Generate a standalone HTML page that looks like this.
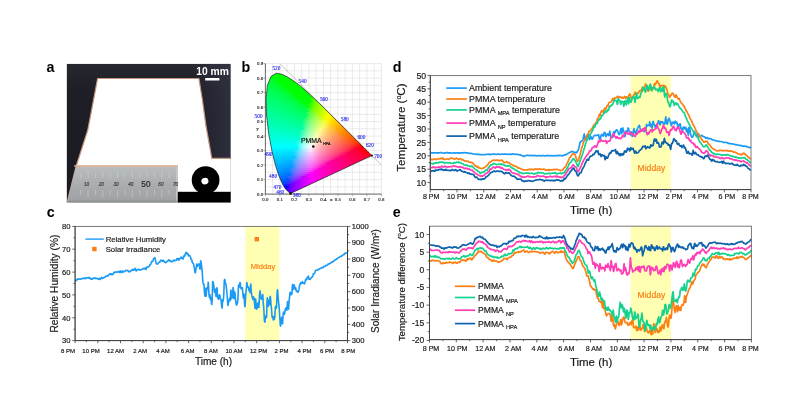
<!DOCTYPE html>
<html lang="en"><head><meta charset="utf-8"><title>Figure</title>
<style>html,body{margin:0;padding:0;background:#fff}svg{display:block}text{white-space:pre}</style>
</head><body>
<svg width="799" height="414" viewBox="0 0 799 414">
<rect width="799" height="414" fill="#fff"/>
<defs>
<linearGradient id="gDark" x1="0" y1="0" x2="0" y2="1"><stop offset="0" stop-color="#27272f"/><stop offset="0.2" stop-color="#1e1e26"/><stop offset="1" stop-color="#1a1a22"/></linearGradient>
<linearGradient id="gRuler" x1="0" y1="0" x2="0" y2="1"><stop offset="0" stop-color="#c9b8aa"/><stop offset="0.06" stop-color="#b9bcbe"/><stop offset="0.3" stop-color="#b0b4b6"/><stop offset="0.62" stop-color="#a6aaac"/><stop offset="0.9" stop-color="#a0a4a6"/><stop offset="1" stop-color="#8f9395"/></linearGradient>
<linearGradient id="gDarkR" x1="0" y1="0" x2="1" y2="0"><stop offset="0" stop-color="#3a3e52" stop-opacity="0"/><stop offset="1" stop-color="#3a3e52" stop-opacity="0.55"/></linearGradient>
<clipPath id="clipA"><rect x="66.6" y="63.7" width="164.1" height="138.8"/></clipPath>
<filter id="blurA" x="-5%" y="-5%" width="110%" height="110%"><feGaussianBlur stdDeviation="0.45"/></filter>
<filter id="blurT" x="-5%" y="-20%" width="110%" height="140%"><feGaussianBlur stdDeviation="0.3"/></filter>
</defs>
<text x="46.4" y="71.7" font-size="14.3" font-weight="bold" fill="#000" font-family="'Liberation Sans', Arial, sans-serif">a</text>
<g clip-path="url(#clipA)">
<rect x="66.6" y="63.7" width="164.1" height="138.8" fill="url(#gDark)"/>
<rect x="190" y="63.7" width="41" height="96" fill="url(#gDarkR)"/>
<g filter="url(#blurA)">
<path d="M97.6,78.5 L198.9,78.5 L202.4,100 L205.9,125.4 L211.8,158.3 L232,158.3 L232,204 L66,204 L67.2,202.5 L76.2,166 L87.8,130 Z" fill="#ffffff" stroke="#c4957c" stroke-width="1.2"/>
<path d="M76.4,165.6 L178,165.6 L178,203 L66.9,203 Z" fill="url(#gRuler)"/>
<rect x="74" y="165.2" width="104" height="1.5" fill="#e6b08e" opacity="0.85"/>
<rect x="176.2" y="167" width="1.8" height="36" fill="#c6cacc" opacity="0.8"/>
<rect x="66" y="200.8" width="112" height="1.2" fill="#8b8f92" opacity="0.7"/>
<line x1="80.7" y1="173.5" x2="80.7" y2="178" stroke="#cfd2d4" stroke-width="0.7" opacity="0.75"/>
<line x1="80.7" y1="190" x2="80.7" y2="195" stroke="#cfd2d4" stroke-width="0.7" opacity="0.75"/>
<line x1="88.1" y1="171" x2="88.1" y2="178" stroke="#cfd2d4" stroke-width="0.7" opacity="0.75"/>
<line x1="88.1" y1="190" x2="88.1" y2="197.5" stroke="#cfd2d4" stroke-width="0.7" opacity="0.75"/>
<line x1="95.4" y1="173.5" x2="95.4" y2="178" stroke="#cfd2d4" stroke-width="0.7" opacity="0.75"/>
<line x1="95.4" y1="190" x2="95.4" y2="195" stroke="#cfd2d4" stroke-width="0.7" opacity="0.75"/>
<line x1="102.8" y1="171" x2="102.8" y2="178" stroke="#cfd2d4" stroke-width="0.7" opacity="0.75"/>
<line x1="102.8" y1="190" x2="102.8" y2="197.5" stroke="#cfd2d4" stroke-width="0.7" opacity="0.75"/>
<line x1="110.2" y1="173.5" x2="110.2" y2="178" stroke="#cfd2d4" stroke-width="0.7" opacity="0.75"/>
<line x1="110.2" y1="190" x2="110.2" y2="195" stroke="#cfd2d4" stroke-width="0.7" opacity="0.75"/>
<line x1="117.6" y1="171" x2="117.6" y2="178" stroke="#cfd2d4" stroke-width="0.7" opacity="0.75"/>
<line x1="117.6" y1="190" x2="117.6" y2="197.5" stroke="#cfd2d4" stroke-width="0.7" opacity="0.75"/>
<line x1="124.9" y1="173.5" x2="124.9" y2="178" stroke="#cfd2d4" stroke-width="0.7" opacity="0.75"/>
<line x1="124.9" y1="190" x2="124.9" y2="195" stroke="#cfd2d4" stroke-width="0.7" opacity="0.75"/>
<line x1="132.3" y1="171" x2="132.3" y2="178" stroke="#cfd2d4" stroke-width="0.7" opacity="0.75"/>
<line x1="132.3" y1="190" x2="132.3" y2="197.5" stroke="#cfd2d4" stroke-width="0.7" opacity="0.75"/>
<line x1="139.7" y1="173.5" x2="139.7" y2="178" stroke="#cfd2d4" stroke-width="0.7" opacity="0.75"/>
<line x1="139.7" y1="190" x2="139.7" y2="195" stroke="#cfd2d4" stroke-width="0.7" opacity="0.75"/>
<line x1="147" y1="171" x2="147" y2="178" stroke="#cfd2d4" stroke-width="0.7" opacity="0.75"/>
<line x1="147" y1="190" x2="147" y2="197.5" stroke="#cfd2d4" stroke-width="0.7" opacity="0.75"/>
<line x1="154.4" y1="173.5" x2="154.4" y2="178" stroke="#cfd2d4" stroke-width="0.7" opacity="0.75"/>
<line x1="154.4" y1="190" x2="154.4" y2="195" stroke="#cfd2d4" stroke-width="0.7" opacity="0.75"/>
<line x1="161.8" y1="171" x2="161.8" y2="178" stroke="#cfd2d4" stroke-width="0.7" opacity="0.75"/>
<line x1="161.8" y1="190" x2="161.8" y2="197.5" stroke="#cfd2d4" stroke-width="0.7" opacity="0.75"/>
<line x1="169.1" y1="173.5" x2="169.1" y2="178" stroke="#cfd2d4" stroke-width="0.7" opacity="0.75"/>
<line x1="169.1" y1="190" x2="169.1" y2="195" stroke="#cfd2d4" stroke-width="0.7" opacity="0.75"/>
<line x1="176.5" y1="171" x2="176.5" y2="178" stroke="#cfd2d4" stroke-width="0.7" opacity="0.75"/>
<line x1="176.5" y1="190" x2="176.5" y2="197.5" stroke="#cfd2d4" stroke-width="0.7" opacity="0.75"/>
</g>
<g filter="url(#blurT)">
<text x="86.5" y="185.8" font-size="4.6" text-anchor="middle" fill="#3d3f42" font-family="'Liberation Sans', Arial, sans-serif" font-style="italic" stroke="#3d3f42" stroke-width="0.18">10</text>
<text x="101.2" y="185.8" font-size="4.6" text-anchor="middle" fill="#3d3f42" font-family="'Liberation Sans', Arial, sans-serif" font-style="italic" stroke="#3d3f42" stroke-width="0.18">20</text>
<text x="116.1" y="185.8" font-size="4.6" text-anchor="middle" fill="#3d3f42" font-family="'Liberation Sans', Arial, sans-serif" font-style="italic" stroke="#3d3f42" stroke-width="0.18">30</text>
<text x="130.8" y="185.8" font-size="4.6" text-anchor="middle" fill="#3d3f42" font-family="'Liberation Sans', Arial, sans-serif" font-style="italic" stroke="#3d3f42" stroke-width="0.18">40</text>
<text x="160.9" y="185.8" font-size="4.6" text-anchor="middle" fill="#3d3f42" font-family="'Liberation Sans', Arial, sans-serif" font-style="italic" stroke="#3d3f42" stroke-width="0.18">60</text>
<text x="175.6" y="185.8" font-size="4.6" text-anchor="middle" fill="#3d3f42" font-family="'Liberation Sans', Arial, sans-serif" font-style="italic" stroke="#3d3f42" stroke-width="0.18">70</text>
<text x="145.9" y="186.9" font-size="8.2" text-anchor="middle" fill="#26282b" font-family="'Liberation Sans', Arial, sans-serif"  stroke="#26282b" stroke-width="0.18">50</text>
</g>
<g filter="url(#blurT)">
<rect x="177.8" y="191.8" width="54" height="12" fill="#000"/>
<circle cx="205.6" cy="180.1" r="13.9" fill="#000"/>
<ellipse cx="204.9" cy="181.1" rx="3.6" ry="3.2" fill="#fff" transform="rotate(-15 204.9 181.1)"/>
</g>
<rect x="205.2" y="78" width="14.2" height="2.5" fill="#fff"/>
<text x="212.6" y="74.7" font-size="10.3" text-anchor="middle" fill="#fff" font-weight="bold" font-family="'Liberation Sans', Arial, sans-serif" >10 mm</text>
</g>
<text x="241.4" y="71.7" font-size="14.3" font-weight="bold" fill="#000" font-family="'Liberation Sans', Arial, sans-serif">b</text>
<path d="M265.4,194.1 V63.6 M272.6,194.1 V63.6 M279.9,194.1 V63.6 M287.1,194.1 V63.6 M294.4,194.1 V63.6 M301.6,194.1 V63.6 M308.9,194.1 V63.6 M316.1,194.1 V63.6 M323.4,194.1 V63.6 M330.6,194.1 V63.6 M337.9,194.1 V63.6 M345.1,194.1 V63.6 M352.4,194.1 V63.6 M359.6,194.1 V63.6 M366.9,194.1 V63.6 M374.1,194.1 V63.6 M381.4,194.1 V63.6 M265.4,194.1 H381.4 M265.4,186.8 H381.4 M265.4,179.6 H381.4 M265.4,172.3 H381.4 M265.4,165.1 H381.4 M265.4,157.8 H381.4 M265.4,150.6 H381.4 M265.4,143.3 H381.4 M265.4,136.1 H381.4 M265.4,128.8 H381.4 M265.4,121.6 H381.4 M265.4,114.3 H381.4 M265.4,107.1 H381.4 M265.4,99.8 H381.4 M265.4,92.6 H381.4 M265.4,85.3 H381.4 M265.4,78.1 H381.4 M265.4,70.8 H381.4 M265.4,63.6 H381.4" stroke="#dcdcdc" stroke-width="0.6" fill="none"/>
<path d="M265.4,63.6 V194.1 H381.4" stroke="#5a5a5a" stroke-width="0.9" fill="none"/>
<path d="M265.4,194.1 h-2 M265.4,179.6 h-2 M265.4,165.1 h-2 M265.4,150.6 h-2 M265.4,136.1 h-2 M265.4,121.6 h-2 M265.4,107.1 h-2 M265.4,92.6 h-2 M265.4,78.1 h-2 M265.4,63.6 h-2 M265.4,194.1 v2 M279.9,194.1 v2 M294.4,194.1 v2 M308.9,194.1 v2 M323.4,194.1 v2 M337.9,194.1 v2 M352.4,194.1 v2 M366.9,194.1 v2 M381.4,194.1 v2" stroke="#777" stroke-width="0.6" fill="none"/>
<line x1="279.9" y1="63.6" x2="381.4" y2="165.1" stroke="#9a9a9a" stroke-width="0.6"/>
<defs><clipPath id="clipB"><path d="M290.6,193.4 L290.6,193.4 L290.5,193.4 L290.4,193.4 L290.3,193.4 L289.9,193.1 L289.2,192.5 L288.1,191.5 L287.3,190.8 L286.3,189.8 L285,188.3 L283.4,185.7 L281.3,181.5 L278.6,174.9 L275.4,165 L272,151.3 L268.8,134.3 L266.6,116 L266,99.2 L267.4,85.3 L271,76.4 L276.2,73.2 L282,74.3 L287.8,77.2 L293.4,80.8 L298.7,84.7 L303.9,89.1 L309.1,93.7 L314.3,98.6 L319.5,103.5 L324.7,108.6 L329.8,113.7 L334.8,118.7 L339.7,123.5 L344.4,128.2 L348.8,132.6 L352.8,136.6 L356.3,140.1 L359.4,143.1 L361.9,145.7 L364,147.7 L365.7,149.4 L367,150.7 L368,151.8 L368.9,152.6 L369.7,153.4 L370.2,153.9 L370.7,154.4 L371.2,154.9 L371.9,155.6 Z"/></clipPath>
<linearGradient id="r0" gradientUnits="userSpaceOnUse" x1="273.3" x2="282" y1="0" y2="0"><stop offset="0.000" stop-color="#00ff00"/><stop offset="0.500" stop-color="#00ff00"/><stop offset="1.000" stop-color="#00ff00"/></linearGradient>
<linearGradient id="r1" gradientUnits="userSpaceOnUse" x1="270.1" x2="286.9" y1="0" y2="0"><stop offset="0.000" stop-color="#00ff00"/><stop offset="0.250" stop-color="#00ff00"/><stop offset="0.500" stop-color="#00ff00"/><stop offset="0.750" stop-color="#00ff00"/><stop offset="1.000" stop-color="#00ff00"/></linearGradient>
<linearGradient id="r2" gradientUnits="userSpaceOnUse" x1="268.9" x2="290.6" y1="0" y2="0"><stop offset="0.000" stop-color="#00ff1f"/><stop offset="0.200" stop-color="#00ff00"/><stop offset="0.400" stop-color="#00ff00"/><stop offset="0.600" stop-color="#00ff00"/><stop offset="0.800" stop-color="#00ff00"/><stop offset="1.000" stop-color="#00ff00"/></linearGradient>
<linearGradient id="r3" gradientUnits="userSpaceOnUse" x1="268.1" x2="293.7" y1="0" y2="0"><stop offset="0.000" stop-color="#00ff30"/><stop offset="0.167" stop-color="#00ff19"/><stop offset="0.333" stop-color="#00ff00"/><stop offset="0.500" stop-color="#00ff00"/><stop offset="0.667" stop-color="#00ff00"/><stop offset="0.833" stop-color="#00ff00"/><stop offset="1.000" stop-color="#00ff00"/></linearGradient>
<linearGradient id="r4" gradientUnits="userSpaceOnUse" x1="267.2" x2="296.6" y1="0" y2="0"><stop offset="0.000" stop-color="#00ff3c"/><stop offset="0.143" stop-color="#00ff2d"/><stop offset="0.286" stop-color="#00ff10"/><stop offset="0.429" stop-color="#00ff00"/><stop offset="0.571" stop-color="#00ff00"/><stop offset="0.714" stop-color="#00ff00"/><stop offset="0.857" stop-color="#00ff00"/><stop offset="1.000" stop-color="#00ff00"/></linearGradient>
<linearGradient id="r5" gradientUnits="userSpaceOnUse" x1="266.4" x2="299.2" y1="0" y2="0"><stop offset="0.000" stop-color="#00ff46"/><stop offset="0.143" stop-color="#00ff39"/><stop offset="0.286" stop-color="#00ff25"/><stop offset="0.429" stop-color="#00ff00"/><stop offset="0.571" stop-color="#00ff00"/><stop offset="0.714" stop-color="#00ff00"/><stop offset="0.857" stop-color="#00ff00"/><stop offset="1.000" stop-color="#00ff00"/></linearGradient>
<linearGradient id="r6" gradientUnits="userSpaceOnUse" x1="265.8" x2="301.8" y1="0" y2="0"><stop offset="0.000" stop-color="#00ff4e"/><stop offset="0.125" stop-color="#00ff43"/><stop offset="0.250" stop-color="#00ff35"/><stop offset="0.375" stop-color="#00ff1e"/><stop offset="0.500" stop-color="#00ff00"/><stop offset="0.625" stop-color="#00ff00"/><stop offset="0.750" stop-color="#00ff00"/><stop offset="0.875" stop-color="#00ff00"/><stop offset="1.000" stop-color="#00ff00"/></linearGradient>
<linearGradient id="r7" gradientUnits="userSpaceOnUse" x1="265.6" x2="304.2" y1="0" y2="0"><stop offset="0.000" stop-color="#00ff55"/><stop offset="0.111" stop-color="#00ff4c"/><stop offset="0.222" stop-color="#00ff41"/><stop offset="0.333" stop-color="#00ff32"/><stop offset="0.444" stop-color="#00ff16"/><stop offset="0.556" stop-color="#00ff00"/><stop offset="0.667" stop-color="#00ff00"/><stop offset="0.778" stop-color="#00ff00"/><stop offset="0.889" stop-color="#00ff00"/><stop offset="1.000" stop-color="#00ff00"/></linearGradient>
<linearGradient id="r8" gradientUnits="userSpaceOnUse" x1="265.4" x2="306.5" y1="0" y2="0"><stop offset="0.000" stop-color="#00ff5b"/><stop offset="0.111" stop-color="#00ff52"/><stop offset="0.222" stop-color="#00ff48"/><stop offset="0.333" stop-color="#00ff3a"/><stop offset="0.444" stop-color="#00ff24"/><stop offset="0.556" stop-color="#00ff00"/><stop offset="0.667" stop-color="#00ff00"/><stop offset="0.778" stop-color="#00ff00"/><stop offset="0.889" stop-color="#00ff00"/><stop offset="1.000" stop-color="#00ff00"/></linearGradient>
<linearGradient id="r9" gradientUnits="userSpaceOnUse" x1="265.2" x2="308.7" y1="0" y2="0"><stop offset="0.000" stop-color="#00ff61"/><stop offset="0.100" stop-color="#00ff5a"/><stop offset="0.200" stop-color="#00ff51"/><stop offset="0.300" stop-color="#00ff45"/><stop offset="0.400" stop-color="#00ff37"/><stop offset="0.500" stop-color="#00ff1f"/><stop offset="0.600" stop-color="#00ff00"/><stop offset="0.700" stop-color="#00ff00"/><stop offset="0.800" stop-color="#00ff00"/><stop offset="0.900" stop-color="#00ff00"/><stop offset="1.000" stop-color="#00ff00"/></linearGradient>
<linearGradient id="r10" gradientUnits="userSpaceOnUse" x1="265" x2="311" y1="0" y2="0"><stop offset="0.000" stop-color="#00ff67"/><stop offset="0.100" stop-color="#00ff60"/><stop offset="0.200" stop-color="#00ff57"/><stop offset="0.300" stop-color="#00ff4c"/><stop offset="0.400" stop-color="#00ff3e"/><stop offset="0.500" stop-color="#00ff2a"/><stop offset="0.600" stop-color="#00ff00"/><stop offset="0.700" stop-color="#00ff00"/><stop offset="0.800" stop-color="#00ff00"/><stop offset="0.900" stop-color="#00ff00"/><stop offset="1.000" stop-color="#00ff00"/></linearGradient>
<linearGradient id="r11" gradientUnits="userSpaceOnUse" x1="264.8" x2="313.1" y1="0" y2="0"><stop offset="0.000" stop-color="#00ff6d"/><stop offset="0.091" stop-color="#00ff66"/><stop offset="0.182" stop-color="#00ff5e"/><stop offset="0.273" stop-color="#00ff55"/><stop offset="0.364" stop-color="#00ff4a"/><stop offset="0.455" stop-color="#00ff3c"/><stop offset="0.545" stop-color="#00ff27"/><stop offset="0.636" stop-color="#00ff00"/><stop offset="0.727" stop-color="#00ff00"/><stop offset="0.818" stop-color="#00ff00"/><stop offset="0.909" stop-color="#00ff00"/><stop offset="1.000" stop-color="#2eff00"/></linearGradient>
<linearGradient id="r12" gradientUnits="userSpaceOnUse" x1="264.6" x2="315.2" y1="0" y2="0"><stop offset="0.000" stop-color="#00ff72"/><stop offset="0.091" stop-color="#00ff6c"/><stop offset="0.182" stop-color="#00ff64"/><stop offset="0.273" stop-color="#00ff5b"/><stop offset="0.364" stop-color="#00ff51"/><stop offset="0.455" stop-color="#00ff43"/><stop offset="0.545" stop-color="#00ff30"/><stop offset="0.636" stop-color="#00ff00"/><stop offset="0.727" stop-color="#00ff00"/><stop offset="0.818" stop-color="#00ff00"/><stop offset="0.909" stop-color="#00ff00"/><stop offset="1.000" stop-color="#59ff00"/></linearGradient>
<linearGradient id="r13" gradientUnits="userSpaceOnUse" x1="264.5" x2="317.3" y1="0" y2="0"><stop offset="0.000" stop-color="#00ff78"/><stop offset="0.083" stop-color="#00ff72"/><stop offset="0.167" stop-color="#00ff6b"/><stop offset="0.250" stop-color="#00ff63"/><stop offset="0.333" stop-color="#00ff5a"/><stop offset="0.417" stop-color="#00ff4f"/><stop offset="0.500" stop-color="#00ff42"/><stop offset="0.583" stop-color="#00ff2e"/><stop offset="0.667" stop-color="#00ff00"/><stop offset="0.750" stop-color="#00ff00"/><stop offset="0.833" stop-color="#00ff00"/><stop offset="0.917" stop-color="#42ff00"/><stop offset="1.000" stop-color="#75ff00"/></linearGradient>
<linearGradient id="r14" gradientUnits="userSpaceOnUse" x1="264.5" x2="319.4" y1="0" y2="0"><stop offset="0.000" stop-color="#00ff7d"/><stop offset="0.083" stop-color="#00ff77"/><stop offset="0.167" stop-color="#00ff70"/><stop offset="0.250" stop-color="#00ff69"/><stop offset="0.333" stop-color="#00ff60"/><stop offset="0.417" stop-color="#00ff55"/><stop offset="0.500" stop-color="#00ff48"/><stop offset="0.583" stop-color="#00ff36"/><stop offset="0.667" stop-color="#00ff0b"/><stop offset="0.750" stop-color="#00ff00"/><stop offset="0.833" stop-color="#00ff00"/><stop offset="0.917" stop-color="#63ff00"/><stop offset="1.000" stop-color="#8dff00"/></linearGradient>
<linearGradient id="r15" gradientUnits="userSpaceOnUse" x1="264.6" x2="321.5" y1="0" y2="0"><stop offset="0.000" stop-color="#00ff82"/><stop offset="0.077" stop-color="#00ff7c"/><stop offset="0.154" stop-color="#00ff76"/><stop offset="0.231" stop-color="#00ff70"/><stop offset="0.308" stop-color="#00ff68"/><stop offset="0.385" stop-color="#00ff5f"/><stop offset="0.462" stop-color="#00ff54"/><stop offset="0.538" stop-color="#00ff47"/><stop offset="0.615" stop-color="#00ff34"/><stop offset="0.692" stop-color="#00ff00"/><stop offset="0.769" stop-color="#00ff00"/><stop offset="0.846" stop-color="#51ff00"/><stop offset="0.923" stop-color="#80ff00"/><stop offset="1.000" stop-color="#a2ff00"/></linearGradient>
<linearGradient id="r16" gradientUnits="userSpaceOnUse" x1="264.6" x2="323.5" y1="0" y2="0"><stop offset="0.000" stop-color="#00ff87"/><stop offset="0.077" stop-color="#00ff81"/><stop offset="0.154" stop-color="#00ff7b"/><stop offset="0.231" stop-color="#00ff75"/><stop offset="0.308" stop-color="#00ff6d"/><stop offset="0.385" stop-color="#00ff65"/><stop offset="0.462" stop-color="#00ff5a"/><stop offset="0.538" stop-color="#00ff4d"/><stop offset="0.615" stop-color="#00ff3b"/><stop offset="0.692" stop-color="#00ff1a"/><stop offset="0.769" stop-color="#25ff00"/><stop offset="0.846" stop-color="#6eff00"/><stop offset="0.923" stop-color="#95ff00"/><stop offset="1.000" stop-color="#b6ff00"/></linearGradient>
<linearGradient id="r17" gradientUnits="userSpaceOnUse" x1="264.7" x2="325.6" y1="0" y2="0"><stop offset="0.000" stop-color="#00ff8b"/><stop offset="0.071" stop-color="#00ff87"/><stop offset="0.143" stop-color="#00ff81"/><stop offset="0.214" stop-color="#00ff7b"/><stop offset="0.286" stop-color="#00ff75"/><stop offset="0.357" stop-color="#00ff6d"/><stop offset="0.429" stop-color="#00ff64"/><stop offset="0.500" stop-color="#00ff5a"/><stop offset="0.571" stop-color="#00ff4d"/><stop offset="0.643" stop-color="#00ff3b"/><stop offset="0.714" stop-color="#00ff17"/><stop offset="0.786" stop-color="#5fff00"/><stop offset="0.857" stop-color="#8bff00"/><stop offset="0.929" stop-color="#acff00"/><stop offset="1.000" stop-color="#c9ff00"/></linearGradient>
<linearGradient id="r18" gradientUnits="userSpaceOnUse" x1="264.8" x2="327.6" y1="0" y2="0"><stop offset="0.000" stop-color="#00ff90"/><stop offset="0.071" stop-color="#00ff8c"/><stop offset="0.143" stop-color="#00ff87"/><stop offset="0.214" stop-color="#00ff81"/><stop offset="0.286" stop-color="#00ff7a"/><stop offset="0.357" stop-color="#00ff73"/><stop offset="0.429" stop-color="#00ff6a"/><stop offset="0.500" stop-color="#00ff60"/><stop offset="0.571" stop-color="#00ff53"/><stop offset="0.643" stop-color="#00ff42"/><stop offset="0.714" stop-color="#3cff25"/><stop offset="0.786" stop-color="#78ff00"/><stop offset="0.857" stop-color="#9fff00"/><stop offset="0.929" stop-color="#bfff00"/><stop offset="1.000" stop-color="#dcff00"/></linearGradient>
<linearGradient id="r19" gradientUnits="userSpaceOnUse" x1="264.9" x2="329.6" y1="0" y2="0"><stop offset="0.000" stop-color="#00ff95"/><stop offset="0.071" stop-color="#00ff91"/><stop offset="0.143" stop-color="#00ff8c"/><stop offset="0.214" stop-color="#00ff86"/><stop offset="0.286" stop-color="#00ff7f"/><stop offset="0.357" stop-color="#00ff78"/><stop offset="0.429" stop-color="#00ff70"/><stop offset="0.500" stop-color="#00ff65"/><stop offset="0.571" stop-color="#00ff59"/><stop offset="0.643" stop-color="#00ff49"/><stop offset="0.714" stop-color="#5eff2f"/><stop offset="0.786" stop-color="#8eff00"/><stop offset="0.857" stop-color="#b3ff00"/><stop offset="0.929" stop-color="#d2ff00"/><stop offset="1.000" stop-color="#f0ff00"/></linearGradient>
<linearGradient id="r20" gradientUnits="userSpaceOnUse" x1="264.9" x2="331.7" y1="0" y2="0"><stop offset="0.000" stop-color="#00ff9a"/><stop offset="0.067" stop-color="#00ff96"/><stop offset="0.133" stop-color="#00ff92"/><stop offset="0.200" stop-color="#00ff8c"/><stop offset="0.267" stop-color="#00ff87"/><stop offset="0.333" stop-color="#00ff80"/><stop offset="0.400" stop-color="#00ff79"/><stop offset="0.467" stop-color="#00ff70"/><stop offset="0.533" stop-color="#00ff66"/><stop offset="0.600" stop-color="#00ff59"/><stop offset="0.667" stop-color="#4eff49"/><stop offset="0.733" stop-color="#84ff2f"/><stop offset="0.800" stop-color="#aaff00"/><stop offset="0.867" stop-color="#caff00"/><stop offset="0.933" stop-color="#e7ff00"/><stop offset="1.000" stop-color="#fffb00"/></linearGradient>
<linearGradient id="r21" gradientUnits="userSpaceOnUse" x1="265" x2="333.7" y1="0" y2="0"><stop offset="0.000" stop-color="#00ff9f"/><stop offset="0.067" stop-color="#00ff9b"/><stop offset="0.133" stop-color="#00ff97"/><stop offset="0.200" stop-color="#00ff92"/><stop offset="0.267" stop-color="#00ff8c"/><stop offset="0.333" stop-color="#00ff86"/><stop offset="0.400" stop-color="#00ff7e"/><stop offset="0.467" stop-color="#00ff76"/><stop offset="0.533" stop-color="#00ff6c"/><stop offset="0.600" stop-color="#00ff60"/><stop offset="0.667" stop-color="#6aff50"/><stop offset="0.733" stop-color="#98ff38"/><stop offset="0.800" stop-color="#bdff00"/><stop offset="0.867" stop-color="#ddff00"/><stop offset="0.933" stop-color="#fbff00"/><stop offset="1.000" stop-color="#ffe800"/></linearGradient>
<linearGradient id="r22" gradientUnits="userSpaceOnUse" x1="265.1" x2="335.7" y1="0" y2="0"><stop offset="0.000" stop-color="#00ffa5"/><stop offset="0.062" stop-color="#00ffa1"/><stop offset="0.125" stop-color="#00ff9d"/><stop offset="0.188" stop-color="#00ff98"/><stop offset="0.250" stop-color="#00ff93"/><stop offset="0.312" stop-color="#00ff8d"/><stop offset="0.375" stop-color="#00ff87"/><stop offset="0.438" stop-color="#00ff80"/><stop offset="0.500" stop-color="#00ff77"/><stop offset="0.562" stop-color="#00ff6d"/><stop offset="0.625" stop-color="#5eff61"/><stop offset="0.688" stop-color="#90ff50"/><stop offset="0.750" stop-color="#b5ff38"/><stop offset="0.812" stop-color="#d6ff00"/><stop offset="0.875" stop-color="#f4ff00"/><stop offset="0.938" stop-color="#ffee00"/><stop offset="1.000" stop-color="#ffd800"/></linearGradient>
<linearGradient id="r23" gradientUnits="userSpaceOnUse" x1="265.3" x2="337.7" y1="0" y2="0"><stop offset="0.000" stop-color="#00ffaa"/><stop offset="0.062" stop-color="#00ffa6"/><stop offset="0.125" stop-color="#00ffa2"/><stop offset="0.188" stop-color="#00ff9e"/><stop offset="0.250" stop-color="#00ff99"/><stop offset="0.312" stop-color="#00ff93"/><stop offset="0.375" stop-color="#00ff8d"/><stop offset="0.438" stop-color="#00ff86"/><stop offset="0.500" stop-color="#00ff7d"/><stop offset="0.562" stop-color="#27ff73"/><stop offset="0.625" stop-color="#78ff67"/><stop offset="0.688" stop-color="#a4ff57"/><stop offset="0.750" stop-color="#c8ff41"/><stop offset="0.812" stop-color="#e9ff00"/><stop offset="0.875" stop-color="#fff600"/><stop offset="0.938" stop-color="#ffdd00"/><stop offset="1.000" stop-color="#ffc800"/></linearGradient>
<linearGradient id="r24" gradientUnits="userSpaceOnUse" x1="265.6" x2="339.7" y1="0" y2="0"><stop offset="0.000" stop-color="#00ffaf"/><stop offset="0.062" stop-color="#00ffab"/><stop offset="0.125" stop-color="#00ffa7"/><stop offset="0.188" stop-color="#00ffa3"/><stop offset="0.250" stop-color="#00ff9e"/><stop offset="0.312" stop-color="#00ff99"/><stop offset="0.375" stop-color="#00ff93"/><stop offset="0.438" stop-color="#00ff8c"/><stop offset="0.500" stop-color="#00ff83"/><stop offset="0.562" stop-color="#53ff7a"/><stop offset="0.625" stop-color="#8eff6e"/><stop offset="0.688" stop-color="#b8ff5e"/><stop offset="0.750" stop-color="#dcff49"/><stop offset="0.812" stop-color="#fdff1d"/><stop offset="0.875" stop-color="#ffe400"/><stop offset="0.938" stop-color="#ffcd00"/><stop offset="1.000" stop-color="#ffba00"/></linearGradient>
<linearGradient id="r25" gradientUnits="userSpaceOnUse" x1="265.8" x2="341.7" y1="0" y2="0"><stop offset="0.000" stop-color="#00ffb4"/><stop offset="0.059" stop-color="#00ffb1"/><stop offset="0.118" stop-color="#00ffad"/><stop offset="0.176" stop-color="#00ffa9"/><stop offset="0.235" stop-color="#00ffa5"/><stop offset="0.294" stop-color="#00ffa0"/><stop offset="0.353" stop-color="#00ff9b"/><stop offset="0.412" stop-color="#00ff95"/><stop offset="0.471" stop-color="#00ff8e"/><stop offset="0.529" stop-color="#47ff86"/><stop offset="0.588" stop-color="#87ff7c"/><stop offset="0.647" stop-color="#b2ff70"/><stop offset="0.706" stop-color="#d6ff60"/><stop offset="0.765" stop-color="#f7ff4a"/><stop offset="0.824" stop-color="#ffe91b"/><stop offset="0.882" stop-color="#ffd100"/><stop offset="0.941" stop-color="#ffbe00"/><stop offset="1.000" stop-color="#ffad00"/></linearGradient>
<linearGradient id="r26" gradientUnits="userSpaceOnUse" x1="266.1" x2="343.7" y1="0" y2="0"><stop offset="0.000" stop-color="#00ffb9"/><stop offset="0.059" stop-color="#00ffb6"/><stop offset="0.118" stop-color="#00ffb3"/><stop offset="0.176" stop-color="#00ffaf"/><stop offset="0.235" stop-color="#00ffab"/><stop offset="0.294" stop-color="#00ffa6"/><stop offset="0.353" stop-color="#00ffa1"/><stop offset="0.412" stop-color="#00ff9b"/><stop offset="0.471" stop-color="#00ff94"/><stop offset="0.529" stop-color="#66ff8c"/><stop offset="0.588" stop-color="#9cff83"/><stop offset="0.647" stop-color="#c5ff77"/><stop offset="0.706" stop-color="#eaff68"/><stop offset="0.765" stop-color="#fff34f"/><stop offset="0.824" stop-color="#ffd826"/><stop offset="0.882" stop-color="#ffc200"/><stop offset="0.941" stop-color="#ffb000"/><stop offset="1.000" stop-color="#ffa000"/></linearGradient>
<linearGradient id="r27" gradientUnits="userSpaceOnUse" x1="266.3" x2="345.7" y1="0" y2="0"><stop offset="0.000" stop-color="#00ffbf"/><stop offset="0.056" stop-color="#00ffbc"/><stop offset="0.111" stop-color="#00ffb9"/><stop offset="0.167" stop-color="#00ffb6"/><stop offset="0.222" stop-color="#00ffb2"/><stop offset="0.278" stop-color="#00ffae"/><stop offset="0.333" stop-color="#00ffa9"/><stop offset="0.389" stop-color="#00ffa4"/><stop offset="0.444" stop-color="#00ff9e"/><stop offset="0.500" stop-color="#5eff98"/><stop offset="0.556" stop-color="#97ff90"/><stop offset="0.611" stop-color="#c1ff86"/><stop offset="0.667" stop-color="#e6ff7a"/><stop offset="0.722" stop-color="#fff667"/><stop offset="0.778" stop-color="#ffda49"/><stop offset="0.833" stop-color="#ffc425"/><stop offset="0.889" stop-color="#ffb200"/><stop offset="0.944" stop-color="#ffa200"/><stop offset="1.000" stop-color="#ff9400"/></linearGradient>
<linearGradient id="r28" gradientUnits="userSpaceOnUse" x1="266.5" x2="347.7" y1="0" y2="0"><stop offset="0.000" stop-color="#00ffc5"/><stop offset="0.056" stop-color="#00ffc2"/><stop offset="0.111" stop-color="#00ffbf"/><stop offset="0.167" stop-color="#00ffbc"/><stop offset="0.222" stop-color="#00ffb8"/><stop offset="0.278" stop-color="#00ffb5"/><stop offset="0.333" stop-color="#00ffb0"/><stop offset="0.389" stop-color="#00ffab"/><stop offset="0.444" stop-color="#00ffa6"/><stop offset="0.500" stop-color="#79ff9f"/><stop offset="0.556" stop-color="#acff97"/><stop offset="0.611" stop-color="#d5ff8e"/><stop offset="0.667" stop-color="#faff82"/><stop offset="0.722" stop-color="#ffe367"/><stop offset="0.778" stop-color="#ffca4b"/><stop offset="0.833" stop-color="#ffb62b"/><stop offset="0.889" stop-color="#ffa500"/><stop offset="0.944" stop-color="#ff9600"/><stop offset="1.000" stop-color="#ff8800"/></linearGradient>
<linearGradient id="r29" gradientUnits="userSpaceOnUse" x1="266.8" x2="349.7" y1="0" y2="0"><stop offset="0.000" stop-color="#00ffca"/><stop offset="0.056" stop-color="#00ffc8"/><stop offset="0.111" stop-color="#00ffc5"/><stop offset="0.167" stop-color="#00ffc2"/><stop offset="0.222" stop-color="#00ffbf"/><stop offset="0.278" stop-color="#00ffbb"/><stop offset="0.333" stop-color="#00ffb7"/><stop offset="0.389" stop-color="#00ffb3"/><stop offset="0.444" stop-color="#49ffad"/><stop offset="0.500" stop-color="#90ffa7"/><stop offset="0.556" stop-color="#c0ff9f"/><stop offset="0.611" stop-color="#eaff96"/><stop offset="0.667" stop-color="#ffef82"/><stop offset="0.722" stop-color="#ffd267"/><stop offset="0.778" stop-color="#ffbb4d"/><stop offset="0.833" stop-color="#ffa830"/><stop offset="0.889" stop-color="#ff9800"/><stop offset="0.944" stop-color="#ff8900"/><stop offset="1.000" stop-color="#ff7c00"/></linearGradient>
<linearGradient id="r30" gradientUnits="userSpaceOnUse" x1="267" x2="351.7" y1="0" y2="0"><stop offset="0.000" stop-color="#00ffd0"/><stop offset="0.053" stop-color="#00ffce"/><stop offset="0.105" stop-color="#00ffcc"/><stop offset="0.158" stop-color="#00ffc9"/><stop offset="0.211" stop-color="#00ffc7"/><stop offset="0.263" stop-color="#00ffc3"/><stop offset="0.316" stop-color="#00ffc0"/><stop offset="0.368" stop-color="#00ffbc"/><stop offset="0.421" stop-color="#3fffb7"/><stop offset="0.474" stop-color="#8cffb2"/><stop offset="0.526" stop-color="#bdffac"/><stop offset="0.579" stop-color="#e7ffa5"/><stop offset="0.632" stop-color="#fff193"/><stop offset="0.684" stop-color="#ffd478"/><stop offset="0.737" stop-color="#ffbc60"/><stop offset="0.789" stop-color="#ffa949"/><stop offset="0.842" stop-color="#ff992e"/><stop offset="0.895" stop-color="#ff8a00"/><stop offset="0.947" stop-color="#ff7d00"/><stop offset="1.000" stop-color="#ff7000"/></linearGradient>
<linearGradient id="r31" gradientUnits="userSpaceOnUse" x1="267.3" x2="353.7" y1="0" y2="0"><stop offset="0.000" stop-color="#00ffd7"/><stop offset="0.053" stop-color="#00ffd5"/><stop offset="0.105" stop-color="#00ffd3"/><stop offset="0.158" stop-color="#00ffd0"/><stop offset="0.211" stop-color="#00ffce"/><stop offset="0.263" stop-color="#00ffcb"/><stop offset="0.316" stop-color="#00ffc8"/><stop offset="0.368" stop-color="#00ffc4"/><stop offset="0.421" stop-color="#63ffc0"/><stop offset="0.474" stop-color="#a3ffbb"/><stop offset="0.526" stop-color="#d2ffb5"/><stop offset="0.579" stop-color="#fcffae"/><stop offset="0.632" stop-color="#ffde90"/><stop offset="0.684" stop-color="#ffc377"/><stop offset="0.737" stop-color="#ffae60"/><stop offset="0.789" stop-color="#ff9c4a"/><stop offset="0.842" stop-color="#ff8c32"/><stop offset="0.895" stop-color="#ff7e00"/><stop offset="0.947" stop-color="#ff7100"/><stop offset="1.000" stop-color="#ff6400"/></linearGradient>
<linearGradient id="r32" gradientUnits="userSpaceOnUse" x1="267.6" x2="355.7" y1="0" y2="0"><stop offset="0.000" stop-color="#00ffdd"/><stop offset="0.050" stop-color="#00ffdb"/><stop offset="0.100" stop-color="#00ffda"/><stop offset="0.150" stop-color="#00ffd8"/><stop offset="0.200" stop-color="#00ffd6"/><stop offset="0.250" stop-color="#00ffd3"/><stop offset="0.300" stop-color="#00ffd1"/><stop offset="0.350" stop-color="#00ffce"/><stop offset="0.400" stop-color="#60ffca"/><stop offset="0.450" stop-color="#a2ffc6"/><stop offset="0.500" stop-color="#d2ffc2"/><stop offset="0.550" stop-color="#fcffbc"/><stop offset="0.600" stop-color="#ffde9e"/><stop offset="0.650" stop-color="#ffc385"/><stop offset="0.700" stop-color="#ffae6f"/><stop offset="0.750" stop-color="#ff9b5b"/><stop offset="0.800" stop-color="#ff8c47"/><stop offset="0.850" stop-color="#ff7d30"/><stop offset="0.900" stop-color="#ff7000"/><stop offset="0.950" stop-color="#ff6300"/><stop offset="1.000" stop-color="#ff5700"/></linearGradient>
<linearGradient id="r33" gradientUnits="userSpaceOnUse" x1="268" x2="357.8" y1="0" y2="0"><stop offset="0.000" stop-color="#00ffe3"/><stop offset="0.050" stop-color="#00ffe2"/><stop offset="0.100" stop-color="#00ffe1"/><stop offset="0.150" stop-color="#00ffdf"/><stop offset="0.200" stop-color="#00ffdd"/><stop offset="0.250" stop-color="#00ffdb"/><stop offset="0.300" stop-color="#00ffd9"/><stop offset="0.350" stop-color="#00ffd7"/><stop offset="0.400" stop-color="#7effd4"/><stop offset="0.450" stop-color="#b9ffd0"/><stop offset="0.500" stop-color="#e8ffcc"/><stop offset="0.550" stop-color="#ffecb8"/><stop offset="0.600" stop-color="#ffcc9b"/><stop offset="0.650" stop-color="#ffb483"/><stop offset="0.700" stop-color="#ff9f6f"/><stop offset="0.750" stop-color="#ff8e5b"/><stop offset="0.800" stop-color="#ff7f48"/><stop offset="0.850" stop-color="#ff7033"/><stop offset="0.900" stop-color="#ff630e"/><stop offset="0.950" stop-color="#ff5600"/><stop offset="1.000" stop-color="#ff4900"/></linearGradient>
<linearGradient id="r34" gradientUnits="userSpaceOnUse" x1="268.4" x2="359.8" y1="0" y2="0"><stop offset="0.000" stop-color="#00ffea"/><stop offset="0.050" stop-color="#00ffe9"/><stop offset="0.100" stop-color="#00ffe8"/><stop offset="0.150" stop-color="#00ffe7"/><stop offset="0.200" stop-color="#00ffe6"/><stop offset="0.250" stop-color="#00ffe4"/><stop offset="0.300" stop-color="#00ffe2"/><stop offset="0.350" stop-color="#41ffe0"/><stop offset="0.400" stop-color="#98ffde"/><stop offset="0.450" stop-color="#d0ffdb"/><stop offset="0.500" stop-color="#fffed7"/><stop offset="0.550" stop-color="#ffd8b3"/><stop offset="0.600" stop-color="#ffbb98"/><stop offset="0.650" stop-color="#ffa582"/><stop offset="0.700" stop-color="#ff916e"/><stop offset="0.750" stop-color="#ff815c"/><stop offset="0.800" stop-color="#ff7249"/><stop offset="0.850" stop-color="#ff6335"/><stop offset="0.900" stop-color="#ff5517"/><stop offset="0.950" stop-color="#ff4700"/><stop offset="1.000" stop-color="#ff3800"/></linearGradient>
<linearGradient id="r35" gradientUnits="userSpaceOnUse" x1="268.8" x2="361.8" y1="0" y2="0"><stop offset="0.000" stop-color="#00fff2"/><stop offset="0.048" stop-color="#00fff1"/><stop offset="0.095" stop-color="#00fff0"/><stop offset="0.143" stop-color="#00ffef"/><stop offset="0.190" stop-color="#00ffef"/><stop offset="0.238" stop-color="#00ffee"/><stop offset="0.286" stop-color="#00ffed"/><stop offset="0.333" stop-color="#40ffeb"/><stop offset="0.381" stop-color="#99ffea"/><stop offset="0.429" stop-color="#d1ffe8"/><stop offset="0.476" stop-color="#fffce4"/><stop offset="0.524" stop-color="#ffd6bf"/><stop offset="0.571" stop-color="#ffb9a3"/><stop offset="0.619" stop-color="#ffa38d"/><stop offset="0.667" stop-color="#ff907a"/><stop offset="0.714" stop-color="#ff7f68"/><stop offset="0.762" stop-color="#ff7058"/><stop offset="0.810" stop-color="#ff6147"/><stop offset="0.857" stop-color="#ff5334"/><stop offset="0.905" stop-color="#ff4519"/><stop offset="0.952" stop-color="#ff3500"/><stop offset="1.000" stop-color="#ff1f00"/></linearGradient>
<linearGradient id="r36" gradientUnits="userSpaceOnUse" x1="269.1" x2="363.8" y1="0" y2="0"><stop offset="0.000" stop-color="#00fff9"/><stop offset="0.048" stop-color="#00fff9"/><stop offset="0.095" stop-color="#00fff9"/><stop offset="0.143" stop-color="#00fff8"/><stop offset="0.190" stop-color="#00fff8"/><stop offset="0.238" stop-color="#00fff8"/><stop offset="0.286" stop-color="#00fff7"/><stop offset="0.333" stop-color="#69fff7"/><stop offset="0.381" stop-color="#b3fff6"/><stop offset="0.429" stop-color="#eafff5"/><stop offset="0.476" stop-color="#ffe5db"/><stop offset="0.524" stop-color="#ffc3ba"/><stop offset="0.571" stop-color="#ffa9a0"/><stop offset="0.619" stop-color="#ff948b"/><stop offset="0.667" stop-color="#ff8179"/><stop offset="0.714" stop-color="#ff7168"/><stop offset="0.762" stop-color="#ff6258"/><stop offset="0.810" stop-color="#ff5348"/><stop offset="0.857" stop-color="#ff4336"/><stop offset="0.905" stop-color="#ff311e"/><stop offset="0.952" stop-color="#ff1700"/><stop offset="1.000" stop-color="#ff0000"/></linearGradient>
<linearGradient id="r37" gradientUnits="userSpaceOnUse" x1="269.5" x2="365.8" y1="0" y2="0"><stop offset="0.000" stop-color="#00fdff"/><stop offset="0.048" stop-color="#00fdff"/><stop offset="0.095" stop-color="#00fdff"/><stop offset="0.143" stop-color="#00fcff"/><stop offset="0.190" stop-color="#00fcff"/><stop offset="0.238" stop-color="#00fcff"/><stop offset="0.286" stop-color="#00fcff"/><stop offset="0.333" stop-color="#87fbff"/><stop offset="0.381" stop-color="#c9fbff"/><stop offset="0.429" stop-color="#fffaff"/><stop offset="0.476" stop-color="#ffd0d4"/><stop offset="0.524" stop-color="#ffb1b6"/><stop offset="0.571" stop-color="#ff999e"/><stop offset="0.619" stop-color="#ff858a"/><stop offset="0.667" stop-color="#ff7378"/><stop offset="0.714" stop-color="#ff6368"/><stop offset="0.762" stop-color="#ff5358"/><stop offset="0.810" stop-color="#ff4249"/><stop offset="0.857" stop-color="#ff2f38"/><stop offset="0.905" stop-color="#ff0a22"/><stop offset="0.952" stop-color="#ff0000"/><stop offset="1.000" stop-color="#ff0000"/></linearGradient>
<linearGradient id="r38" gradientUnits="userSpaceOnUse" x1="269.9" x2="367.8" y1="0" y2="0"><stop offset="0.000" stop-color="#00f5ff"/><stop offset="0.045" stop-color="#00f4ff"/><stop offset="0.091" stop-color="#00f4ff"/><stop offset="0.136" stop-color="#00f3ff"/><stop offset="0.182" stop-color="#00f2ff"/><stop offset="0.227" stop-color="#00f1ff"/><stop offset="0.273" stop-color="#00f0ff"/><stop offset="0.318" stop-color="#83efff"/><stop offset="0.364" stop-color="#c2eeff"/><stop offset="0.409" stop-color="#f5ecff"/><stop offset="0.455" stop-color="#ffccde"/><stop offset="0.500" stop-color="#ffaebf"/><stop offset="0.545" stop-color="#ff96a7"/><stop offset="0.591" stop-color="#ff8293"/><stop offset="0.636" stop-color="#ff7082"/><stop offset="0.682" stop-color="#ff5f72"/><stop offset="0.727" stop-color="#ff4e63"/><stop offset="0.773" stop-color="#ff3d55"/><stop offset="0.818" stop-color="#ff2747"/><stop offset="0.864" stop-color="#ff0037"/><stop offset="0.909" stop-color="#ff0022"/><stop offset="0.955" stop-color="#ff0000"/><stop offset="1.000" stop-color="#ff0000"/></linearGradient>
<linearGradient id="r39" gradientUnits="userSpaceOnUse" x1="270.2" x2="369.8" y1="0" y2="0"><stop offset="0.000" stop-color="#00edff"/><stop offset="0.045" stop-color="#00ecff"/><stop offset="0.091" stop-color="#00ebff"/><stop offset="0.136" stop-color="#00eaff"/><stop offset="0.182" stop-color="#00e8ff"/><stop offset="0.227" stop-color="#00e7ff"/><stop offset="0.273" stop-color="#3ae5ff"/><stop offset="0.318" stop-color="#96e3ff"/><stop offset="0.364" stop-color="#cfe0ff"/><stop offset="0.409" stop-color="#ffddff"/><stop offset="0.455" stop-color="#ffb8d8"/><stop offset="0.500" stop-color="#ff9dbb"/><stop offset="0.545" stop-color="#ff86a5"/><stop offset="0.591" stop-color="#ff7291"/><stop offset="0.636" stop-color="#ff6081"/><stop offset="0.682" stop-color="#ff4e72"/><stop offset="0.727" stop-color="#ff3b63"/><stop offset="0.773" stop-color="#ff2356"/><stop offset="0.818" stop-color="#ff0047"/><stop offset="0.864" stop-color="#ff0038"/><stop offset="0.909" stop-color="#ff0025"/><stop offset="0.955" stop-color="#ff0000"/><stop offset="1.000" stop-color="#ff0000"/></linearGradient>
<linearGradient id="r40" gradientUnits="userSpaceOnUse" x1="270.7" x2="371.8" y1="0" y2="0"><stop offset="0.000" stop-color="#00e5ff"/><stop offset="0.045" stop-color="#00e4ff"/><stop offset="0.091" stop-color="#00e2ff"/><stop offset="0.136" stop-color="#00e0ff"/><stop offset="0.182" stop-color="#00deff"/><stop offset="0.227" stop-color="#00dcff"/><stop offset="0.273" stop-color="#5fd9ff"/><stop offset="0.318" stop-color="#a7d6ff"/><stop offset="0.364" stop-color="#dad2ff"/><stop offset="0.409" stop-color="#ffc6f6"/><stop offset="0.455" stop-color="#ffa5d2"/><stop offset="0.500" stop-color="#ff8cb8"/><stop offset="0.545" stop-color="#ff76a2"/><stop offset="0.591" stop-color="#ff6290"/><stop offset="0.636" stop-color="#ff4f80"/><stop offset="0.682" stop-color="#ff3a71"/><stop offset="0.727" stop-color="#ff1f63"/><stop offset="0.773" stop-color="#ff0056"/><stop offset="0.818" stop-color="#ff0048"/><stop offset="0.864" stop-color="#ff0039"/><stop offset="0.909" stop-color="#ff0028"/><stop offset="0.955" stop-color="#ff0000"/><stop offset="1.000" stop-color="#ff0000"/></linearGradient>
<linearGradient id="r41" gradientUnits="userSpaceOnUse" x1="271.2" x2="372.8" y1="0" y2="0"><stop offset="0.000" stop-color="#00ddff"/><stop offset="0.043" stop-color="#00dbff"/><stop offset="0.087" stop-color="#00d9ff"/><stop offset="0.130" stop-color="#00d7ff"/><stop offset="0.174" stop-color="#00d5ff"/><stop offset="0.217" stop-color="#00d2ff"/><stop offset="0.261" stop-color="#5dcfff"/><stop offset="0.304" stop-color="#a1cbff"/><stop offset="0.348" stop-color="#d2c6ff"/><stop offset="0.391" stop-color="#fdc1ff"/><stop offset="0.435" stop-color="#ffa2dd"/><stop offset="0.478" stop-color="#ff88c2"/><stop offset="0.522" stop-color="#ff72ac"/><stop offset="0.565" stop-color="#ff5e9a"/><stop offset="0.609" stop-color="#ff4b8a"/><stop offset="0.652" stop-color="#ff357c"/><stop offset="0.696" stop-color="#ff106e"/><stop offset="0.739" stop-color="#ff0062"/><stop offset="0.783" stop-color="#ff0055"/><stop offset="0.826" stop-color="#ff0049"/><stop offset="0.870" stop-color="#ff003b"/><stop offset="0.913" stop-color="#ff002c"/><stop offset="0.957" stop-color="#ff0013"/><stop offset="1.000" stop-color="#ff0000"/></linearGradient>
<linearGradient id="r42" gradientUnits="userSpaceOnUse" x1="271.6" x2="372.6" y1="0" y2="0"><stop offset="0.000" stop-color="#00d5ff"/><stop offset="0.045" stop-color="#00d3ff"/><stop offset="0.091" stop-color="#00d0ff"/><stop offset="0.136" stop-color="#00ceff"/><stop offset="0.182" stop-color="#00caff"/><stop offset="0.227" stop-color="#00c6ff"/><stop offset="0.273" stop-color="#7ec2ff"/><stop offset="0.318" stop-color="#b7bdff"/><stop offset="0.364" stop-color="#e4b7ff"/><stop offset="0.409" stop-color="#ffa6f1"/><stop offset="0.455" stop-color="#ff89d1"/><stop offset="0.500" stop-color="#ff70b9"/><stop offset="0.545" stop-color="#ff5aa4"/><stop offset="0.591" stop-color="#ff4493"/><stop offset="0.636" stop-color="#ff2984"/><stop offset="0.682" stop-color="#ff0076"/><stop offset="0.727" stop-color="#ff0069"/><stop offset="0.773" stop-color="#ff005d"/><stop offset="0.818" stop-color="#ff0051"/><stop offset="0.864" stop-color="#ff0044"/><stop offset="0.909" stop-color="#ff0036"/><stop offset="0.955" stop-color="#ff0024"/><stop offset="1.000" stop-color="#ff0000"/></linearGradient>
<linearGradient id="r43" gradientUnits="userSpaceOnUse" x1="272.1" x2="368.3" y1="0" y2="0"><stop offset="0.000" stop-color="#00cdff"/><stop offset="0.048" stop-color="#00cbff"/><stop offset="0.095" stop-color="#00c8ff"/><stop offset="0.143" stop-color="#00c4ff"/><stop offset="0.190" stop-color="#00c0ff"/><stop offset="0.238" stop-color="#31bcff"/><stop offset="0.286" stop-color="#89b6ff"/><stop offset="0.333" stop-color="#bdb0ff"/><stop offset="0.381" stop-color="#e8a9ff"/><stop offset="0.429" stop-color="#ff96ef"/><stop offset="0.476" stop-color="#ff7ad1"/><stop offset="0.524" stop-color="#ff62b9"/><stop offset="0.571" stop-color="#ff4aa6"/><stop offset="0.619" stop-color="#ff2f95"/><stop offset="0.667" stop-color="#ff0086"/><stop offset="0.714" stop-color="#ff0079"/><stop offset="0.762" stop-color="#ff006c"/><stop offset="0.810" stop-color="#ff0060"/><stop offset="0.857" stop-color="#ff0055"/><stop offset="0.905" stop-color="#ff0048"/><stop offset="0.952" stop-color="#ff003c"/><stop offset="1.000" stop-color="#ff002d"/></linearGradient>
<linearGradient id="r44" gradientUnits="userSpaceOnUse" x1="272.6" x2="364" y1="0" y2="0"><stop offset="0.000" stop-color="#00c5ff"/><stop offset="0.050" stop-color="#00c2ff"/><stop offset="0.100" stop-color="#00bfff"/><stop offset="0.150" stop-color="#00bbff"/><stop offset="0.200" stop-color="#00b6ff"/><stop offset="0.250" stop-color="#4db1ff"/><stop offset="0.300" stop-color="#93aaff"/><stop offset="0.350" stop-color="#c3a3ff"/><stop offset="0.400" stop-color="#ec9aff"/><stop offset="0.450" stop-color="#ff86ed"/><stop offset="0.500" stop-color="#ff6ad1"/><stop offset="0.550" stop-color="#ff51ba"/><stop offset="0.600" stop-color="#ff35a7"/><stop offset="0.650" stop-color="#ff0097"/><stop offset="0.700" stop-color="#ff0088"/><stop offset="0.750" stop-color="#ff007b"/><stop offset="0.800" stop-color="#ff006f"/><stop offset="0.850" stop-color="#ff0064"/><stop offset="0.900" stop-color="#ff0058"/><stop offset="0.950" stop-color="#ff004d"/><stop offset="1.000" stop-color="#ff0041"/></linearGradient>
<linearGradient id="r45" gradientUnits="userSpaceOnUse" x1="273.1" x2="359.7" y1="0" y2="0"><stop offset="0.000" stop-color="#00bdff"/><stop offset="0.053" stop-color="#00baff"/><stop offset="0.105" stop-color="#00b5ff"/><stop offset="0.158" stop-color="#00b1ff"/><stop offset="0.211" stop-color="#00abff"/><stop offset="0.263" stop-color="#5fa5ff"/><stop offset="0.316" stop-color="#9b9eff"/><stop offset="0.368" stop-color="#c896ff"/><stop offset="0.421" stop-color="#ef8bff"/><stop offset="0.474" stop-color="#ff74ec"/><stop offset="0.526" stop-color="#ff58d0"/><stop offset="0.579" stop-color="#ff3cbb"/><stop offset="0.632" stop-color="#ff00a8"/><stop offset="0.684" stop-color="#ff0099"/><stop offset="0.737" stop-color="#ff008b"/><stop offset="0.789" stop-color="#ff007e"/><stop offset="0.842" stop-color="#ff0072"/><stop offset="0.895" stop-color="#ff0067"/><stop offset="0.947" stop-color="#ff005c"/><stop offset="1.000" stop-color="#ff0051"/></linearGradient>
<linearGradient id="r46" gradientUnits="userSpaceOnUse" x1="273.6" x2="355.4" y1="0" y2="0"><stop offset="0.000" stop-color="#00b5ff"/><stop offset="0.056" stop-color="#00b1ff"/><stop offset="0.111" stop-color="#00acff"/><stop offset="0.167" stop-color="#00a7ff"/><stop offset="0.222" stop-color="#00a1ff"/><stop offset="0.278" stop-color="#6d9aff"/><stop offset="0.333" stop-color="#a391ff"/><stop offset="0.389" stop-color="#cc87ff"/><stop offset="0.444" stop-color="#f27aff"/><stop offset="0.500" stop-color="#ff61eb"/><stop offset="0.556" stop-color="#ff43d0"/><stop offset="0.611" stop-color="#ff17bb"/><stop offset="0.667" stop-color="#ff00aa"/><stop offset="0.722" stop-color="#ff009a"/><stop offset="0.778" stop-color="#ff008c"/><stop offset="0.833" stop-color="#ff0080"/><stop offset="0.889" stop-color="#ff0074"/><stop offset="0.944" stop-color="#ff0069"/><stop offset="1.000" stop-color="#ff005f"/></linearGradient>
<linearGradient id="r47" gradientUnits="userSpaceOnUse" x1="274.2" x2="351" y1="0" y2="0"><stop offset="0.000" stop-color="#00adff"/><stop offset="0.059" stop-color="#00a8ff"/><stop offset="0.118" stop-color="#00a3ff"/><stop offset="0.176" stop-color="#009dff"/><stop offset="0.235" stop-color="#0c96ff"/><stop offset="0.294" stop-color="#798dff"/><stop offset="0.353" stop-color="#aa84ff"/><stop offset="0.412" stop-color="#d177ff"/><stop offset="0.471" stop-color="#f568ff"/><stop offset="0.529" stop-color="#ff4be9"/><stop offset="0.588" stop-color="#ff21d0"/><stop offset="0.647" stop-color="#ff00bc"/><stop offset="0.706" stop-color="#ff00ab"/><stop offset="0.765" stop-color="#ff009c"/><stop offset="0.824" stop-color="#ff008e"/><stop offset="0.882" stop-color="#ff0082"/><stop offset="0.941" stop-color="#ff0077"/><stop offset="1.000" stop-color="#ff006c"/></linearGradient>
<linearGradient id="r48" gradientUnits="userSpaceOnUse" x1="274.9" x2="346.7" y1="0" y2="0"><stop offset="0.000" stop-color="#00a4ff"/><stop offset="0.062" stop-color="#009fff"/><stop offset="0.125" stop-color="#0099ff"/><stop offset="0.188" stop-color="#0092ff"/><stop offset="0.250" stop-color="#3e8aff"/><stop offset="0.312" stop-color="#8480ff"/><stop offset="0.375" stop-color="#b075ff"/><stop offset="0.438" stop-color="#d666ff"/><stop offset="0.500" stop-color="#f851ff"/><stop offset="0.562" stop-color="#ff29e8"/><stop offset="0.625" stop-color="#ff00d0"/><stop offset="0.688" stop-color="#ff00bd"/><stop offset="0.750" stop-color="#ff00ac"/><stop offset="0.812" stop-color="#ff009d"/><stop offset="0.875" stop-color="#ff0090"/><stop offset="0.938" stop-color="#ff0084"/><stop offset="1.000" stop-color="#ff0079"/></linearGradient>
<linearGradient id="r49" gradientUnits="userSpaceOnUse" x1="275.5" x2="342.4" y1="0" y2="0"><stop offset="0.000" stop-color="#009bff"/><stop offset="0.067" stop-color="#0095ff"/><stop offset="0.133" stop-color="#008eff"/><stop offset="0.200" stop-color="#0086ff"/><stop offset="0.267" stop-color="#547dff"/><stop offset="0.333" stop-color="#8d72ff"/><stop offset="0.400" stop-color="#b664ff"/><stop offset="0.467" stop-color="#da51ff"/><stop offset="0.533" stop-color="#fa31ff"/><stop offset="0.600" stop-color="#ff00e7"/><stop offset="0.667" stop-color="#ff00d0"/><stop offset="0.733" stop-color="#ff00bd"/><stop offset="0.800" stop-color="#ff00ad"/><stop offset="0.867" stop-color="#ff009f"/><stop offset="0.933" stop-color="#ff0092"/><stop offset="1.000" stop-color="#ff0087"/></linearGradient>
<linearGradient id="r50" gradientUnits="userSpaceOnUse" x1="276.2" x2="338.1" y1="0" y2="0"><stop offset="0.000" stop-color="#0092ff"/><stop offset="0.071" stop-color="#008bff"/><stop offset="0.143" stop-color="#0083ff"/><stop offset="0.214" stop-color="#007aff"/><stop offset="0.286" stop-color="#636fff"/><stop offset="0.357" stop-color="#9562ff"/><stop offset="0.429" stop-color="#bc50ff"/><stop offset="0.500" stop-color="#dd33ff"/><stop offset="0.571" stop-color="#fc00ff"/><stop offset="0.643" stop-color="#ff00e6"/><stop offset="0.714" stop-color="#ff00d0"/><stop offset="0.786" stop-color="#ff00be"/><stop offset="0.857" stop-color="#ff00ae"/><stop offset="0.929" stop-color="#ff00a1"/><stop offset="1.000" stop-color="#ff0094"/></linearGradient>
<linearGradient id="r51" gradientUnits="userSpaceOnUse" x1="276.9" x2="333.8" y1="0" y2="0"><stop offset="0.000" stop-color="#0088ff"/><stop offset="0.077" stop-color="#0080ff"/><stop offset="0.154" stop-color="#0078ff"/><stop offset="0.231" stop-color="#006dff"/><stop offset="0.308" stop-color="#7060ff"/><stop offset="0.385" stop-color="#9c4fff"/><stop offset="0.462" stop-color="#c035ff"/><stop offset="0.538" stop-color="#e000ff"/><stop offset="0.615" stop-color="#fe00ff"/><stop offset="0.692" stop-color="#ff00e6"/><stop offset="0.769" stop-color="#ff00d1"/><stop offset="0.846" stop-color="#ff00bf"/><stop offset="0.923" stop-color="#ff00b0"/><stop offset="1.000" stop-color="#ff00a2"/></linearGradient>
<linearGradient id="r52" gradientUnits="userSpaceOnUse" x1="277.6" x2="329.5" y1="0" y2="0"><stop offset="0.000" stop-color="#007dff"/><stop offset="0.083" stop-color="#0075ff"/><stop offset="0.167" stop-color="#006bff"/><stop offset="0.250" stop-color="#3a5eff"/><stop offset="0.333" stop-color="#7a4eff"/><stop offset="0.417" stop-color="#a336ff"/><stop offset="0.500" stop-color="#c400ff"/><stop offset="0.583" stop-color="#e300ff"/><stop offset="0.667" stop-color="#ff00ff"/><stop offset="0.750" stop-color="#ff00e6"/><stop offset="0.833" stop-color="#ff00d2"/><stop offset="0.917" stop-color="#ff00c0"/><stop offset="1.000" stop-color="#ff00b2"/></linearGradient>
<linearGradient id="r53" gradientUnits="userSpaceOnUse" x1="278.4" x2="325.2" y1="0" y2="0"><stop offset="0.000" stop-color="#0072ff"/><stop offset="0.100" stop-color="#0067ff"/><stop offset="0.200" stop-color="#0059ff"/><stop offset="0.300" stop-color="#6247ff"/><stop offset="0.400" stop-color="#9327ff"/><stop offset="0.500" stop-color="#b900ff"/><stop offset="0.600" stop-color="#da00ff"/><stop offset="0.700" stop-color="#f800ff"/><stop offset="0.800" stop-color="#ff00eb"/><stop offset="0.900" stop-color="#ff00d4"/><stop offset="1.000" stop-color="#ff00c2"/></linearGradient>
<linearGradient id="r54" gradientUnits="userSpaceOnUse" x1="279.2" x2="320.9" y1="0" y2="0"><stop offset="0.000" stop-color="#0065ff"/><stop offset="0.111" stop-color="#0058ff"/><stop offset="0.222" stop-color="#1346ff"/><stop offset="0.333" stop-color="#702aff"/><stop offset="0.444" stop-color="#9b00ff"/><stop offset="0.556" stop-color="#be00ff"/><stop offset="0.667" stop-color="#dd00ff"/><stop offset="0.778" stop-color="#fa00ff"/><stop offset="0.889" stop-color="#ff00e9"/><stop offset="1.000" stop-color="#ff00d4"/></linearGradient>
<linearGradient id="r55" gradientUnits="userSpaceOnUse" x1="280" x2="316.6" y1="0" y2="0"><stop offset="0.000" stop-color="#0056ff"/><stop offset="0.125" stop-color="#0046ff"/><stop offset="0.250" stop-color="#3e2bff"/><stop offset="0.375" stop-color="#7b00ff"/><stop offset="0.500" stop-color="#a200ff"/><stop offset="0.625" stop-color="#c300ff"/><stop offset="0.750" stop-color="#e100ff"/><stop offset="0.875" stop-color="#fc00ff"/><stop offset="1.000" stop-color="#ff00e9"/></linearGradient>
<linearGradient id="r56" gradientUnits="userSpaceOnUse" x1="281" x2="312.3" y1="0" y2="0"><stop offset="0.000" stop-color="#0044ff"/><stop offset="0.143" stop-color="#002aff"/><stop offset="0.286" stop-color="#5400ff"/><stop offset="0.429" stop-color="#8500ff"/><stop offset="0.571" stop-color="#a900ff"/><stop offset="0.714" stop-color="#c700ff"/><stop offset="0.857" stop-color="#e300ff"/><stop offset="1.000" stop-color="#fd00ff"/></linearGradient>
<linearGradient id="r57" gradientUnits="userSpaceOnUse" x1="282.1" x2="308" y1="0" y2="0"><stop offset="0.000" stop-color="#0028ff"/><stop offset="0.167" stop-color="#0000ff"/><stop offset="0.333" stop-color="#6400ff"/><stop offset="0.500" stop-color="#8d00ff"/><stop offset="0.667" stop-color="#ad00ff"/><stop offset="0.833" stop-color="#ca00ff"/><stop offset="1.000" stop-color="#e400ff"/></linearGradient>
<linearGradient id="r58" gradientUnits="userSpaceOnUse" x1="283.4" x2="303.7" y1="0" y2="0"><stop offset="0.000" stop-color="#0000ff"/><stop offset="0.200" stop-color="#3a00ff"/><stop offset="0.400" stop-color="#7100ff"/><stop offset="0.600" stop-color="#9400ff"/><stop offset="0.800" stop-color="#b100ff"/><stop offset="1.000" stop-color="#cb00ff"/></linearGradient>
<linearGradient id="r59" gradientUnits="userSpaceOnUse" x1="285" x2="299.4" y1="0" y2="0"><stop offset="0.000" stop-color="#0000ff"/><stop offset="0.333" stop-color="#6300ff"/><stop offset="0.667" stop-color="#8f00ff"/><stop offset="1.000" stop-color="#b100ff"/></linearGradient>
<linearGradient id="r60" gradientUnits="userSpaceOnUse" x1="287.2" x2="295.1" y1="0" y2="0"><stop offset="0.000" stop-color="#4800ff"/><stop offset="0.500" stop-color="#7500ff"/><stop offset="1.000" stop-color="#9500ff"/></linearGradient>
</defs>
<g clip-path="url(#clipB)"><rect x="273.3" y="72" width="8.7" height="2.4" fill="url(#r0)"/><rect x="270.1" y="74" width="16.8" height="2.4" fill="url(#r1)"/><rect x="268.9" y="76" width="21.7" height="2.4" fill="url(#r2)"/><rect x="268.1" y="78" width="25.6" height="2.4" fill="url(#r3)"/><rect x="267.2" y="80" width="29.3" height="2.4" fill="url(#r4)"/><rect x="266.4" y="82" width="32.8" height="2.4" fill="url(#r5)"/><rect x="265.8" y="84" width="35.9" height="2.4" fill="url(#r6)"/><rect x="265.6" y="86" width="38.5" height="2.4" fill="url(#r7)"/><rect x="265.4" y="88" width="41.1" height="2.4" fill="url(#r8)"/><rect x="265.2" y="90" width="43.5" height="2.4" fill="url(#r9)"/><rect x="265" y="92" width="46" height="2.4" fill="url(#r10)"/><rect x="264.8" y="94" width="48.3" height="2.4" fill="url(#r11)"/><rect x="264.6" y="96" width="50.7" height="2.4" fill="url(#r12)"/><rect x="264.5" y="98" width="52.9" height="2.4" fill="url(#r13)"/><rect x="264.5" y="100" width="54.9" height="2.4" fill="url(#r14)"/><rect x="264.6" y="102" width="56.9" height="2.4" fill="url(#r15)"/><rect x="264.6" y="104" width="58.9" height="2.4" fill="url(#r16)"/><rect x="264.7" y="106" width="60.8" height="2.4" fill="url(#r17)"/><rect x="264.8" y="108" width="62.8" height="2.4" fill="url(#r18)"/><rect x="264.9" y="110" width="64.8" height="2.4" fill="url(#r19)"/><rect x="264.9" y="112" width="66.7" height="2.4" fill="url(#r20)"/><rect x="265" y="114" width="68.6" height="2.4" fill="url(#r21)"/><rect x="265.1" y="116" width="70.6" height="2.4" fill="url(#r22)"/><rect x="265.3" y="118" width="72.4" height="2.4" fill="url(#r23)"/><rect x="265.6" y="120" width="74.1" height="2.4" fill="url(#r24)"/><rect x="265.8" y="122" width="75.9" height="2.4" fill="url(#r25)"/><rect x="266.1" y="124" width="77.6" height="2.4" fill="url(#r26)"/><rect x="266.3" y="126" width="79.4" height="2.4" fill="url(#r27)"/><rect x="266.5" y="128" width="81.2" height="2.4" fill="url(#r28)"/><rect x="266.8" y="130" width="82.9" height="2.4" fill="url(#r29)"/><rect x="267" y="132" width="84.7" height="2.4" fill="url(#r30)"/><rect x="267.3" y="134" width="86.5" height="2.4" fill="url(#r31)"/><rect x="267.6" y="136" width="88.1" height="2.4" fill="url(#r32)"/><rect x="268" y="138" width="89.7" height="2.4" fill="url(#r33)"/><rect x="268.4" y="140" width="91.4" height="2.4" fill="url(#r34)"/><rect x="268.8" y="142" width="93" height="2.4" fill="url(#r35)"/><rect x="269.1" y="144" width="94.7" height="2.4" fill="url(#r36)"/><rect x="269.5" y="146" width="96.3" height="2.4" fill="url(#r37)"/><rect x="269.9" y="148" width="97.9" height="2.4" fill="url(#r38)"/><rect x="270.2" y="150" width="99.6" height="2.4" fill="url(#r39)"/><rect x="270.7" y="152" width="101.2" height="2.4" fill="url(#r40)"/><rect x="271.2" y="154" width="101.7" height="2.4" fill="url(#r41)"/><rect x="271.6" y="156" width="100.9" height="2.4" fill="url(#r42)"/><rect x="272.1" y="158" width="96.1" height="2.4" fill="url(#r43)"/><rect x="272.6" y="160" width="91.3" height="2.4" fill="url(#r44)"/><rect x="273.1" y="162" width="86.5" height="2.4" fill="url(#r45)"/><rect x="273.6" y="164" width="81.7" height="2.4" fill="url(#r46)"/><rect x="274.2" y="166" width="76.8" height="2.4" fill="url(#r47)"/><rect x="274.9" y="168" width="71.9" height="2.4" fill="url(#r48)"/><rect x="275.5" y="170" width="66.9" height="2.4" fill="url(#r49)"/><rect x="276.2" y="172" width="61.9" height="2.4" fill="url(#r50)"/><rect x="276.9" y="174" width="57" height="2.4" fill="url(#r51)"/><rect x="277.6" y="176" width="51.9" height="2.4" fill="url(#r52)"/><rect x="278.4" y="178" width="46.8" height="2.4" fill="url(#r53)"/><rect x="279.2" y="180" width="41.7" height="2.4" fill="url(#r54)"/><rect x="280" y="182" width="36.5" height="2.4" fill="url(#r55)"/><rect x="281" y="184" width="31.2" height="2.4" fill="url(#r56)"/><rect x="282.1" y="186" width="25.9" height="2.4" fill="url(#r57)"/><rect x="283.4" y="188" width="20.3" height="2.4" fill="url(#r58)"/><rect x="285" y="190" width="14.3" height="2.4" fill="url(#r59)"/><rect x="287.2" y="192" width="7.9" height="2.4" fill="url(#r60)"/></g>
<path d="M290.6,193.4 L290.6,193.4 L290.5,193.4 L290.4,193.4 L290.3,193.4 L289.9,193.1 L289.2,192.5 L288.1,191.5 L287.3,190.8 L286.3,189.8 L285,188.3 L283.4,185.7 L281.3,181.5 L278.6,174.9 L275.4,165 L272,151.3 L268.8,134.3 L266.6,116 L266,99.2 L267.4,85.3 L271,76.4 L276.2,73.2 L282,74.3 L287.8,77.2 L293.4,80.8 L298.7,84.7 L303.9,89.1 L309.1,93.7 L314.3,98.6 L319.5,103.5 L324.7,108.6 L329.8,113.7 L334.8,118.7 L339.7,123.5 L344.4,128.2 L348.8,132.6 L352.8,136.6 L356.3,140.1 L359.4,143.1 L361.9,145.7 L364,147.7 L365.7,149.4 L367,150.7 L368,151.8 L368.9,152.6 L369.7,153.4 L370.2,153.9 L370.7,154.4 L371.2,154.9 L371.9,155.6 Z" fill="none" stroke="#222" stroke-width="0.7"/>
<circle cx="371.9" cy="155.6" r="1.05" fill="#111"/>
<circle cx="290.6" cy="193.4" r="1.3" fill="#111"/>
<text x="276.4" y="70.2" font-size="5.3" text-anchor="middle" fill="#2222e6" font-family="'Liberation Serif', 'Times New Roman', serif" stroke="#2222e6" stroke-width="0.12">520</text>
<text x="302.6" y="82.6" font-size="5.3" text-anchor="middle" fill="#2222e6" font-family="'Liberation Serif', 'Times New Roman', serif" stroke="#2222e6" stroke-width="0.12">540</text>
<text x="323.9" y="101.2" font-size="5.3" text-anchor="middle" fill="#2222e6" font-family="'Liberation Serif', 'Times New Roman', serif" stroke="#2222e6" stroke-width="0.12">560</text>
<text x="344.8" y="121.2" font-size="5.3" text-anchor="middle" fill="#2222e6" font-family="'Liberation Serif', 'Times New Roman', serif" stroke="#2222e6" stroke-width="0.12">580</text>
<text x="361.4" y="138.6" font-size="5.3" text-anchor="middle" fill="#2222e6" font-family="'Liberation Serif', 'Times New Roman', serif" stroke="#2222e6" stroke-width="0.12">600</text>
<text x="369.9" y="147.1" font-size="5.3" text-anchor="middle" fill="#2222e6" font-family="'Liberation Serif', 'Times New Roman', serif" stroke="#2222e6" stroke-width="0.12">620</text>
<text x="378.2" y="157.7" font-size="5.3" text-anchor="middle" fill="#2222e6" font-family="'Liberation Serif', 'Times New Roman', serif" stroke="#2222e6" stroke-width="0.12">700</text>
<text x="258.6" y="118.2" font-size="5.3" text-anchor="middle" fill="#2222e6" font-family="'Liberation Serif', 'Times New Roman', serif" stroke="#2222e6" stroke-width="0.12">500</text>
<text x="268.5" y="156.2" font-size="5.3" text-anchor="middle" fill="#2222e6" font-family="'Liberation Serif', 'Times New Roman', serif" stroke="#2222e6" stroke-width="0.12">490</text>
<text x="273.1" y="178" font-size="5.3" text-anchor="middle" fill="#2222e6" font-family="'Liberation Serif', 'Times New Roman', serif" stroke="#2222e6" stroke-width="0.12">480</text>
<text x="277.4" y="189" font-size="5.3" text-anchor="middle" fill="#2222e6" font-family="'Liberation Serif', 'Times New Roman', serif" stroke="#2222e6" stroke-width="0.12">470</text>
<text x="280.3" y="194.1" font-size="5.3" text-anchor="middle" fill="#2222e6" font-family="'Liberation Serif', 'Times New Roman', serif" stroke="#2222e6" stroke-width="0.12">460</text>
<text x="297" y="196.5" font-size="5.3" text-anchor="middle" fill="#2222e6" font-family="'Liberation Serif', 'Times New Roman', serif" stroke="#2222e6" stroke-width="0.12">380</text>
<text x="263.2" y="195.7" font-size="4.9" text-anchor="end" fill="#1a1a1a" font-family="'Liberation Serif', 'Times New Roman', serif" stroke="#1a1a1a" stroke-width="0.12">0.0</text>
<text x="263.2" y="181.2" font-size="4.9" text-anchor="end" fill="#1a1a1a" font-family="'Liberation Serif', 'Times New Roman', serif" stroke="#1a1a1a" stroke-width="0.12">0.1</text>
<text x="263.2" y="166.7" font-size="4.9" text-anchor="end" fill="#1a1a1a" font-family="'Liberation Serif', 'Times New Roman', serif" stroke="#1a1a1a" stroke-width="0.12">0.2</text>
<text x="263.2" y="152.2" font-size="4.9" text-anchor="end" fill="#1a1a1a" font-family="'Liberation Serif', 'Times New Roman', serif" stroke="#1a1a1a" stroke-width="0.12">0.3</text>
<text x="263.2" y="137.7" font-size="4.9" text-anchor="end" fill="#1a1a1a" font-family="'Liberation Serif', 'Times New Roman', serif" stroke="#1a1a1a" stroke-width="0.12">0.4</text>
<text x="263.2" y="123.2" font-size="4.9" text-anchor="end" fill="#1a1a1a" font-family="'Liberation Serif', 'Times New Roman', serif" stroke="#1a1a1a" stroke-width="0.12">0.5</text>
<text x="263.2" y="108.7" font-size="4.9" text-anchor="end" fill="#1a1a1a" font-family="'Liberation Serif', 'Times New Roman', serif" stroke="#1a1a1a" stroke-width="0.12">0.6</text>
<text x="263.2" y="94.2" font-size="4.9" text-anchor="end" fill="#1a1a1a" font-family="'Liberation Serif', 'Times New Roman', serif" stroke="#1a1a1a" stroke-width="0.12">0.7</text>
<text x="263.2" y="79.7" font-size="4.9" text-anchor="end" fill="#1a1a1a" font-family="'Liberation Serif', 'Times New Roman', serif" stroke="#1a1a1a" stroke-width="0.12">0.8</text>
<text x="263.2" y="65.2" font-size="4.9" text-anchor="end" fill="#1a1a1a" font-family="'Liberation Serif', 'Times New Roman', serif" stroke="#1a1a1a" stroke-width="0.12">0.9</text>
<text x="265.4" y="201.4" font-size="4.9" text-anchor="middle" fill="#1a1a1a" font-family="'Liberation Serif', 'Times New Roman', serif" stroke="#1a1a1a" stroke-width="0.12">0.0</text>
<text x="279.9" y="201.4" font-size="4.9" text-anchor="middle" fill="#1a1a1a" font-family="'Liberation Serif', 'Times New Roman', serif" stroke="#1a1a1a" stroke-width="0.12">0.1</text>
<text x="294.4" y="201.4" font-size="4.9" text-anchor="middle" fill="#1a1a1a" font-family="'Liberation Serif', 'Times New Roman', serif" stroke="#1a1a1a" stroke-width="0.12">0.2</text>
<text x="308.9" y="201.4" font-size="4.9" text-anchor="middle" fill="#1a1a1a" font-family="'Liberation Serif', 'Times New Roman', serif" stroke="#1a1a1a" stroke-width="0.12">0.3</text>
<text x="323.4" y="201.4" font-size="4.9" text-anchor="middle" fill="#1a1a1a" font-family="'Liberation Serif', 'Times New Roman', serif" stroke="#1a1a1a" stroke-width="0.12">0.4</text>
<text x="337.9" y="201.4" font-size="4.9" text-anchor="middle" fill="#1a1a1a" font-family="'Liberation Serif', 'Times New Roman', serif" stroke="#1a1a1a" stroke-width="0.12">0.5</text>
<text x="352.4" y="201.4" font-size="4.9" text-anchor="middle" fill="#1a1a1a" font-family="'Liberation Serif', 'Times New Roman', serif" stroke="#1a1a1a" stroke-width="0.12">0.6</text>
<text x="366.9" y="201.4" font-size="4.9" text-anchor="middle" fill="#1a1a1a" font-family="'Liberation Serif', 'Times New Roman', serif" stroke="#1a1a1a" stroke-width="0.12">0.7</text>
<text x="381.4" y="201.4" font-size="4.9" text-anchor="middle" fill="#1a1a1a" font-family="'Liberation Serif', 'Times New Roman', serif" stroke="#1a1a1a" stroke-width="0.12">0.8</text>
<text x="257.6" y="130.2" font-size="5" text-anchor="middle" fill="#333" font-family="'Liberation Serif', 'Times New Roman', serif"  stroke="#333" stroke-width="0.18">y</text>
<text x="331.2" y="200.6" font-size="5" text-anchor="middle" fill="#333" font-family="'Liberation Serif', 'Times New Roman', serif"  stroke="#333" stroke-width="0.18">x</text>
<circle cx="313.3" cy="146.6" r="1.25" fill="#000"/>
<text x="301" y="142.8" font-size="6.9" text-anchor="start" fill="#111" font-family="'Liberation Sans', Arial, sans-serif"  stroke="#111" stroke-width="0.18">PMMA</text>
<text x="323.2" y="144.6" font-size="3.6" text-anchor="start" fill="#111" font-family="'Liberation Sans', Arial, sans-serif"  stroke="#111" stroke-width="0.18">HPA</text>
<text x="46.7" y="217.1" font-size="14.3" font-weight="bold" fill="#000" font-family="'Liberation Sans', Arial, sans-serif">c</text>
<rect x="245.3" y="226.4" width="34" height="114.2" fill="#ffffb4"/>
<polyline fill="none" stroke="#1a9af5" stroke-width="1.6" stroke-linejoin="round" stroke-linecap="round"  points="75.3,281.2 75.6,280.8 75.9,280.3 76.2,279.9 76.5,280 76.8,280.2 77.1,279.7 77.4,279.1 77.7,278.9 78,279 78.3,279.1 78.6,279.1 78.9,278.9 79.2,278.9 79.5,279 79.8,279.2 80.1,279.3 80.4,279.2 80.7,279 81,279 81.3,279 81.6,278.8 81.9,278.7 82.2,278.7 82.5,278.6 82.8,278.4 83.1,278.2 83.4,278.1 83.7,278.3 84,278.6 84.3,278.3 84.6,278.1 84.9,278.1 85.2,278.2 85.5,278.6 85.8,278.6 86.1,278 86.4,277.8 86.7,277.8 87,277.8 87.3,277.9 87.6,277.8 87.9,277.7 88.2,277.8 88.5,277.9 88.8,278.1 89.1,277.9 89.4,277.3 89.7,277.4 90,278 90.3,278.5 90.6,278.9 90.9,279.1 91.2,279.2 91.5,279.1 91.8,279.1 92.1,279.3 92.4,279 92.7,278.2 93,278.1 93.3,278.4 93.6,278.5 93.9,278.4 94.2,278.3 94.5,278.2 94.8,277.9 95.1,277.9 95.4,278 95.7,278.3 96,278.6 96.3,278.5 96.6,278.2 96.9,278.3 97.2,278.6 97.5,278.7 97.8,278.7 98.1,279.1 98.4,279.3 98.7,279.1 99,278.8 99.3,278.4 99.6,278.6 99.9,278.9 100.2,279.3 100.5,279.5 100.8,278.6 101.1,277.8 101.4,277.3 101.7,277.5 102,278 102.3,278.3 102.6,278.4 102.9,278.3 103.2,278.1 103.5,277.8 103.8,277.4 104.1,277.4 104.4,277.5 104.7,277.4 105,277.2 105.3,276.6 105.6,276.3 105.9,276.4 106.2,276.3 106.5,276.2 106.8,276 107.1,275.9 107.4,276.1 107.7,276.2 108,275.8 108.3,275.2 108.6,274.9 108.9,274.7 109.2,274.6 109.5,274.4 109.8,273.8 110.1,274.1 110.4,274.5 110.7,274 111,273.6 111.3,273.9 111.6,274.3 111.9,274.7 112.2,274.8 112.5,274.7 112.8,274.5 113.1,274.2 113.4,273.4 113.7,272.4 114,272.4 114.3,272.3 114.6,272.6 114.9,272.5 115.2,272.1 115.5,271.9 115.8,272.1 116.1,272.2 116.4,272.3 116.7,272.2 117,272 117.3,272.1 117.6,272.1 117.9,271.6 118.2,271.4 118.5,271.9 118.8,272 119.1,271.7 119.4,272 119.7,272.5 120,271.8 120.3,270.9 120.6,271.1 120.9,271.5 121.2,272.2 121.5,272.6 121.8,272.3 122.1,271.8 122.4,271 122.7,271.2 123,271.9 123.3,271.9 123.6,271.9 123.9,271.6 124.2,271.4 124.5,271.5 124.8,271.4 125.1,270.8 125.4,270.5 125.7,270.6 126,270.3 126.3,270.3 126.6,270.4 126.9,270.6 127.2,270.6 127.5,270.6 127.8,270.4 128.1,270.5 128.4,271.2 128.7,271.7 129,271.8 129.3,271.8 129.6,271.9 129.9,271.6 130.2,271 130.5,271.2 130.8,271.2 131.1,270.6 131.4,270.2 131.7,270.5 132,270.5 132.3,270.2 132.6,269.8 132.9,269.2 133.2,269.6 133.5,270.2 133.8,270.3 134.1,270.2 134.4,269.7 134.7,269.1 135,268.4 135.3,268.5 135.6,269.4 135.9,270.2 136.2,270.9 136.5,270.6 136.8,270.1 137.1,269.9 137.4,269.8 137.7,269.8 138,269.7 138.3,269.3 138.6,269.3 138.9,269.8 139.2,269.7 139.5,269.5 139.8,269.8 140.1,270.1 140.4,269.9 140.7,269.8 141,269.8 141.3,269.7 141.6,269.4 141.9,269.2 142.2,269.3 142.5,269.2 142.8,268.9 143.1,268.6 143.4,268.5 143.7,268.7 144,268.9 144.3,268.9 144.6,268.6 144.9,268.1 145.2,268 145.5,268.5 145.8,269 146.1,269.5 146.4,268.4 146.7,267 147,267 147.3,267.2 147.6,267.1 147.9,267.1 148.2,266.9 148.5,266.6 148.8,266.6 149.1,266.4 149.4,266 149.7,265.4 150,264.7 150.3,264.6 150.6,264.4 150.9,263.6 151.2,262.6 151.5,261.7 151.8,261.4 152.1,261.8 152.4,261.7 152.7,261.4 153,260.6 153.3,259.7 153.6,258.9 153.9,258.3 154.2,258.5 154.5,258.4 154.8,257.7 155.1,258.2 155.4,259.7 155.7,261.4 156,262.9 156.3,263.5 156.6,263.7 156.9,264.1 157.2,264.2 157.5,264.1 157.8,263.8 158.1,263.5 158.4,263.1 158.7,262.7 159,262.4 159.3,262.3 159.6,262.2 159.9,262 160.2,261.1 160.5,260.4 160.8,260.9 161.1,261 161.4,260.3 161.7,260.2 162,260.4 162.3,260.8 162.6,261.3 162.9,260.9 163.2,260.3 163.5,260.5 163.8,260.8 164.1,261.6 164.4,262 164.7,261.8 165,262 165.3,262.5 165.6,262.7 165.9,262.6 166.2,262.5 166.5,262.2 166.8,261.7 167.1,261.3 167.4,261.3 167.7,261.1 168,260.7 168.3,260.3 168.6,259.9 168.9,259.9 169.2,260.1 169.5,260.5 169.8,261 170.1,260.7 170.4,260.5 170.7,261.3 171,261.7 171.3,261.5 171.6,261.6 171.9,261.6 172.2,261.6 172.5,261.6 172.8,261.2 173.1,260.9 173.4,260.3 173.7,260 174,260.6 174.3,260.9 174.6,260.6 174.9,260.4 175.2,260.3 175.5,260.3 175.8,260.4 176.1,260.3 176.4,260.1 176.7,259.4 177,258.6 177.3,259.2 177.6,259.5 177.9,258.8 178.2,258.5 178.5,258.7 178.8,259.4 179.1,260.2 179.4,259.6 179.7,258.7 180,258.5 180.3,258.2 180.6,257.8 180.9,257.5 181.2,257.1 181.5,257.4 181.8,258.5 182.1,258.6 182.4,258.4 182.7,258.6 183,258.9 183.3,257.9 183.6,256.4 183.9,255.9 184.2,255.7 184.5,256.3 184.8,256 185.1,254.5 185.4,253.6 185.7,253 186,252.6 186.3,252.4 186.6,253.2 186.9,254 187.2,253.5 187.5,253.3 187.8,253.7 188.1,254.6 188.4,255.9 188.7,255.9 189,255.3 189.3,255.3 189.6,255.4 189.9,255.8 190.2,256.5 190.5,257.1 190.8,257.9 191.1,259.2 191.4,259.8 191.7,259.8 192,260.8 192.3,262.4 192.6,262.9 192.9,263.2 193.2,263.3 193.5,263.8 193.8,265.2 194.1,266.9 194.4,268.4 194.7,270.3 195,272.4 195.3,272.9 195.6,271.6 195.9,269.8 196.2,267.3 196.5,265.3 196.8,264 197.1,265.6 197.4,266.5 197.7,265.1 198,264.5 198.3,264.7 198.6,264.4 198.9,263.9 199.2,264.9 199.5,266.1 199.8,268.2 200.1,269.1 200.4,263.8 200.7,260.7 201,262 201.3,263.9 201.6,266.4 201.9,268.7 202.2,271.6 202.5,276.5 202.8,281.3 203.1,282.9 203.4,284 203.7,283.7 204,285 204.3,290 204.6,293.8 204.9,296.2 205.2,294 205.5,288.3 205.8,291.2 206.1,296.3 206.4,293.2 206.7,289.6 207,288 207.3,287.4 207.6,288.7 207.9,286.8 208.2,282.2 208.5,285 208.8,292.1 209.1,295.1 209.4,297.3 209.7,295.4 210,294.7 210.3,298.8 210.6,299.7 210.9,297.5 211.2,298.8 211.5,303.6 211.8,304.4 212.1,300.9 212.4,291.7 212.7,281.5 213,281.7 213.3,283.2 213.6,284.6 213.9,286.7 214.2,289.5 214.5,292 214.8,292.4 215.1,291.2 215.4,289.2 215.7,292.2 216,296.4 216.3,292.3 216.6,288.6 216.9,287.8 217.2,289.5 217.5,296.3 217.8,298.4 218.1,295.8 218.4,296.5 218.7,299.3 219,297.6 219.3,294.9 219.6,295.2 219.9,295.4 220.2,297.2 220.5,298.5 220.8,299.1 221.1,300.8 221.4,303.9 221.7,306.2 222,308.1 222.3,305.3 222.6,299.7 222.9,301.1 223.2,301 223.5,298.3 223.8,294.2 224.1,285 224.4,280 224.7,279.4 225,280.4 225.3,283.8 225.6,283.7 225.9,283.7 226.2,286.7 226.5,289 226.8,291.5 227.1,294.7 227.4,299.3 227.7,302.9 228,305.4 228.3,304 228.6,301.5 228.9,300.5 229.2,300.2 229.5,298.8 229.8,298.1 230.1,300.6 230.4,299.1 230.7,290.3 231,290.1 231.3,298.8 231.6,298.4 231.9,293.5 232.2,295 232.5,297.6 232.8,291.9 233.1,287.5 233.4,289.1 233.7,292.6 234,298.6 234.3,298.4 234.6,292 234.9,292.3 235.2,295.9 235.5,298.9 235.8,302.1 236.1,303.6 236.4,304.4 236.7,305.1 237,304.2 237.3,303.6 237.6,302 237.9,299.2 238.2,292.9 238.5,285.1 238.8,285.4 239.1,287.3 239.4,285.5 239.7,284.1 240,282.5 240.3,282.9 240.6,286.5 240.9,288.4 241.2,287.8 241.5,288.2 241.8,289.1 242.1,288.6 242.4,287.8 242.7,291.8 243,295.7 243.3,298 243.6,298.3 243.9,294.1 244.2,295.3 244.5,302.9 244.8,306.7 245.1,305.5 245.4,301.1 245.7,294 246,291.8 246.3,289.3 246.6,284.8 246.9,282.6 247.2,284.3 247.5,286.1 247.8,287.3 248.1,287.3 248.4,287 248.7,288.7 249,290.7 249.3,289.1 249.6,288.5 249.9,292.3 250.2,292.6 250.5,285.9 250.8,284.1 251.1,288.9 251.4,292.3 251.7,294.8 252,296.3 252.3,297.2 252.6,298.6 252.9,299.6 253.2,298.1 253.5,296.8 253.8,297.9 254.1,299.5 254.4,301.6 254.7,304.9 255,308.4 255.3,304.3 255.6,298.7 255.9,302.3 256.2,305.8 256.5,308.8 256.8,309.1 257.1,304.8 257.4,303.8 257.7,307.2 258,305.9 258.3,302.2 258.6,304.6 258.9,307.4 259.2,301.1 259.5,295.5 259.8,292.1 260.1,290.9 260.4,294.1 260.7,296.4 261,297.9 261.3,299.3 261.6,299.2 261.9,299 262.2,299.2 262.5,295.1 262.8,294.7 263.1,300.6 263.4,305 263.7,306.8 264,311.7 264.3,319.4 264.6,322 264.9,322.2 265.2,319.9 265.5,316.2 265.8,316.1 266.1,316.4 266.4,317.7 266.7,314.5 267,302.1 267.3,297.9 267.6,302 267.9,304.1 268.2,306.5 268.5,303.8 268.8,300.3 269.1,304.3 269.4,304.6 269.7,299.6 270,296.9 270.3,296.4 270.6,299 270.9,303.5 271.2,306.5 271.5,309.1 271.8,313.5 272.1,317.2 272.4,316.6 272.7,316.4 273,318.2 273.3,320 273.6,317 273.9,316.6 274.2,319.4 274.5,318.9 274.8,316.8 275.1,312.3 275.4,307.3 275.7,306.1 276,306.4 276.3,308.3 276.6,306.8 276.9,297.5 277.2,291.4 277.5,289.9 277.8,292.2 278.1,297.3 278.4,300.1 278.7,303.2 279,305.6 279.3,308.8 279.6,314.4 279.9,318.9 280.2,324.2 280.5,326.1 280.8,324.3 281.1,322.5 281.4,318.6 281.7,317.6 282,317.2 282.3,321.6 282.6,323.8 282.9,318.5 283.2,314 283.5,312 283.8,312.3 284.1,314.1 284.4,314.1 284.7,313.5 285,311 285.3,309.2 285.6,308.7 285.9,308.1 286.2,307.7 286.5,308.4 286.8,310.3 287.1,307.8 287.4,302.2 287.7,301.6 288,303.1 288.3,306.1 288.6,309.2 288.9,304.4 289.2,300.3 289.5,297.4 289.8,294.3 290.1,292.3 290.4,292.5 290.7,294.3 291,294.8 291.3,294.4 291.6,294.2 291.9,294.1 292.2,288.4 292.5,284.6 292.8,287.8 293.1,289.6 293.4,288.7 293.7,286.9 294,284.7 294.3,285.2 294.6,287.1 294.9,288.5 295.2,289.3 295.5,288.2 295.8,287.8 296.1,290.2 296.4,291.4 296.7,290.8 297,291.1 297.3,291.4 297.6,291.8 297.9,292.4 298.2,291.8 298.5,291 298.8,290 299.1,288.4 299.4,286.3 299.7,284.9 300,284.9 300.3,283.8 300.6,282.6 300.9,282.6 301.2,283.5 301.5,283.7 301.8,283.6 302.1,282.5 302.4,281.7 302.7,282.5 303,283 303.3,283.1 303.6,283 303.9,282.8 304.2,283.3 304.5,283.8 304.8,282.8 305.1,281.6 305.4,280.4 305.7,279.3 306,279.5 306.3,279.8 306.6,279.9 306.9,279.1 307.2,277.4 307.5,276.8 307.8,276.8 308.1,276.6 308.4,276.2 308.7,277.9 309,279.2 309.3,278.8 309.6,278.9 309.9,279.5 310.2,279.3 310.5,278.3 310.8,278.2 311.1,278.2 311.4,277.7 311.7,277.1 312,277.2 312.3,277.1 312.6,276.6 312.9,275.7 313.2,274.2 313.5,273.5 313.8,273.7 314.1,273.6 314.4,273.6 314.7,273 315,272.3 315.3,271.4 315.6,270.6 315.9,270.3 316.2,270.2 316.5,270.2 316.8,270.2 317.1,270.2 317.4,269.9 317.7,269.5 318,269.6 318.3,269.7 318.6,269.6 318.9,269.4 319.2,268.9 319.5,268.7 319.8,268.8 320.1,268.7 320.4,268.4 320.7,268.2 321,268 321.3,267.9 321.6,267.8 321.9,267.6 322.2,267.4 322.5,267.6 322.8,267.7 323.1,267.6 323.4,267.2 323.7,266.7 324,266.5 324.3,266.5 324.6,266.5 324.9,266.5 325.2,266.1 325.5,265.7 325.8,265.4 326.1,265.3 326.4,265.5 326.7,265.5 327,265.3 327.3,265.1 327.6,264.8 327.9,264.3 328.2,263.9 328.5,264.1 328.8,264.2 329.1,264 329.4,263.8 329.7,263.5 330,263.3 330.3,263.3 330.6,262.9 330.9,262.4 331.2,262.3 331.5,262.3 331.8,262.4 332.1,262.3 332.4,261.8 332.7,261.4 333,261.5 333.3,261.5 333.6,261.3 333.9,261.1 334.2,260.7 334.5,260.3 334.8,259.9 335.1,259.9 335.4,259.8 335.7,259.7 336,259.5 336.3,259.2 336.6,259.1 336.9,259.1 337.2,258.8 337.5,258.4 337.8,258.1 338.1,257.9 338.4,257.7 338.7,257.5 339,257.5 339.3,257.4 339.6,257.1 339.9,256.8 340.2,256.6 340.5,256.5 340.8,256.4 341.1,256.4 341.4,256.5 341.7,256 342,255.6 342.3,255.3 342.6,255.1 342.9,255 343.2,254.8 343.5,254.6 343.8,254.6 344.1,254.6 344.4,254 344.7,253.4 345,253.4 345.3,253.5 345.6,253.2 345.9,253 346.2,252.9 346.5,252.9 346.8,252.9 347.1,252.7"/>
<rect x="254.6" y="237" width="4.4" height="4.4" fill="#fb7f14"/>
<text x="263" y="268.8" font-size="7.6" text-anchor="middle" fill="#fb7f14" font-family="'Liberation Sans', Arial, sans-serif"  stroke="#fb7f14" stroke-width="0.18">Midday</text>
<rect x="75.1" y="226.4" width="272.4" height="114.2" fill="none" stroke="#6a6a6a" stroke-width="0.9"/>
<path d="M75.1,226.4 V340.6 H347.5 V226.4" fill="none" stroke="#3c3c3c" stroke-width="0.9"/>
<path d="M75.1,340.6 v2.6 M86.4,340.6 v1.5 M97.8,340.6 v2.6 M109.1,340.6 v1.5 M120.5,340.6 v2.6 M131.8,340.6 v1.5 M143.2,340.6 v2.6 M154.6,340.6 v1.5 M165.9,340.6 v2.6 M177.2,340.6 v1.5 M188.6,340.6 v2.6 M199.9,340.6 v1.5 M211.3,340.6 v2.6 M222.6,340.6 v1.5 M234,340.6 v2.6 M245.3,340.6 v1.5 M256.7,340.6 v2.6 M268,340.6 v1.5 M279.4,340.6 v2.6 M290.8,340.6 v1.5 M302.1,340.6 v2.6 M313.4,340.6 v1.5 M324.8,340.6 v2.6 M336.1,340.6 v1.5 M347.5,340.6 v2.6 M75.1,340.6 h-2.8 M75.1,329.2 h-1.6 M75.1,317.8 h-2.8 M75.1,306.3 h-1.6 M75.1,294.9 h-2.8 M75.1,283.5 h-1.6 M75.1,272.1 h-2.8 M75.1,260.7 h-1.6 M75.1,249.2 h-2.8 M75.1,237.8 h-1.6 M75.1,226.4 h-2.8 M347.5,340.6 h2.8 M347.5,332.4 h1.6 M347.5,324.3 h2.8 M347.5,316.1 h1.6 M347.5,308 h2.8 M347.5,299.8 h1.6 M347.5,291.7 h2.8 M347.5,283.5 h1.6 M347.5,275.3 h2.8 M347.5,267.2 h1.6 M347.5,259 h2.8 M347.5,250.9 h1.6 M347.5,242.7 h2.8 M347.5,234.6 h1.6 M347.5,226.4 h2.8" stroke="#3c3c3c" stroke-width="0.8" fill="none"/>
<text x="70.4" y="343.3" font-size="7.6" text-anchor="end" fill="#1a1a1a" font-family="'Liberation Sans', Arial, sans-serif"  stroke="#1a1a1a" stroke-width="0.18">30</text>
<text x="70.4" y="320.5" font-size="7.6" text-anchor="end" fill="#1a1a1a" font-family="'Liberation Sans', Arial, sans-serif"  stroke="#1a1a1a" stroke-width="0.18">40</text>
<text x="70.4" y="297.6" font-size="7.6" text-anchor="end" fill="#1a1a1a" font-family="'Liberation Sans', Arial, sans-serif"  stroke="#1a1a1a" stroke-width="0.18">50</text>
<text x="70.4" y="274.8" font-size="7.6" text-anchor="end" fill="#1a1a1a" font-family="'Liberation Sans', Arial, sans-serif"  stroke="#1a1a1a" stroke-width="0.18">60</text>
<text x="70.4" y="251.9" font-size="7.6" text-anchor="end" fill="#1a1a1a" font-family="'Liberation Sans', Arial, sans-serif"  stroke="#1a1a1a" stroke-width="0.18">70</text>
<text x="70.4" y="229.1" font-size="7.6" text-anchor="end" fill="#1a1a1a" font-family="'Liberation Sans', Arial, sans-serif"  stroke="#1a1a1a" stroke-width="0.18">80</text>
<text x="351.8" y="343.3" font-size="7.6" text-anchor="start" fill="#1a1a1a" font-family="'Liberation Sans', Arial, sans-serif"  stroke="#1a1a1a" stroke-width="0.18">300</text>
<text x="351.8" y="327" font-size="7.6" text-anchor="start" fill="#1a1a1a" font-family="'Liberation Sans', Arial, sans-serif"  stroke="#1a1a1a" stroke-width="0.18">400</text>
<text x="351.8" y="310.7" font-size="7.6" text-anchor="start" fill="#1a1a1a" font-family="'Liberation Sans', Arial, sans-serif"  stroke="#1a1a1a" stroke-width="0.18">500</text>
<text x="351.8" y="294.4" font-size="7.6" text-anchor="start" fill="#1a1a1a" font-family="'Liberation Sans', Arial, sans-serif"  stroke="#1a1a1a" stroke-width="0.18">600</text>
<text x="351.8" y="278" font-size="7.6" text-anchor="start" fill="#1a1a1a" font-family="'Liberation Sans', Arial, sans-serif"  stroke="#1a1a1a" stroke-width="0.18">700</text>
<text x="351.8" y="261.7" font-size="7.6" text-anchor="start" fill="#1a1a1a" font-family="'Liberation Sans', Arial, sans-serif"  stroke="#1a1a1a" stroke-width="0.18">800</text>
<text x="351.8" y="245.4" font-size="7.6" text-anchor="start" fill="#1a1a1a" font-family="'Liberation Sans', Arial, sans-serif"  stroke="#1a1a1a" stroke-width="0.18">900</text>
<text x="351.8" y="229.1" font-size="7.6" text-anchor="start" fill="#1a1a1a" font-family="'Liberation Sans', Arial, sans-serif"  stroke="#1a1a1a" stroke-width="0.18">1000</text>
<text x="68" y="353.2" font-size="6.0" text-anchor="middle" fill="#1a1a1a" font-family="'Liberation Sans', Arial, sans-serif"  stroke="#1a1a1a" stroke-width="0.18">8 PM</text>
<text x="91" y="353.2" font-size="6.0" text-anchor="middle" fill="#1a1a1a" font-family="'Liberation Sans', Arial, sans-serif"  stroke="#1a1a1a" stroke-width="0.18">10 PM</text>
<text x="115.6" y="353.2" font-size="6.0" text-anchor="middle" fill="#1a1a1a" font-family="'Liberation Sans', Arial, sans-serif"  stroke="#1a1a1a" stroke-width="0.18">12 AM</text>
<text x="140.2" y="353.2" font-size="6.0" text-anchor="middle" fill="#1a1a1a" font-family="'Liberation Sans', Arial, sans-serif"  stroke="#1a1a1a" stroke-width="0.18">2 AM</text>
<text x="163" y="353.2" font-size="6.0" text-anchor="middle" fill="#1a1a1a" font-family="'Liberation Sans', Arial, sans-serif"  stroke="#1a1a1a" stroke-width="0.18">4 AM</text>
<text x="187.7" y="353.2" font-size="6.0" text-anchor="middle" fill="#1a1a1a" font-family="'Liberation Sans', Arial, sans-serif"  stroke="#1a1a1a" stroke-width="0.18">6 AM</text>
<text x="210.8" y="353.2" font-size="6.0" text-anchor="middle" fill="#1a1a1a" font-family="'Liberation Sans', Arial, sans-serif"  stroke="#1a1a1a" stroke-width="0.18">8 AM</text>
<text x="233.9" y="353.2" font-size="6.0" text-anchor="middle" fill="#1a1a1a" font-family="'Liberation Sans', Arial, sans-serif"  stroke="#1a1a1a" stroke-width="0.18">10 AM</text>
<text x="258.6" y="353.2" font-size="6.0" text-anchor="middle" fill="#1a1a1a" font-family="'Liberation Sans', Arial, sans-serif"  stroke="#1a1a1a" stroke-width="0.18">12 PM</text>
<text x="281.4" y="353.2" font-size="6.0" text-anchor="middle" fill="#1a1a1a" font-family="'Liberation Sans', Arial, sans-serif"  stroke="#1a1a1a" stroke-width="0.18">2 PM</text>
<text x="304.4" y="353.2" font-size="6.0" text-anchor="middle" fill="#1a1a1a" font-family="'Liberation Sans', Arial, sans-serif"  stroke="#1a1a1a" stroke-width="0.18">4 PM</text>
<text x="327" y="353.2" font-size="6.0" text-anchor="middle" fill="#1a1a1a" font-family="'Liberation Sans', Arial, sans-serif"  stroke="#1a1a1a" stroke-width="0.18">6 PM</text>
<text x="348.3" y="353.2" font-size="6.0" text-anchor="middle" fill="#1a1a1a" font-family="'Liberation Sans', Arial, sans-serif"  stroke="#1a1a1a" stroke-width="0.18">8 PM</text>
<text x="213.5" y="364.7" font-size="10.1" text-anchor="middle" fill="#1a1a1a" font-family="'Liberation Sans', Arial, sans-serif"  stroke="#1a1a1a" stroke-width="0.18">Time (h)</text>
<text transform="translate(58.1 283.6) rotate(-90)" font-size="10.2" text-anchor="middle" fill="#1a1a1a" stroke="#1a1a1a" stroke-width="0.18" font-family="'Liberation Sans', Arial, sans-serif">Relative Humidity (%)</text>
<text transform="translate(379.4 281.0) rotate(-90)" font-size="10" text-anchor="middle" fill="#1a1a1a" stroke="#1a1a1a" stroke-width="0.18" font-family="'Liberation Sans', Arial, sans-serif">Solar Irradiance (W/m<tspan font-size="6" dy="-3.6">2</tspan><tspan dy="3.6">)</tspan></text>
<line x1="85.4" y1="239.1" x2="103.8" y2="239.1" stroke="#1a9af5" stroke-width="1.4"/>
<text x="105.7" y="241.9" font-size="7.75" text-anchor="start" fill="#1a1a1a" font-family="'Liberation Sans', Arial, sans-serif"  stroke="#1a1a1a" stroke-width="0.18">Relative Humidity</text>
<rect x="92.2" y="246.8" width="4.4" height="4.4" fill="#fb7f14"/>
<text x="105.7" y="251.8" font-size="7.75" text-anchor="start" fill="#1a1a1a" font-family="'Liberation Sans', Arial, sans-serif"  stroke="#1a1a1a" stroke-width="0.18">Solar Irradiance</text>
<text x="392.8" y="71.7" font-size="14.3" font-weight="bold" fill="#000" font-family="'Liberation Sans', Arial, sans-serif">d</text>
<rect x="630.7" y="75.6" width="40.1" height="114" fill="#ffffb4"/>
<polyline fill="none" stroke="#1a9af5" stroke-width="1.7" stroke-linejoin="round" stroke-linecap="round"  points="430.6,153 431,152.9 431.3,152.8 431.7,152.8 432,152.9 432.4,152.9 432.7,152.9 433.1,152.9 433.4,152.8 433.8,152.7 434.1,152.9 434.5,153 434.8,152.9 435.2,152.8 435.5,152.7 435.9,152.8 436.2,152.8 436.6,152.9 436.9,152.9 437.3,152.8 437.6,152.8 438,152.8 438.3,152.8 438.7,152.9 439,152.9 439.4,152.9 439.7,152.8 440.1,152.7 440.4,152.7 440.8,152.7 441.1,152.7 441.5,152.7 441.8,152.8 442.2,152.9 442.5,153 442.9,153 443.2,153 443.6,153 443.9,153.2 444.3,153.2 444.6,153.1 445,152.9 445.3,152.8 445.7,152.8 446,152.7 446.4,152.7 446.7,152.6 447.1,152.6 447.4,152.6 447.8,152.8 448.1,153 448.5,152.9 448.8,152.8 449.2,152.8 449.5,153 449.9,153.1 450.2,153 450.6,152.9 450.9,152.9 451.3,153 451.6,153 452,153 452.3,153 452.7,153.1 453,153.1 453.4,152.9 453.7,152.8 454.1,152.8 454.4,152.8 454.8,152.9 455.1,153 455.5,153.1 455.8,153 456.2,153 456.5,152.9 456.9,152.8 457.2,152.8 457.6,152.9 457.9,152.9 458.3,152.9 458.6,152.9 459,153 459.3,153.1 459.7,153.1 460,153 460.4,152.9 460.7,152.9 461.1,152.9 461.4,152.9 461.8,152.9 462.1,152.8 462.5,152.8 462.8,152.8 463.2,152.8 463.5,152.8 463.9,152.6 464.2,152.5 464.6,152.6 464.9,152.7 465.3,152.8 465.6,152.8 466,152.9 466.3,152.9 466.7,153 467,152.9 467.4,152.9 467.7,153 468.1,153.1 468.4,153.2 468.8,153.3 469.1,153.4 469.5,153.4 469.8,153.3 470.2,153.4 470.5,153.5 470.9,153.5 471.2,153.4 471.6,153.5 471.9,153.6 472.3,153.8 472.6,153.9 473,154 473.3,154 473.7,154 474,154 474.4,154 474.7,154 475.1,154.2 475.4,154.3 475.8,154.3 476.1,154.2 476.5,154.3 476.8,154.4 477.2,154.4 477.5,154.3 477.9,154.3 478.2,154.2 478.6,154.2 478.9,154.4 479.3,154.6 479.6,154.7 480,154.8 480.3,154.8 480.7,154.7 481,154.6 481.4,154.6 481.7,154.5 482.1,154.5 482.4,154.5 482.8,154.6 483.1,154.7 483.5,154.8 483.8,154.7 484.2,154.6 484.5,154.7 484.9,154.7 485.2,154.6 485.6,154.5 485.9,154.5 486.3,154.4 486.6,154.4 487,154.3 487.3,154.2 487.7,154.3 488,154.5 488.4,154.4 488.7,154.2 489.1,154.1 489.4,154.4 489.8,154.7 490.1,154.6 490.5,154.5 490.8,154.4 491.2,154.4 491.5,154.4 491.9,154.4 492.2,154.3 492.6,154.2 492.9,154.2 493.3,154.2 493.6,154.1 494,154.1 494.3,154.1 494.7,154.1 495,154.2 495.4,154.3 495.7,154.3 496.1,154.3 496.4,154.3 496.8,154.3 497.1,154.3 497.5,154.2 497.8,154.2 498.2,154.2 498.5,154.1 498.9,154.3 499.2,154.4 499.6,154.4 499.9,154.3 500.3,154.2 500.6,154.3 501,154.3 501.3,154.3 501.7,154.2 502,154.2 502.4,154.2 502.7,154.2 503.1,154.2 503.4,154.3 503.8,154.2 504.1,154.1 504.5,154.1 504.8,154.2 505.2,154.2 505.5,154.2 505.9,154.2 506.2,154.2 506.6,154.2 506.9,154.3 507.3,154.3 507.6,154.3 508,154.3 508.3,154.3 508.7,154.3 509,154.2 509.4,154.2 509.7,154.1 510.1,154.2 510.4,154.3 510.8,154.3 511.1,154.4 511.5,154.4 511.8,154.1 512.2,153.8 512.5,153.9 512.9,154 513.2,154.1 513.6,154 513.9,154 514.3,154.1 514.6,154.1 515,154.2 515.3,154.3 515.7,154.3 516,154.3 516.4,154.3 516.7,154.3 517.1,154.3 517.4,154.3 517.8,154.3 518.1,154.5 518.5,154.6 518.8,154.7 519.2,154.8 519.5,154.9 519.9,154.8 520.2,154.8 520.6,154.9 520.9,155 521.3,155.3 521.6,155.5 522,155.7 522.3,155.8 522.7,155.9 523,156.1 523.4,156.2 523.7,156.4 524.1,156.5 524.4,156.3 524.8,156.1 525.1,155.9 525.5,155.8 525.8,155.7 526.2,155.5 526.5,155.3 526.9,155.2 527.2,155.3 527.6,155.4 527.9,155.4 528.3,155.4 528.6,155.4 529,155.5 529.3,155.6 529.7,155.7 530,155.6 530.4,155.5 530.7,155.4 531.1,155.5 531.4,155.6 531.8,155.5 532.1,155.4 532.5,155.5 532.8,155.6 533.2,155.7 533.5,155.6 533.9,155.6 534.2,155.6 534.6,155.6 534.9,155.6 535.3,155.6 535.6,155.7 536,155.7 536.3,155.8 536.7,155.8 537,155.9 537.4,155.9 537.7,155.8 538.1,155.7 538.4,155.6 538.8,155.6 539.1,155.5 539.5,155.5 539.8,155.6 540.2,155.6 540.5,155.8 540.9,155.9 541.2,155.9 541.6,155.7 541.9,155.6 542.3,155.6 542.6,155.6 543,155.5 543.3,155.6 543.7,155.6 544,155.7 544.4,155.8 544.7,155.9 545.1,155.9 545.4,155.8 545.8,155.8 546.1,155.7 546.5,155.7 546.8,155.7 547.2,155.7 547.5,155.6 547.9,155.5 548.2,155.4 548.6,155.5 548.9,155.7 549.3,155.8 549.6,155.8 550,155.8 550.3,155.7 550.7,155.6 551,155.6 551.4,155.6 551.7,155.6 552.1,155.7 552.4,155.7 552.8,155.8 553.1,155.8 553.5,155.7 553.8,155.6 554.2,155.7 554.5,155.8 554.9,155.8 555.2,155.7 555.6,155.7 555.9,155.7 556.3,155.7 556.6,155.7 557,155.7 557.3,155.7 557.7,155.7 558,155.7 558.4,155.7 558.7,155.7 559.1,155.5 559.4,155.4 559.8,155.4 560.1,155.5 560.5,155.5 560.8,155.6 561.2,155.6 561.5,155.5 561.9,155.5 562.2,155.7 562.6,155.9 562.9,155.7 563.3,155.4 563.6,155.3 564,155.4 564.3,155.2 564.7,154.8 565,154.5 565.4,154.6 565.7,154.8 566.1,154.6 566.4,154.4 566.8,154.2 567.1,154 567.5,153.8 567.8,153.5 568.2,153.3 568.5,153.1 568.9,152.9 569.2,152.8 569.6,152.6 569.9,152.4 570.3,152.2 570.6,152 571,151.9 571.3,151.7 571.7,151.5 572,151.4 572.4,151.4 572.7,151.7 573.1,151.9 573.4,152 573.8,152.1 574.1,152.1 574.5,152.2 574.8,152.3 575.2,152.4 575.5,152.6 575.9,152.8 576.2,152.9 576.6,152.6 576.9,152.1 577.3,151.6 577.6,151 578,150.5 578.3,149.8 578.7,148.7 579,147.3 579.4,145.7 579.7,144 580.1,142.6 580.4,141.9 580.8,141.8 581.1,141.6 581.5,141.2 581.8,140.9 582.2,140.7 582.5,140.7 582.9,139.7 583.2,138.6 583.6,137 583.9,134.9 584.3,134 584.6,137 585,139.9 585.3,139.9 585.7,139.8 586,138.4 586.4,136.5 586.7,135.7 587.1,136.7 587.4,137.5 587.8,136.9 588.1,136.2 588.5,135.3 588.8,134.4 589.2,135.5 589.5,138 589.9,139.4 590.2,137.8 590.6,136.3 590.9,136.7 591.3,137.3 591.6,138 592,138.9 592.3,139.2 592.7,138.3 593,137.5 593.4,136.9 593.7,136.3 594.1,135.7 594.4,135.5 594.8,135.4 595.1,135.5 595.5,135.5 595.8,135.4 596.2,135.5 596.5,135.5 596.9,135.6 597.2,135.4 597.6,135.3 597.9,135.1 598.3,134.8 598.6,134.7 599,136.9 599.3,138.5 599.7,139.1 600,139.5 600.4,138.7 600.7,136.8 601.1,135.6 601.4,134.9 601.8,134.3 602.1,134.9 602.5,135.5 602.8,135.8 603.2,136 603.5,135.4 603.9,133.8 604.2,132.4 604.6,132.5 604.9,132.5 605.3,134.1 605.6,135.9 606,136.6 606.3,136.1 606.7,135.5 607,134.7 607.4,133.9 607.7,133.8 608.1,133.8 608.4,134.5 608.8,135.5 609.1,135.1 609.5,132.8 609.8,131.1 610.2,133.5 610.5,135.8 610.9,136.5 611.2,137.1 611.6,137.2 611.9,137 612.3,136.9 612.6,137.4 613,136.7 613.3,134.4 613.7,132 614,131.7 614.4,132.4 614.7,133.1 615.1,132.2 615.4,131.3 615.8,130.7 616.1,130.2 616.5,129.9 616.8,129.8 617.2,130.1 617.5,130.9 617.9,131.7 618.2,132.7 618.6,133.8 618.9,134.2 619.3,134.7 619.6,134 620,132.7 620.3,131.3 620.7,129.6 621,128.5 621.4,131.1 621.7,133.6 622.1,131.6 622.4,128.7 622.8,128 623.1,129.6 623.5,131 623.8,131.6 624.2,132.2 624.5,134.7 624.9,136.6 625.2,135.3 625.6,132.4 625.9,131.1 626.3,132.4 626.6,133.5 627,132.5 627.3,131.6 627.7,129.9 628,128 628.4,128.2 628.7,129.8 629.1,131.1 629.4,131.4 629.8,131.7 630.1,133.3 630.5,134.9 630.8,134.1 631.2,132.2 631.5,132 631.9,134.4 632.2,136.5 632.6,136 632.9,135.6 633.3,132.9 633.6,129.5 634,128.7 634.3,130 634.7,131.1 635,132.3 635.4,133.7 635.7,133.4 636.1,133 636.4,132.5 636.8,130.8 637.1,129.5 637.5,128.8 637.8,128 638.2,126.7 638.5,126.8 638.9,126.2 639.2,125.4 639.6,125.9 639.9,127.5 640.3,128.5 640.6,129.2 641,129.9 641.3,130 641.7,130 642,130 642.4,130.1 642.7,130 643.1,129.6 643.4,129.5 643.8,130.6 644.1,131.6 644.5,131.3 644.8,130.7 645.2,130.4 645.5,130.5 645.9,129.8 646.2,127.1 646.6,124.3 646.9,124.9 647.3,125.6 647.6,125.8 648,125.7 648.3,125.6 648.7,125.4 649,125.2 649.4,123.5 649.7,121.9 650.1,123.7 650.4,126.2 650.8,126.6 651.1,125.2 651.5,124.7 651.8,126.7 652.2,128.1 652.5,125 652.9,121.8 653.2,121.4 653.6,122.8 653.9,124.3 654.3,124.6 654.6,125.1 655,126.6 655.3,127.5 655.7,126.7 656,125.4 656.4,125 656.7,125.4 657.1,125.6 657.4,124.5 657.8,123.5 658.1,122.1 658.5,120.7 658.8,121.1 659.2,122.1 659.5,123.2 659.9,124.1 660.2,124.9 660.6,123.2 660.9,121.5 661.3,121.8 661.6,122.5 662,122.3 662.3,121.9 662.7,121.8 663,122.8 663.4,123.7 663.7,124.6 664.1,124.4 664.4,124 664.8,123.5 665.1,121.8 665.5,118.6 665.8,116.8 666.2,120 666.5,122.9 666.9,123.8 667.2,124.1 667.6,123.1 667.9,121.2 668.3,119.5 668.6,118.7 669,118.2 669.3,119.1 669.7,120.1 670,121.3 670.4,122.6 670.7,123.5 671.1,124.8 671.4,125.9 671.8,124 672.1,122.2 672.5,122.5 672.8,123.3 673.2,123.2 673.5,122.4 673.9,122.1 674.2,123 674.6,123.9 674.9,122.6 675.3,121.3 675.6,121.4 676,122.4 676.3,122.8 676.7,122.5 677,122.3 677.4,124.8 677.7,127.3 678.1,127.1 678.4,126.4 678.8,125.8 679.1,125 679.5,124.2 679.8,124 680.2,123.9 680.5,125.8 680.9,128.2 681.2,128.7 681.6,128.2 681.9,128.6 682.3,130.3 682.6,130.8 683,129.1 683.3,127.4 683.7,127.1 684,126.9 684.4,127.7 684.7,128.5 685.1,128.8 685.4,128.1 685.8,127.3 686.1,129.4 686.5,131.6 686.8,131 687.2,129.2 687.5,129.4 687.9,132.7 688.2,135.2 688.6,131.4 688.9,127.5 689.3,127.8 689.6,128.6 690,130.2 690.3,132.6 690.7,134.5 691,135.5 691.4,136.5 691.7,136.9 692.1,137.3 692.4,137.2 692.8,136.6 693.1,135.8 693.5,134.8 693.8,133.8 694.2,132.3 694.5,131.5 694.9,132.4 695.2,133.5 695.6,134.7 695.9,135.8 696.3,135.8 696.6,134.9 697,134 697.3,135.7 697.7,137.4 698,136.6 698.4,134.6 698.7,133.9 699.1,135.1 699.4,136 699.8,136.4 700.1,136.7 700.5,136.4 700.8,136.1 701.2,135.7 701.5,135.4 701.9,135.3 702.2,135.7 702.6,136 702.9,136.3 703.3,136.6 703.6,136.7 704,136.7 704.3,136.8 704.7,137 705,137.1 705.4,137.7 705.7,138.2 706.1,138.1 706.4,138 706.8,137.8 707.1,137.5 707.5,137.5 707.8,138.1 708.2,138.7 708.5,138.7 708.9,138.7 709.2,138.7 709.6,138.8 709.9,138.8 710.3,138.6 710.6,138.5 711,138.7 711.3,138.9 711.7,139.3 712,139.8 712.4,139.9 712.7,140 713.1,140 713.4,140 713.8,140 714.1,140.1 714.5,140.3 714.8,140.4 715.2,140.5 715.5,140.6 715.9,140.7 716.2,140.8 716.6,141 716.9,141.1 717.3,141.1 717.6,141.1 718,141.2 718.3,141.3 718.7,141.4 719,141.4 719.4,141.4 719.7,141.4 720.1,141.5 720.4,141.5 720.8,141.5 721.1,141.5 721.5,141.6 721.8,141.6 722.2,141.9 722.5,142.1 722.9,142.2 723.2,142.4 723.6,142.4 723.9,142.3 724.3,142.3 724.6,142.4 725,142.4 725.3,142.5 725.7,142.5 726,142.5 726.4,142.5 726.7,142.5 727.1,142.7 727.4,142.8 727.8,143.1 728.1,143.4 728.5,143.4 728.8,143.3 729.2,143.3 729.5,143.5 729.9,143.6 730.2,143.7 730.6,143.7 730.9,143.8 731.3,143.9 731.6,143.9 732,143.9 732.3,143.9 732.7,144 733,144 733.4,144 733.7,144.1 734.1,144.2 734.4,144.4 734.8,144.5 735.1,144.6 735.5,144.6 735.8,144.6 736.2,144.5 736.5,144.6 736.9,144.7 737.2,144.9 737.6,145 737.9,145.1 738.3,145.2 738.6,145.3 739,145.3 739.3,145.4 739.7,145.4 740,145.4 740.4,145.4 740.7,145.4 741.1,145.5 741.4,145.7 741.8,145.8 742.1,146 742.5,146.1 742.8,146.2 743.2,146.2 743.5,146.2 743.9,146.2 744.2,146.1 744.6,146.2 744.9,146.2 745.3,146.3 745.6,146.5 746,146.5 746.3,146.4 746.7,146.4 747,146.7 747.4,147 747.7,147.1 748.1,147.3 748.4,147.3 748.8,147.3 749.1,147.3 749.5,147.5 749.8,147.7 750.2,147.5 750.5,147.4"/>
<polyline fill="none" stroke="#fb7f14" stroke-width="1.7" stroke-linejoin="round" stroke-linecap="round"  points="430.6,159 431,159.3 431.3,159.6 431.7,159.6 432,159.6 432.4,159.6 432.7,159.7 433.1,159.5 433.4,159.2 433.8,159.1 434.1,159.1 434.5,159 434.8,159 435.2,158.9 435.5,159.1 435.9,159.3 436.2,159.5 436.6,159.5 436.9,159.4 437.3,159.2 437.6,158.9 438,158.7 438.3,158.5 438.7,158.5 439,158.7 439.4,158.8 439.7,158.9 440.1,158.9 440.4,158.6 440.8,158.3 441.1,158.2 441.5,158.1 441.8,158.2 442.2,158.6 442.5,158.9 442.9,158.5 443.2,158.2 443.6,158.7 443.9,159.2 444.3,159.5 444.6,159.6 445,159.5 445.3,159.4 445.7,159.3 446,159.2 446.4,159 446.7,159 447.1,158.9 447.4,158.9 447.8,159 448.1,159.1 448.5,159.3 448.8,159.5 449.2,159.2 449.5,158.9 449.9,158.6 450.2,158.4 450.6,158.2 450.9,158 451.3,157.8 451.6,158.1 452,158.4 452.3,158.5 452.7,158.5 453,158.5 453.4,158.5 453.7,158.6 454.1,158.8 454.4,159.1 454.8,159.1 455.1,159 455.5,158.8 455.8,158.4 456.2,158.2 456.5,158.2 456.9,158.4 457.2,158.6 457.6,158.8 457.9,159 458.3,159.3 458.6,159.3 459,159.1 459.3,159 459.7,159 460,158.9 460.4,158.8 460.7,158.7 461.1,159 461.4,159.4 461.8,159.8 462.1,159.8 462.5,159.9 462.8,159.8 463.2,159.8 463.5,160.1 463.9,160.6 464.2,160.8 464.6,160.9 464.9,160.9 465.3,161 465.6,161 466,161 466.3,161 466.7,161.1 467,161.4 467.4,161.5 467.7,161.3 468.1,161.2 468.4,161.5 468.8,161.8 469.1,162 469.5,162.1 469.8,162.2 470.2,162.3 470.5,162.4 470.9,162.3 471.2,162.3 471.6,162.4 471.9,162.6 472.3,162.8 472.6,163 473,163.3 473.3,163.7 473.7,164.2 474,164.4 474.4,164.6 474.7,165.2 475.1,165.8 475.4,166.1 475.8,166 476.1,166.1 476.5,166.5 476.8,167 477.2,166.8 477.5,166.4 477.9,166.7 478.2,167.4 478.6,167.8 478.9,167.7 479.3,167.7 479.6,168 480,168.2 480.3,168.3 480.7,168.2 481,168.3 481.4,168.5 481.7,168.6 482.1,168.5 482.4,168.4 482.8,168.2 483.1,168 483.5,167.9 483.8,167.8 484.2,167.7 484.5,167.5 484.9,167.3 485.2,167 485.6,166.8 485.9,166.4 486.3,166.1 486.6,165.8 487,165.6 487.3,165.2 487.7,164.8 488,164.3 488.4,163.7 488.7,163.1 489.1,162.7 489.4,162.4 489.8,162.1 490.1,162.1 490.5,162.1 490.8,161.7 491.2,161.2 491.5,161 491.9,160.9 492.2,160.7 492.6,160.4 492.9,160.2 493.3,160.1 493.6,160 494,160.2 494.3,160.5 494.7,160.5 495,160.4 495.4,160.3 495.7,160.2 496.1,160 496.4,160.3 496.8,160.5 497.1,160.3 497.5,160 497.8,160 498.2,160.1 498.5,160.3 498.9,160.5 499.2,160.8 499.6,160.7 499.9,160.6 500.3,160.4 500.6,160.2 501,160.1 501.3,160.3 501.7,160.5 502,160.4 502.4,160.4 502.7,160.8 503.1,161.5 503.4,162 503.8,162.4 504.1,162.7 504.5,162.5 504.8,162.3 505.2,162.3 505.5,162.4 505.9,162.2 506.2,161.9 506.6,161.7 506.9,162 507.3,162.2 507.6,162.5 508,162.8 508.3,162.7 508.7,162.6 509,162.7 509.4,162.9 509.7,163.3 510.1,163.4 510.4,163.6 510.8,164 511.1,164.3 511.5,164.5 511.8,164.5 512.2,164.7 512.5,165.2 512.9,165.6 513.2,165.6 513.6,165.7 513.9,165.7 514.3,165.7 514.6,165.9 515,166.2 515.3,166.4 515.7,166.4 516,166.3 516.4,166.4 516.7,166.5 517.1,166.9 517.4,167.5 517.8,167.8 518.1,167.8 518.5,167.8 518.8,167.9 519.2,168 519.5,168.2 519.9,168.3 520.2,168.5 520.6,168.7 520.9,168.9 521.3,169 521.6,169.2 522,169.3 522.3,169.4 522.7,169.6 523,169.8 523.4,169.9 523.7,169.9 524.1,169.9 524.4,169.9 524.8,169.9 525.1,170 525.5,170 525.8,170 526.2,170 526.5,169.9 526.9,169.9 527.2,169.9 527.6,169.7 527.9,169.5 528.3,169.5 528.6,169.6 529,169.6 529.3,169.3 529.7,169.1 530,169.4 530.4,169.7 530.7,169.6 531.1,169.5 531.4,169.3 531.8,169.2 532.1,169.2 532.5,169.4 532.8,169.7 533.2,169.8 533.5,169.8 533.9,169.6 534.2,169.3 534.6,169.1 534.9,169 535.3,169.1 535.6,169.2 536,169.2 536.3,169.2 536.7,169 537,169.1 537.4,169.3 537.7,169.5 538.1,169.3 538.4,169.2 538.8,169 539.1,168.8 539.5,168.8 539.8,169 540.2,169.1 540.5,169.2 540.9,169.3 541.2,169.4 541.6,169.4 541.9,169.4 542.3,169.5 542.6,169.4 543,169.3 543.3,169.2 543.7,169.2 544,169.3 544.4,169.3 544.7,169.4 545.1,169.6 545.4,170 545.8,170.2 546.1,170.2 546.5,170.1 546.8,169.9 547.2,169.7 547.5,169.9 547.9,170.2 548.2,170.2 548.6,169.9 548.9,169.7 549.3,170 549.6,170.3 550,170 550.3,169.6 550.7,169.6 551,169.8 551.4,169.9 551.7,169.8 552.1,169.8 552.4,169.8 552.8,169.9 553.1,169.7 553.5,169.5 553.8,169.4 554.2,169.5 554.5,169.6 554.9,169.5 555.2,169.5 555.6,169.5 555.9,169.4 556.3,169.4 556.6,169.3 557,169.3 557.3,169.4 557.7,169.6 558,169.8 558.4,169.9 558.7,170 559.1,170 559.4,170.1 559.8,170.2 560.1,170.3 560.5,170.5 560.8,170.6 561.2,170.5 561.5,170.4 561.9,170.3 562.2,170.3 562.6,170.1 562.9,169.6 563.3,168.9 563.6,168.6 564,168.2 564.3,167.8 564.7,167.4 565,167.1 565.4,166.8 565.7,166.4 566.1,165.5 566.4,164.6 566.8,163.9 567.1,163.3 567.5,162.6 567.8,161.9 568.2,161.2 568.5,160.3 568.9,159.4 569.2,158.6 569.6,157.9 569.9,157.6 570.3,157.3 570.6,156.8 571,156.2 571.3,155.6 571.7,155.1 572,154.6 572.4,154.2 572.7,154 573.1,153.8 573.4,153.8 573.8,153.9 574.1,154 574.5,154.2 574.8,154.5 575.2,154.9 575.5,156 575.9,157.3 576.2,158.4 576.6,159.3 576.9,160.1 577.3,160.7 577.6,161.1 578,161 578.3,160.4 578.7,159.2 579,157.9 579.4,156.8 579.7,156 580.1,155 580.4,153.4 580.8,151.7 581.1,150.2 581.5,148.8 581.8,147.6 582.2,146.6 582.5,145.8 582.9,144.4 583.2,143 583.6,142.2 583.9,141.5 584.3,140.6 584.6,139.8 585,139.1 585.3,138.6 585.7,138.2 586,137.8 586.4,137.3 586.7,136.4 587.1,135.3 587.4,134.6 587.8,134.3 588.1,133.8 588.5,132.8 588.8,131.7 589.2,131.2 589.5,131.1 589.9,131 590.2,130.8 590.6,130.6 590.9,130 591.3,129.2 591.6,128.9 592,128.5 592.3,128 592.7,127.4 593,126.7 593.4,125.8 593.7,125 594.1,124.9 594.4,124.9 594.8,124.4 595.1,124 595.5,123.5 595.8,122.9 596.2,122.3 596.5,121.6 596.9,120.8 597.2,119.7 597.6,118.6 597.9,118.1 598.3,118.1 598.6,117.3 599,115.6 599.3,114.4 599.7,115.1 600,115.8 600.4,114.5 600.7,112.9 601.1,111.8 601.4,111.2 601.8,110.8 602.1,110.7 602.5,110.8 602.8,111.7 603.2,112.6 603.5,111.7 603.9,110.3 604.2,109.2 604.6,108.4 604.9,108.1 605.3,108.7 605.6,109.4 606,108.6 606.3,107.6 606.7,106.6 607,105.8 607.4,105.3 607.7,105.6 608.1,105.8 608.4,104.3 608.8,102.9 609.1,102.5 609.5,102.4 609.8,102.3 610.2,102.2 610.5,102.1 610.9,101.9 611.2,101.7 611.6,101 611.9,100.3 612.3,99.4 612.6,98.6 613,98.5 613.3,99.7 613.7,100.9 614,99.5 614.4,98 614.7,97.9 615.1,98.1 615.4,98.2 615.8,98 616.1,97.8 616.5,97.5 616.8,97.3 617.2,96.8 617.5,96.3 617.9,96.4 618.2,97 618.6,97.3 618.9,97.5 619.3,97.6 619.6,97.2 620,96.7 620.3,96.8 620.7,97.1 621,97.4 621.4,97.7 621.7,98 622.1,97.6 622.4,97.2 622.8,97.7 623.1,98.2 623.5,98.1 623.8,97.5 624.2,97 624.5,96.7 624.9,96.4 625.2,97.4 625.6,98.4 625.9,98.1 626.3,97.3 626.6,96.9 627,97.1 627.3,97.3 627.7,97.4 628,97.5 628.4,96.5 628.7,95.7 629.1,94.9 629.4,94.2 629.8,94 630.1,94.7 630.5,95.1 630.8,96.7 631.2,98.2 631.5,98.2 631.9,97.7 632.2,97.4 632.6,97.3 632.9,97.1 633.3,96.3 633.6,95.2 634,94.8 634.3,94.3 634.7,93.4 635,92.4 635.4,92.2 635.7,93.2 636.1,94.2 636.4,94.2 636.8,94.2 637.1,93.7 637.5,93.1 637.8,92.9 638.2,93.1 638.5,93.1 638.9,92.3 639.2,91.3 639.6,91.1 639.9,90.8 640.3,90.5 640.6,90.4 641,90.4 641.3,90.7 641.7,90.8 642,88.9 642.4,87.3 642.7,88.2 643.1,89.9 643.4,90.3 643.8,89 644.1,87.7 644.5,87.3 644.8,87.1 645.2,85.4 645.5,83.9 645.9,84.5 646.2,86.3 646.6,87.4 646.9,86.8 647.3,86.3 647.6,88.8 648,91.2 648.3,91.3 648.7,90.7 649,89.9 649.4,89.4 649.7,88.8 650.1,88.2 650.4,87.5 650.8,88.5 651.1,89.7 651.5,89.4 651.8,88.3 652.2,87.6 652.5,87.6 652.9,87.6 653.2,88.2 653.6,88.9 653.9,87 654.3,84.5 654.6,83.5 655,84.2 655.3,84.6 655.7,83.9 656,83.2 656.4,82.1 656.7,81.2 657.1,80.9 657.4,81 657.8,81.5 658.1,82.5 658.5,83.5 658.8,83.6 659.2,83.6 659.5,85 659.9,87 660.2,87.5 660.6,86.5 660.9,85.7 661.3,85.8 661.6,85.9 662,85.8 662.3,85.7 662.7,85.5 663,85.4 663.4,85.6 663.7,86.5 664.1,87.4 664.4,86.6 664.8,85.7 665.1,85.9 665.5,86.5 665.8,87.1 666.2,87.9 666.5,88.7 666.9,89.8 667.2,91.3 667.6,92.6 667.9,93.5 668.3,94.1 668.6,94.6 669,95.4 669.3,96.6 669.7,97.3 670,96.6 670.4,96 670.7,95.6 671.1,95.1 671.4,94.4 671.8,93.7 672.1,93.2 672.5,93.2 672.8,93.5 673.2,94 673.5,94.4 673.9,95.2 674.2,96.2 674.6,96.7 674.9,96.9 675.3,97.1 675.6,95.9 676,94.9 676.3,95.4 676.7,96.3 677,97.1 677.4,97.6 677.7,98.2 678.1,98.6 678.4,99.1 678.8,98.8 679.1,98.4 679.5,98.9 679.8,100 680.2,101 680.5,101.9 680.9,102.7 681.2,103 681.6,103.2 681.9,103.6 682.3,103.9 682.6,104.4 683,105 683.3,105.6 683.7,105.8 684,106.1 684.4,106.9 684.7,107.8 685.1,108.4 685.4,109 685.8,109.7 686.1,110.5 686.5,111.3 686.8,111.7 687.2,112 687.5,112.8 687.9,113.6 688.2,114.3 688.6,114.7 688.9,115.3 689.3,116.5 689.6,117.6 690,118.2 690.3,118.7 690.7,119.3 691,119.9 691.4,120.5 691.7,121.4 692.1,122.2 692.4,123.2 692.8,124.2 693.1,124.7 693.5,125 693.8,125.6 694.2,126.4 694.5,127.1 694.9,127.8 695.2,128.6 695.6,129.4 695.9,130.1 696.3,130.9 696.6,131.5 697,132.1 697.3,132.6 697.7,133.2 698,134 698.4,134.8 698.7,135.2 699.1,135.5 699.4,135.8 699.8,136.1 700.1,136.6 700.5,137.4 700.8,138.3 701.2,138.6 701.5,138.8 701.9,139.5 702.2,140.3 702.6,140.9 702.9,141.1 703.3,141.3 703.6,141.9 704,142.2 704.3,142.2 704.7,142 705,141.7 705.4,141.4 705.7,141.2 706.1,141.2 706.4,141.3 706.8,141.3 707.1,141.5 707.5,142.1 707.8,143 708.2,143.6 708.5,143.9 708.9,144.1 709.2,144.5 709.6,144.8 709.9,145.3 710.3,145.8 710.6,146.3 711,146.7 711.3,147.2 711.7,147.6 712,148.1 712.4,148.3 712.7,148.5 713.1,148.7 713.4,149 713.8,149.2 714.1,149.3 714.5,149.4 714.8,149.7 715.2,150 715.5,150.3 715.9,150.5 716.2,150.6 716.6,150.7 716.9,150.8 717.3,150.8 717.6,150.9 718,150.8 718.3,150.6 718.7,150.7 719,150.9 719.4,150.8 719.7,150.5 720.1,150.2 720.4,150.3 720.8,150.4 721.1,150.4 721.5,150.4 721.8,150.5 722.2,150.7 722.5,150.9 722.9,150.7 723.2,150.5 723.6,150.6 723.9,150.7 724.3,150.7 724.6,150.6 725,150.6 725.3,150.6 725.7,150.6 726,150.7 726.4,150.8 726.7,150.6 727.1,150.4 727.4,150.4 727.8,150.7 728.1,151 728.5,151 728.8,151.1 729.2,151.1 729.5,151.2 729.9,151.2 730.2,151.2 730.6,151.2 730.9,151 731.3,150.8 731.6,151 732,151.2 732.3,151.4 732.7,151.6 733,151.8 733.4,152.1 733.7,152.3 734.1,152.1 734.4,152 734.8,152.1 735.1,152.2 735.5,152.3 735.8,152.4 736.2,152.5 736.5,152.9 736.9,153.3 737.2,153.4 737.6,153.5 737.9,153.6 738.3,153.7 738.6,153.9 739,154.1 739.3,154.2 739.7,154.1 740,154 740.4,154.4 740.7,154.7 741.1,154.9 741.4,154.8 741.8,154.7 742.1,154.3 742.5,154 742.8,153.8 743.2,153.6 743.5,153.3 743.9,153.1 744.2,153.3 744.6,153.7 744.9,154.2 745.3,154.6 745.6,154.9 746,155 746.3,155 746.7,155.3 747,155.8 747.4,156.2 747.7,156.5 748.1,156.8 748.4,157 748.8,157.3 749.1,157.6 749.5,158 749.8,158.4 750.2,158.7 750.5,158.9"/>
<polyline fill="none" stroke="#14d28c" stroke-width="1.7" stroke-linejoin="round" stroke-linecap="round"  points="430.6,163.6 431,163.6 431.3,163.5 431.7,163.4 432,163.5 432.4,163.6 432.7,163.7 433.1,163.9 433.4,164 433.8,163.5 434.1,163.1 434.5,163.2 434.8,163.4 435.2,163.3 435.5,162.9 435.9,162.5 436.2,162.7 436.6,162.9 436.9,162.9 437.3,162.9 437.6,163 438,163.1 438.3,163 438.7,162.6 439,162.3 439.4,162 439.7,162 440.1,162.1 440.4,162.3 440.8,162.4 441.1,162.3 441.5,162.2 441.8,162 442.2,161.9 442.5,162.2 442.9,162.6 443.2,162.7 443.6,162.6 443.9,162.6 444.3,162.9 444.6,163.2 445,163 445.3,162.8 445.7,162.7 446,162.6 446.4,162.6 446.7,162.8 447.1,162.9 447.4,162.8 447.8,162.6 448.1,162.8 448.5,163 448.8,162.9 449.2,162.7 449.5,162.6 449.9,162.8 450.2,162.9 450.6,163.2 450.9,163.5 451.3,163.5 451.6,163.3 452,163.2 452.3,163.2 452.7,163.1 453,163.2 453.4,163.3 453.7,163 454.1,162.6 454.4,162.6 454.8,162.8 455.1,162.9 455.5,162.9 455.8,162.8 456.2,162.5 456.5,162.2 456.9,162.3 457.2,162.4 457.6,162.3 457.9,162 458.3,161.8 458.6,162.3 459,162.9 459.3,162.8 459.7,162.6 460,162.5 460.4,162.5 460.7,162.6 461.1,163 461.4,163.4 461.8,163.5 462.1,163.6 462.5,163.7 462.8,163.8 463.2,163.9 463.5,164.3 463.9,164.7 464.2,164.9 464.6,165 464.9,165.3 465.3,165.4 465.6,165.3 466,165 466.3,164.9 466.7,165.1 467,165.5 467.4,165.6 467.7,165.7 468.1,165.8 468.4,165.9 468.8,165.9 469.1,166 469.5,166.1 469.8,166.3 470.2,166.6 470.5,166.5 470.9,166.4 471.2,166.2 471.6,165.9 471.9,165.9 472.3,166.3 472.6,166.8 473,167 473.3,167.3 473.7,167.8 474,168.2 474.4,168.6 474.7,168.9 475.1,169.2 475.4,169.4 475.8,169.5 476.1,169.7 476.5,169.9 476.8,170.2 477.2,170.6 477.5,170.9 477.9,171.3 478.2,171.5 478.6,171.6 478.9,171.6 479.3,172 479.6,172.5 480,173 480.3,173.4 480.7,173.6 481,173.1 481.4,172.4 481.7,172.2 482.1,172 482.4,172 482.8,172.3 483.1,172.4 483.5,172.3 483.8,172.1 484.2,171.7 484.5,171.3 484.9,171 485.2,170.8 485.6,170.5 485.9,170.1 486.3,169.9 486.6,170.1 487,170.3 487.3,169.8 487.7,169.1 488,168.4 488.4,167.7 488.7,167.1 489.1,167 489.4,167 489.8,166.2 490.1,165.6 490.5,165.2 490.8,164.9 491.2,164.8 491.5,164.8 491.9,164.8 492.2,164.5 492.6,164.3 492.9,164 493.3,163.7 493.6,163.6 494,163.6 494.3,163.7 494.7,163.9 495,164.1 495.4,164.2 495.7,164.3 496.1,164.3 496.4,164.4 496.8,164.5 497.1,164.7 497.5,164.7 497.8,164.4 498.2,164.1 498.5,164 498.9,164 499.2,164.1 499.6,164.2 499.9,164.4 500.3,164.4 500.6,164.4 501,164.1 501.3,163.8 501.7,164.1 502,164.7 502.4,164.8 502.7,164.6 503.1,164.4 503.4,164.6 503.8,164.7 504.1,165 504.5,165.2 504.8,165.5 505.2,165.8 505.5,166 505.9,165.9 506.2,165.8 506.6,165.8 506.9,165.8 507.3,165.9 507.6,166.1 508,166.1 508.3,166 508.7,165.8 509,165.7 509.4,165.6 509.7,165.9 510.1,166.3 510.4,166.7 510.8,167.1 511.1,167.4 511.5,167.6 511.8,167.8 512.2,168.1 512.5,168.4 512.9,168.5 513.2,168.4 513.6,168.6 513.9,168.9 514.3,169.1 514.6,169.4 515,169.6 515.3,169.9 515.7,170.2 516,170.3 516.4,170.3 516.7,170.4 517.1,170.7 517.4,171 517.8,171.2 518.1,171.4 518.5,171.7 518.8,172 519.2,172.3 519.5,172.6 519.9,172.8 520.2,172.7 520.6,172.6 520.9,172.7 521.3,173 521.6,173.1 522,173.2 522.3,173.3 522.7,173.5 523,173.7 523.4,173.5 523.7,173.3 524.1,173.3 524.4,173.3 524.8,173.3 525.1,173.1 525.5,173 525.8,173 526.2,173.1 526.5,173.1 526.9,173.2 527.2,173.1 527.6,172.9 527.9,172.8 528.3,173 528.6,173.3 529,173.3 529.3,173.4 529.7,173.4 530,173.5 530.4,173.5 530.7,173.4 531.1,173.4 531.4,173.4 531.8,173.3 532.1,173.3 532.5,173.3 532.8,173.5 533.2,173.7 533.5,173.8 533.9,173.8 534.2,173.8 534.6,173.9 534.9,173.9 535.3,173.7 535.6,173.3 536,173.2 536.3,173.4 536.7,173.4 537,173.2 537.4,173.1 537.7,172.7 538.1,172.3 538.4,172.3 538.8,172.7 539.1,172.9 539.5,172.8 539.8,172.8 540.2,172.7 540.5,172.6 540.9,172.7 541.2,172.9 541.6,172.9 541.9,172.9 542.3,172.9 542.6,172.9 543,172.9 543.3,173.1 543.7,173.4 544,173.6 544.4,173.8 544.7,173.9 545.1,173.9 545.4,173.8 545.8,173.7 546.1,173.7 546.5,173.7 546.8,173.7 547.2,173.7 547.5,173.5 547.9,173.4 548.2,173.3 548.6,173.3 548.9,173.3 549.3,173.3 549.6,173.4 550,173.6 550.3,173.7 550.7,173.5 551,173.3 551.4,173.3 551.7,173.2 552.1,173.2 552.4,173.2 552.8,173.2 553.1,173.1 553.5,173.1 553.8,173.2 554.2,173.3 554.5,173 554.9,172.7 555.2,172.6 555.6,172.7 555.9,173 556.3,173.5 556.6,173.9 557,173.9 557.3,173.7 557.7,173.6 558,173.5 558.4,173.4 558.7,173.3 559.1,173.2 559.4,173.2 559.8,173.2 560.1,173.1 560.5,172.9 560.8,173.2 561.2,173.6 561.5,173.8 561.9,173.5 562.2,173.2 562.6,173 562.9,172.8 563.3,172.9 563.6,173 564,172.9 564.3,172.8 564.7,172.6 565,171.6 565.4,170.5 565.7,170.2 566.1,169.9 566.4,169.4 566.8,168.9 567.1,168.3 567.5,167.5 567.8,166.8 568.2,166.1 568.5,165.5 568.9,164.7 569.2,163.8 569.6,163.3 569.9,163 570.3,162.7 570.6,162.2 571,161.7 571.3,161.3 571.7,160.9 572,160.4 572.4,159.9 572.7,159.3 573.1,158.8 573.4,158.6 573.8,158.9 574.1,159.4 574.5,159.9 574.8,160.5 575.2,160.8 575.5,161.1 575.9,161.6 576.2,162.6 576.6,163.7 576.9,164.5 577.3,165.3 577.6,166.1 578,166.6 578.3,166.2 578.7,165.1 579,163.9 579.4,163 579.7,162.1 580.1,161.2 580.4,160.3 580.8,159.3 581.1,158.3 581.5,157.4 581.8,156.3 582.2,155.2 582.5,154.1 582.9,153 583.2,151.8 583.6,150.5 583.9,149.3 584.3,148.4 584.6,147.5 585,146.1 585.3,144.7 585.7,143.6 586,142.8 586.4,141.8 586.7,140.6 587.1,139.6 587.4,139.4 587.8,139.4 588.1,138.7 588.5,138 588.8,137.4 589.2,136.8 589.5,136.2 589.9,135.5 590.2,134.7 590.6,134 590.9,133.2 591.3,132.6 591.6,132 592,131.5 592.3,131 592.7,130.4 593,128.7 593.4,127 593.7,127.1 594.1,127.6 594.4,127.4 594.8,126.9 595.1,126.2 595.5,125.1 595.8,124 596.2,123.8 596.5,123.7 596.9,123.5 597.2,123.4 597.6,122.6 597.9,121.3 598.3,120.2 598.6,120.2 599,120.1 599.3,119.5 599.7,118.9 600,118.7 600.4,118.8 600.7,118.4 601.1,117 601.4,115.7 601.8,115.7 602.1,115.7 602.5,115.6 602.8,115.3 603.2,114.6 603.5,114.1 603.9,113.5 604.2,113.1 604.6,113.1 604.9,112 605.3,110.9 605.6,110.9 606,111.7 606.3,112.1 606.7,111.8 607,111.6 607.4,110.5 607.7,109.5 608.1,109.7 608.4,110.3 608.8,109.8 609.1,107.9 609.5,106.3 609.8,106.5 610.2,106.7 610.5,106.2 610.9,105.6 611.2,105.6 611.6,105.2 611.9,104.8 612.3,104.7 612.6,104.5 613,103.2 613.3,102.5 613.7,101.5 614,100.4 614.4,100 614.7,100.4 615.1,100.6 615.4,100.5 615.8,100.4 616.1,100.6 616.5,100.7 616.8,101.9 617.2,104 617.5,104.4 617.9,101.3 618.2,98.4 618.6,99.4 618.9,100.4 619.3,100.5 619.6,100.3 620,101.2 620.3,103.1 620.7,104.3 621,103 621.4,101.6 621.7,101.3 622.1,101.2 622.4,101.4 622.8,101.9 623.1,102.7 623.5,104.6 623.8,106.3 624.2,103.9 624.5,101.4 624.9,100.8 625.2,101.1 625.6,102 625.9,103.7 626.3,104.9 626.6,103.1 627,100.9 627.3,99.5 627.7,98.2 628,99.6 628.4,102.8 628.7,103.9 629.1,100.6 629.4,97.5 629.8,98.7 630.1,99.8 630.5,101 630.8,102.2 631.2,102.2 631.5,100.7 631.9,99.4 632.2,98 632.6,96.7 632.9,97.2 633.3,98 633.6,97.9 634,97.1 634.3,97.5 634.7,100 635,102.4 635.4,99.9 635.7,97.4 636.1,95.4 636.4,93.5 636.8,93.7 637.1,96.4 637.5,98.5 637.8,98.5 638.2,98.5 638.5,97.8 638.9,97.1 639.2,97.1 639.6,97.5 639.9,97.4 640.3,95.8 640.6,94.1 641,93.2 641.3,92.3 641.7,92.1 642,91.6 642.4,90.4 642.7,88.6 643.1,87.2 643.4,87.3 643.8,88.5 644.1,88.7 644.5,88.7 644.8,89.9 645.2,92 645.5,92.1 645.9,90.7 646.2,89.4 646.6,87.3 646.9,85.5 647.3,85.8 647.6,86.5 648,87.6 648.3,89 648.7,90 649,89.5 649.4,89 649.7,86.8 650.1,84.4 650.4,84.1 650.8,85.4 651.1,86.9 651.5,88.9 651.8,90.9 652.2,89.8 652.5,88.7 652.9,88.1 653.2,87.8 653.6,87.3 653.9,86.8 654.3,86.5 654.6,87.4 655,88.3 655.3,89 655.7,89.8 656,89.8 656.4,89.4 656.7,89.1 657.1,89.3 657.4,89.3 657.8,90.4 658.1,91.6 658.5,90.6 658.8,88.9 659.2,88.2 659.5,87.8 659.9,87.9 660.2,89.9 660.6,91.6 660.9,91.4 661.3,91.1 661.6,90 662,88.4 662.3,87.9 662.7,89.8 663,91.5 663.4,88.9 663.7,86.5 664.1,89.8 664.4,95.1 664.8,97 665.1,95.1 665.5,93.6 665.8,93.5 666.2,93.7 666.5,94.2 666.9,95 667.2,97.3 667.6,100.2 667.9,102 668.3,102.3 668.6,102.6 669,104.2 669.3,105.6 669.7,106.3 670,106.8 670.4,106.1 670.7,104.1 671.1,102.3 671.4,101.1 671.8,99.9 672.1,100.8 672.5,101.9 672.8,101.9 673.2,101.3 673.5,101.6 673.9,103.6 674.2,105.3 674.6,104.8 674.9,104.3 675.3,103.5 675.6,102.9 676,103 676.3,104 676.7,104.5 677,103.8 677.4,103.3 677.7,104 678.1,104.6 678.4,105.3 678.8,106 679.1,106.7 679.5,107.4 679.8,108.1 680.2,108.2 680.5,108.3 680.9,108.7 681.2,109.3 681.6,109.7 681.9,110.1 682.3,110.5 682.6,111.3 683,112 683.3,112.1 683.7,112.2 684,112.6 684.4,113.2 684.7,114.1 685.1,115.2 685.4,116.4 685.8,117 686.1,117.6 686.5,118.4 686.8,119.3 687.2,120.1 687.5,120.8 687.9,121.6 688.2,122.3 688.6,123.1 688.9,123.7 689.3,124.4 689.6,125.2 690,126 690.3,126.7 690.7,127.3 691,127.9 691.4,128.4 691.7,128.8 692.1,129.4 692.4,129.9 692.8,130.5 693.1,131.2 693.5,131.8 693.8,132.5 694.2,133.2 694.5,133.7 694.9,134 695.2,134.4 695.6,134.8 695.9,135.1 696.3,135.5 696.6,135.9 697,136.5 697.3,137.2 697.7,137.7 698,138.1 698.4,138.7 698.7,139.6 699.1,140.4 699.4,141.2 699.8,141.8 700.1,142.2 700.5,142.4 700.8,142.9 701.2,143.5 701.5,144 701.9,144.5 702.2,145.1 702.6,145.8 702.9,146.4 703.3,146.6 703.6,146.5 704,146.6 704.3,146.7 704.7,146.6 705,146.4 705.4,146.1 705.7,145.5 706.1,144.9 706.4,144.9 706.8,145.5 707.1,146.2 707.5,146.7 707.8,147.1 708.2,147.7 708.5,148.3 708.9,149 709.2,149.7 709.6,150 709.9,150.2 710.3,150.3 710.6,151 711,151.7 711.3,152 711.7,152.3 712,152.6 712.4,152.8 712.7,153 713.1,153.4 713.4,153.8 713.8,153.6 714.1,153.4 714.5,153.7 714.8,154.2 715.2,154.6 715.5,154.7 715.9,154.8 716.2,154.4 716.6,154 716.9,154.1 717.3,154.3 717.6,154.4 718,154.4 718.3,154.4 718.7,154.4 719,154.5 719.4,154.4 719.7,154.3 720.1,154.5 720.4,154.7 720.8,154.9 721.1,154.9 721.5,154.9 721.8,155 722.2,155.1 722.5,154.9 722.9,154.7 723.2,154.8 723.6,155 723.9,155.1 724.3,154.9 724.6,154.8 725,154.9 725.3,155.2 725.7,155.2 726,155 726.4,154.9 726.7,154.7 727.1,154.5 727.4,154.7 727.8,155 728.1,155 728.5,154.9 728.8,155.1 729.2,155.3 729.5,155.5 729.9,155.5 730.2,155.6 730.6,155.9 730.9,156.1 731.3,156.1 731.6,156 732,156 732.3,156.2 732.7,156.4 733,156.4 733.4,156.4 733.7,156.6 734.1,156.9 734.4,157.1 734.8,157.4 735.1,157.4 735.5,157 735.8,156.6 736.2,156.9 736.5,157.2 736.9,157.4 737.2,157.6 737.6,157.7 737.9,157.8 738.3,157.9 738.6,158.1 739,158.3 739.3,158.1 739.7,157.9 740,158 740.4,158.1 740.7,158.3 741.1,158.4 741.4,158.5 741.8,158.1 742.1,157.8 742.5,157.7 742.8,157.6 743.2,157.7 743.5,157.9 743.9,158 744.2,157.7 744.6,157.5 744.9,157.8 745.3,158.1 745.6,158.6 746,159.2 746.3,159.5 746.7,159.4 747,159.3 747.4,159.8 747.7,160.4 748.1,160.7 748.4,160.9 748.8,161.1 749.1,161.4 749.5,161.7 749.8,162.1 750.2,162.5 750.5,162.6"/>
<polyline fill="none" stroke="#ff3db4" stroke-width="1.7" stroke-linejoin="round" stroke-linecap="round"  points="430.6,167.7 431,167.7 431.3,167.7 431.7,167.7 432,167.7 432.4,167.6 432.7,167.3 433.1,167 433.4,166.9 433.8,166.9 434.1,167.3 434.5,167.7 434.8,167.8 435.2,167.5 435.5,167.2 435.9,167.3 436.2,167.4 436.6,167.5 436.9,167.6 437.3,167.6 437.6,167.5 438,167.4 438.3,167 438.7,166.7 439,167 439.4,167.3 439.7,167.3 440.1,167.2 440.4,167 440.8,166.9 441.1,166.7 441.5,166.3 441.8,166 442.2,166.4 442.5,166.8 442.9,167 443.2,167.1 443.6,167 443.9,166.8 444.3,166.5 444.6,166.3 445,166.1 445.3,166.3 445.7,166.7 446,166.9 446.4,166.9 446.7,166.9 447.1,167.1 447.4,167.3 447.8,167.1 448.1,166.9 448.5,166.9 448.8,167 449.2,167 449.5,166.7 449.9,166.5 450.2,166.6 450.6,166.7 450.9,166.7 451.3,166.7 451.6,166.7 452,166.7 452.3,166.6 452.7,166.4 453,166.1 453.4,166 453.7,165.9 454.1,165.9 454.4,166.2 454.8,166.4 455.1,166.4 455.5,166.5 455.8,166.4 456.2,166.4 456.5,166.6 456.9,166.9 457.2,167 457.6,167 457.9,166.9 458.3,167.1 458.6,167.3 459,167 459.3,166.6 459.7,166.6 460,166.8 460.4,166.9 460.7,167 461.1,167.1 461.4,167.2 461.8,167.2 462.1,167.2 462.5,167.2 462.8,167.3 463.2,167.7 463.5,168 463.9,168.3 464.2,168.6 464.6,168.6 464.9,168.6 465.3,168.4 465.6,168.1 466,168 466.3,168.3 466.7,168.6 467,168.5 467.4,168.4 467.7,168.7 468.1,169.2 468.4,169.4 468.8,169.2 469.1,169 469.5,169.2 469.8,169.2 470.2,169.6 470.5,170 470.9,170.1 471.2,170.2 471.6,170.3 471.9,170.1 472.3,170.1 472.6,170.8 473,171.3 473.3,171.5 473.7,171.6 474,171.8 474.4,172.1 474.7,172.5 475.1,172.9 475.4,173.3 475.8,173.5 476.1,173.7 476.5,173.9 476.8,174.1 477.2,174.3 477.5,174.5 477.9,174.7 478.2,175.1 478.6,175.4 478.9,175.5 479.3,175.5 479.6,175.6 480,175.9 480.3,176.2 480.7,176.3 481,176.3 481.4,176.1 481.7,175.7 482.1,175.8 482.4,176.1 482.8,176.1 483.1,175.7 483.5,175.4 483.8,175.5 484.2,175.5 484.5,175 484.9,174.4 485.2,173.9 485.6,173.6 485.9,173.4 486.3,173.4 486.6,173.4 487,173.2 487.3,172.9 487.7,172.5 488,172.1 488.4,171.7 488.7,171.6 489.1,171.5 489.4,170.4 489.8,169.2 490.1,169 490.5,169.2 490.8,169.2 491.2,169.1 491.5,168.8 491.9,168.4 492.2,167.9 492.6,167.6 492.9,167.2 493.3,167.2 493.6,167.3 494,167.5 494.3,167.4 494.7,167.4 495,167.7 495.4,168 495.7,167.7 496.1,167.1 496.4,166.8 496.8,166.9 497.1,167 497.5,167.2 497.8,167.3 498.2,167.2 498.5,167 498.9,166.9 499.2,166.7 499.6,166.8 499.9,167.4 500.3,168 500.6,167.6 501,167.4 501.3,167.6 501.7,168.1 502,168.2 502.4,168.1 502.7,168.2 503.1,168.7 503.4,169.2 503.8,169.3 504.1,169.4 504.5,169.5 504.8,169.5 505.2,169.6 505.5,169.8 505.9,170.1 506.2,170.1 506.6,170.2 506.9,170 507.3,169.6 507.6,169.6 508,169.9 508.3,170.1 508.7,169.6 509,169.2 509.4,169.4 509.7,169.7 510.1,170.1 510.4,170.6 510.8,171.1 511.1,171.6 511.5,172 511.8,172.3 512.2,172.6 512.5,172.7 512.9,172.9 513.2,173.1 513.6,173.3 513.9,173.4 514.3,173.4 514.6,173.5 515,173.5 515.3,173.5 515.7,173.6 516,173.8 516.4,174 516.7,174.1 517.1,174.1 517.4,174.4 517.8,174.6 518.1,174.5 518.5,174.3 518.8,174.6 519.2,175.3 519.5,175.8 519.9,175.8 520.2,175.7 520.6,176.3 520.9,176.9 521.3,176.9 521.6,176.7 522,176.6 522.3,177 522.7,177.3 523,177.2 523.4,177.2 523.7,177.2 524.1,177.2 524.4,177.1 524.8,176.9 525.1,176.8 525.5,176.8 525.8,176.8 526.2,176.7 526.5,176.6 526.9,176.5 527.2,176.3 527.6,176.1 527.9,176.1 528.3,176 528.6,176.4 529,176.7 529.3,176.7 529.7,176.5 530,176.5 530.4,176.7 530.7,176.8 531.1,176.9 531.4,177 531.8,177 532.1,176.9 532.5,177 532.8,177.2 533.2,177.2 533.5,176.9 533.9,176.5 534.2,176.8 534.6,177 534.9,177 535.3,176.8 535.6,176.7 536,176.8 536.3,176.8 536.7,176.3 537,175.8 537.4,175.6 537.7,175.5 538.1,175.6 538.4,175.8 538.8,176.1 539.1,176.2 539.5,176.3 539.8,176.4 540.2,176.5 540.5,176.4 540.9,176.2 541.2,176.2 541.6,176.4 541.9,176.5 542.3,176.3 542.6,176.2 543,176.1 543.3,176 543.7,176.1 544,176.4 544.4,176.5 544.7,176.6 545.1,176.7 545.4,177.2 545.8,177.7 546.1,177.4 546.5,176.9 546.8,176.8 547.2,176.9 547.5,177.1 547.9,177 548.2,177 548.6,176.9 548.9,176.8 549.3,176.6 549.6,176.4 550,176.3 550.3,176.3 550.7,176.4 551,176.6 551.4,176.8 551.7,176.9 552.1,176.9 552.4,176.9 552.8,176.8 553.1,176.7 553.5,176.5 553.8,176.4 554.2,176.4 554.5,176.4 554.9,176.3 555.2,176.2 555.6,176.3 555.9,176.7 556.3,177 556.6,176.5 557,176 557.3,176.3 557.7,176.8 558,177 558.4,176.7 558.7,176.6 559.1,176.9 559.4,177.2 559.8,177.1 560.1,176.9 560.5,177 560.8,177.5 561.2,177.7 561.5,177.5 561.9,177.3 562.2,177.2 562.6,177.1 562.9,177.1 563.3,177 563.6,176.6 564,175.8 564.3,175.2 564.7,175.1 565,175 565.4,174.5 565.7,173.9 566.1,173.4 566.4,172.7 566.8,172.1 567.1,171.9 567.5,171.5 567.8,170.7 568.2,169.9 568.5,169.3 568.9,168.9 569.2,168.6 569.6,168.4 569.9,168.2 570.3,167.9 570.6,167.7 571,167.8 571.3,167.9 571.7,167.3 572,166.4 572.4,165.6 572.7,165.3 573.1,164.9 573.4,165 573.8,165.2 574.1,165.7 574.5,166.2 574.8,166.6 575.2,166.9 575.5,167 575.9,167.2 576.2,167.5 576.6,168.5 576.9,169.7 577.3,170.7 577.6,171.6 578,171.9 578.3,171.6 578.7,170.9 579,170.2 579.4,169.4 579.7,168.9 580.1,168.2 580.4,167.4 580.8,166.8 581.1,166.1 581.5,164.9 581.8,163.9 582.2,163.3 582.5,162.7 582.9,161.9 583.2,161 583.6,160.3 583.9,159.8 584.3,159.3 584.6,158.6 585,158.1 585.3,157.5 585.7,156.9 586,156.4 586.4,156 586.7,155.6 587.1,154.9 587.4,154.2 587.8,154.1 588.1,154.1 588.5,153.5 588.8,152.6 589.2,151.8 589.5,151.2 589.9,150.7 590.2,150.9 590.6,151 590.9,150.6 591.3,150 591.6,149.3 592,148.4 592.3,147.6 592.7,147.6 593,147.6 593.4,147.3 593.7,147 594.1,146.7 594.4,146.2 594.8,145.9 595.1,146 595.5,146.1 595.8,146.8 596.2,147.4 596.5,146.9 596.9,146.1 597.2,145.1 597.6,144.4 597.9,143.6 598.3,142.1 598.6,140.6 599,141.2 599.3,141.9 599.7,141.8 600,141.5 600.4,141.2 600.7,140.4 601.1,139.7 601.4,140.2 601.8,140.7 602.1,141.1 602.5,141.3 602.8,141.2 603.2,141 603.5,141 603.9,141.1 604.2,141.1 604.6,141 604.9,140.9 605.3,140.6 605.6,140.5 606,140.9 606.3,142.2 606.7,143.4 607,142.5 607.4,141.4 607.7,141.3 608.1,141.4 608.4,141.2 608.8,141 609.1,140.9 609.5,141 609.8,141.1 610.2,140.3 610.5,139.3 610.9,138.3 611.2,137.5 611.6,136.8 611.9,136.4 612.3,135.9 612.6,134.8 613,134.1 613.3,133.9 613.7,133.8 614,134.3 614.4,135.5 614.7,136.4 615.1,136.7 615.4,137 615.8,137.6 616.1,138.2 616.5,137.9 616.8,137 617.2,136.6 617.5,137.3 617.9,137.8 618.2,138.2 618.6,138.5 618.9,138.3 619.3,138 619.6,138.1 620,138.4 620.3,138.7 620.7,138.6 621,138.2 621.4,137.9 621.7,137.7 622.1,136.8 622.4,135.7 622.8,135.3 623.1,136 623.5,136.7 623.8,136.1 624.2,135.4 624.5,134.2 624.9,132.7 625.2,132.1 625.6,132.2 625.9,132.3 626.3,132.8 626.6,133.3 627,133.2 627.3,133.2 627.7,133.4 628,133.8 628.4,134.1 628.7,134.2 629.1,134.3 629.4,133.1 629.8,131.8 630.1,132.1 630.5,132.8 630.8,133 631.2,133.1 631.5,133.4 631.9,134 632.2,134.7 632.6,134.2 632.9,133.7 633.3,134 633.6,134.8 634,135.5 634.3,136 634.7,136.3 635,136.3 635.4,136.3 635.7,135.4 636.1,134.1 636.4,133.6 636.8,134 637.1,134.2 637.5,133.3 637.8,132.3 638.2,131.7 638.5,131.1 638.9,131.4 639.2,132.2 639.6,132.4 639.9,131 640.3,129.9 640.6,130.5 641,131.1 641.3,131.2 641.7,131.3 642,130.8 642.4,129.6 642.7,128.9 643.1,129.8 643.4,130.7 643.8,129.6 644.1,128.6 644.5,127.9 644.8,127.6 645.2,127.8 645.5,128.8 645.9,129.9 646.2,131.4 646.6,132.8 646.9,133.8 647.3,134.6 647.6,134.6 648,133.5 648.3,132.6 648.7,133.1 649,133.5 649.4,132.6 649.7,131.8 650.1,131.2 650.4,130.6 650.8,130 651.1,129.7 651.5,129.6 651.8,130.7 652.2,131.9 652.5,131.4 652.9,130.3 653.2,129.8 653.6,129.9 653.9,130 654.3,129.7 654.6,129.5 655,129.1 655.3,128.7 655.7,128.6 656,128.6 656.4,127.9 656.7,125.5 657.1,123.5 657.4,125.5 657.8,127.6 658.1,128.1 658.5,128.7 658.8,129.4 659.2,130.2 659.5,131.1 659.9,132.5 660.2,133.4 660.6,132.9 660.9,132 661.3,130.8 661.6,129.6 662,128.7 662.3,128.2 662.7,127.7 663,126.3 663.4,125 663.7,125.8 664.1,127.7 664.4,128.4 664.8,128 665.1,127.7 665.5,128.2 665.8,128.7 666.2,130.2 666.5,131.8 666.9,132.4 667.2,132.5 667.6,132.5 667.9,132.1 668.3,131.8 668.6,133.8 669,135.4 669.3,134.5 669.7,132.9 670,131.5 670.4,130.4 670.7,129.5 671.1,129.8 671.4,130.2 671.8,129.6 672.1,128.8 672.5,128 672.8,127.3 673.2,126.5 673.5,126.2 673.9,126.4 674.2,127.9 674.6,129.5 674.9,129.9 675.3,129.4 675.6,129.4 676,130.3 676.3,130.7 676.7,129.4 677,128 677.4,128.2 677.7,128.5 678.1,128.1 678.4,127.2 678.8,127.3 679.1,128.2 679.5,129.1 679.8,130.5 680.2,131.9 680.5,133 680.9,134.2 681.2,134 681.6,132.3 681.9,130.9 682.3,131.2 682.6,131.5 683,131.9 683.3,132.4 683.7,132.6 684,132.6 684.4,132.9 684.7,133.3 685.1,133.8 685.4,134.5 685.8,135.3 686.1,136.4 686.5,137.6 686.8,138.1 687.2,138.1 687.5,137.9 687.9,137.6 688.2,137.3 688.6,138.2 688.9,139 689.3,139.8 689.6,140.5 690,140.8 690.3,140.4 690.7,140.2 691,141.3 691.4,142.4 691.7,142.8 692.1,143 692.4,143 692.8,142.9 693.1,143 693.5,143.8 693.8,144.6 694.2,144.5 694.5,144.2 694.9,144.9 695.2,146.1 695.6,147 695.9,147.3 696.3,147.4 696.6,147 697,146.5 697.3,146.7 697.7,147.2 698,147.6 698.4,148 698.7,148.4 699.1,148.7 699.4,149 699.8,149.3 700.1,149.7 700.5,150.2 700.8,150.8 701.2,151.3 701.5,151.9 701.9,152.4 702.2,152.5 702.6,152.6 702.9,152.8 703.3,153 703.6,153.2 704,153.3 704.3,153.1 704.7,152.7 705,152.2 705.4,151.7 705.7,151.2 706.1,150.8 706.4,150.7 706.8,150.9 707.1,151.3 707.5,151.7 707.8,152.3 708.2,152.8 708.5,153.8 708.9,154.7 709.2,155.1 709.6,154.9 709.9,154.7 710.3,155.3 710.6,155.9 711,155.7 711.3,155.4 711.7,155.4 712,155.5 712.4,155.7 712.7,155.8 713.1,155.9 713.4,156.4 713.8,156.9 714.1,156.9 714.5,156.9 714.8,156.9 715.2,157 715.5,157 715.9,157 716.2,157.1 716.6,157.1 716.9,157.1 717.3,157.3 717.6,157.5 718,157.5 718.3,157.4 718.7,157.4 719,157.6 719.4,157.9 719.7,158.2 720.1,158.5 720.4,158.6 720.8,158.4 721.1,158.3 721.5,157.9 721.8,157.5 722.2,157.7 722.5,158 722.9,158.3 723.2,158.6 723.6,158.7 723.9,158.6 724.3,158.4 724.6,158.5 725,158.5 725.3,158.4 725.7,158.2 726,157.9 726.4,157.8 726.7,157.7 727.1,157.8 727.4,157.9 727.8,157.9 728.1,157.9 728.5,157.9 728.8,158.1 729.2,158.2 729.5,158.5 729.9,158.8 730.2,158.9 730.6,158.9 730.9,158.8 731.3,158.6 731.6,158.6 732,158.9 732.3,159.2 732.7,159.5 733,159.7 733.4,159.9 733.7,160 734.1,159.9 734.4,159.8 734.8,159.8 735.1,160 735.5,160.3 735.8,160.1 736.2,159.9 736.5,160.1 736.9,160.5 737.2,160.6 737.6,160.6 737.9,160.5 738.3,160.6 738.6,160.7 739,160.8 739.3,160.8 739.7,160.9 740,161 740.4,161.2 740.7,161.6 741.1,161.9 741.4,161.6 741.8,161.4 742.1,161.3 742.5,161.2 742.8,161.1 743.2,161 743.5,160.9 743.9,161.1 744.2,161.4 744.6,161.6 744.9,161.9 745.3,162.2 745.6,162.4 746,162.6 746.3,162.6 746.7,162.6 747,162.9 747.4,163.3 747.7,163.4 748.1,163.4 748.4,163.8 748.8,164.3 749.1,164.9 749.5,165.2 749.8,165.6 750.2,165.9 750.5,166"/>
<polyline fill="none" stroke="#0f63ad" stroke-width="1.7" stroke-linejoin="round" stroke-linecap="round"  points="430.6,171.5 431,171.5 431.3,171.3 431.7,171.1 432,170.8 432.4,170.7 432.7,170.9 433.1,171.1 433.4,170.9 433.8,170.7 434.1,170.8 434.5,171.2 434.8,171.3 435.2,170.7 435.5,170 435.9,170.2 436.2,170.3 436.6,170.2 436.9,170 437.3,170 437.6,170.2 438,170.3 438.3,170.1 438.7,169.8 439,169.6 439.4,169.4 439.7,169.4 440.1,169.6 440.4,169.7 440.8,169.3 441.1,168.9 441.5,169.3 441.8,169.7 442.2,169.7 442.5,169.6 442.9,169.8 443.2,170.2 443.6,170.4 443.9,170.2 444.3,169.9 444.6,170 445,170.2 445.3,170.1 445.7,169.5 446,169.3 446.4,169.8 446.7,170.3 447.1,170.3 447.4,170.2 447.8,170.3 448.1,170.4 448.5,170.4 448.8,170.4 449.2,170.4 449.5,170.5 449.9,170.7 450.2,170.5 450.6,170.2 450.9,170.3 451.3,170.5 451.6,170.5 452,170 452.3,169.5 452.7,169.7 453,170 453.4,170.2 453.7,170.3 454.1,170.4 454.4,170.5 454.8,170.5 455.1,170.1 455.5,169.7 455.8,169.8 456.2,170 456.5,170.4 456.9,170.9 457.2,171.1 457.6,170.8 457.9,170.6 458.3,170.4 458.6,170.3 459,170.2 459.3,170.1 459.7,169.9 460,169.6 460.4,169.5 460.7,170.1 461.1,170.8 461.4,171.1 461.8,171.3 462.1,171.4 462.5,171.5 462.8,171.6 463.2,171.7 463.5,171.7 463.9,172 464.2,172.2 464.6,172 464.9,171.7 465.3,171.7 465.6,172.1 466,172.4 466.3,172.5 466.7,172.5 467,172.8 467.4,173 467.7,173.2 468.1,173.4 468.4,173.5 468.8,173.1 469.1,172.8 469.5,173.4 469.8,174 470.2,174 470.5,173.8 470.9,173.8 471.2,174.1 471.6,174.4 471.9,174.5 472.3,174.5 472.6,174.4 473,174.3 473.3,174.4 473.7,174.8 474,175.3 474.4,176 474.7,176.6 475.1,177 475.4,177.4 475.8,177.2 476.1,177 476.5,177 476.8,177.4 477.2,177.8 477.5,178.2 477.9,178.7 478.2,179 478.6,179.3 478.9,179.4 479.3,179.5 479.6,179.5 480,179.4 480.3,179.2 480.7,179.5 481,179.7 481.4,179.6 481.7,179.3 482.1,179 482.4,178.9 482.8,178.9 483.1,179.1 483.5,179.2 483.8,179 484.2,178.7 484.5,178.5 484.9,178.5 485.2,178.4 485.6,177.6 485.9,176.9 486.3,176.8 486.6,176.7 487,176.5 487.3,176.2 487.7,176 488,175.7 488.4,175.4 488.7,175 489.1,174.4 489.4,174.1 489.8,173.8 490.1,173.4 490.5,172.8 490.8,172.5 491.2,172.4 491.5,172.4 491.9,172.2 492.2,172 492.6,171.9 492.9,171.8 493.3,171.5 493.6,171.1 494,170.9 494.3,171.1 494.7,171.2 495,171.5 495.4,171.7 495.7,171.7 496.1,171.4 496.4,171.2 496.8,171.1 497.1,171.1 497.5,171.1 497.8,171.1 498.2,171.1 498.5,171.1 498.9,171.2 499.2,171.4 499.6,171.6 499.9,171.4 500.3,171.2 500.6,171.3 501,171.3 501.3,171.3 501.7,171.5 502,171.7 502.4,172.1 502.7,172.6 503.1,172.7 503.4,172.7 503.8,173.1 504.1,173.6 504.5,173.7 504.8,173.6 505.2,173.4 505.5,173 505.9,172.5 506.2,172.7 506.6,173 506.9,173.1 507.3,173 507.6,173 508,173.1 508.3,173.2 508.7,173 509,172.9 509.4,173.1 509.7,173.5 510.1,174 510.4,174.5 510.8,175 511.1,175.2 511.5,175.4 511.8,175.7 512.2,176 512.5,176.1 512.9,176.2 513.2,176.2 513.6,176.3 513.9,176.4 514.3,176.5 514.6,176.4 515,176.8 515.3,177.4 515.7,177.7 516,177.8 516.4,178 516.7,178.7 517.1,179.4 517.4,179.3 517.8,179 518.1,179 518.5,179.1 518.8,179.2 519.2,179.1 519.5,179.1 519.9,179.2 520.2,179.3 520.6,179.2 520.9,179.2 521.3,179.4 521.6,180.2 522,180.8 522.3,180.8 522.7,180.8 523,180.9 523.4,181 523.7,181.2 524.1,181.5 524.4,181.6 524.8,181.2 525.1,180.9 525.5,181 525.8,181.1 526.2,181.2 526.5,181.2 526.9,181.1 527.2,180.9 527.6,180.7 527.9,180.6 528.3,180.5 528.6,180.6 529,180.8 529.3,180.8 529.7,180.8 530,180.8 530.4,180.8 530.7,180.7 531.1,180.9 531.4,181.1 531.8,181.3 532.1,181.4 532.5,181.4 532.8,181.2 533.2,181 533.5,181 533.9,181 534.2,180.7 534.6,180.4 534.9,180.2 535.3,180.1 535.6,180 536,180 536.3,180.1 536.7,179.9 537,179.8 537.4,179.7 537.7,179.6 538.1,179.6 538.4,179.8 538.8,179.9 539.1,179.7 539.5,179.5 539.8,179.4 540.2,179.4 540.5,179.5 540.9,179.7 541.2,179.9 541.6,179.8 541.9,179.8 542.3,179.9 542.6,179.9 543,180.2 543.3,180.6 543.7,180.9 544,181 544.4,181.1 544.7,180.8 545.1,180.5 545.4,180.4 545.8,180.4 546.1,180.4 546.5,180.2 546.8,180.2 547.2,180.2 547.5,180.3 547.9,180.3 548.2,180.3 548.6,180.4 548.9,180.5 549.3,180.5 549.6,180.4 550,180.3 550.3,180.5 550.7,180.7 551,180.5 551.4,180.4 551.7,180.4 552.1,180.4 552.4,180.4 552.8,180.6 553.1,180.8 553.5,180.5 553.8,180.3 554.2,180.4 554.5,180.7 554.9,180.8 555.2,180.6 555.6,180.4 555.9,180.1 556.3,179.9 556.6,179.8 557,179.8 557.3,179.9 557.7,180.1 558,180.2 558.4,180 558.7,179.9 559.1,180.2 559.4,180.5 559.8,180.7 560.1,180.9 560.5,181 560.8,181.1 561.2,181.1 561.5,180.7 561.9,180.3 562.2,180.5 562.6,180.9 562.9,180.9 563.3,180.5 563.6,179.9 564,179.1 564.3,178.4 564.7,178.7 565,179 565.4,178.7 565.7,178.3 566.1,177.7 566.4,177.1 566.8,176.4 567.1,176 567.5,175.4 567.8,175 568.2,174.7 568.5,174.4 568.9,174 569.2,173.6 569.6,172.9 569.9,172.1 570.3,171.7 570.6,171.3 571,170.9 571.3,170.6 571.7,170.2 572,169.8 572.4,169.3 572.7,168.8 573.1,168.3 573.4,168 573.8,168 574.1,168.7 574.5,169.7 574.8,170.5 575.2,170.8 575.5,171.1 575.9,171.4 576.2,171.9 576.6,172.8 576.9,173.9 577.3,174.8 577.6,175.6 578,175.9 578.3,175.7 578.7,175.1 579,174.5 579.4,173.8 579.7,173.3 580.1,173 580.4,172.7 580.8,172.7 581.1,172.6 581.5,171.5 581.8,170.4 582.2,169.6 582.5,169 582.9,168.4 583.2,167.7 583.6,167.1 583.9,166.5 584.3,165.8 584.6,164.8 585,163.8 585.3,163.1 585.7,162.6 586,162 586.4,161 586.7,160.1 587.1,159.6 587.4,159.2 587.8,159.5 588.1,160.2 588.5,160.2 588.8,159.3 589.2,158.3 589.5,157.4 589.9,156.6 590.2,156.4 590.6,156.2 590.9,156.2 591.3,156.1 591.6,156 592,155.8 592.3,155.6 592.7,155.1 593,154.3 593.4,154.3 593.7,154.5 594.1,154.4 594.4,153.7 594.8,153 595.1,152.7 595.5,152.2 595.8,151.4 596.2,150.9 596.5,151.1 596.9,151.6 597.2,151.8 597.6,151.3 597.9,150.8 598.3,152.6 598.6,154.4 599,154.7 599.3,154.3 599.7,154 600,153.9 600.4,154 600.7,155.2 601.1,156.5 601.4,155.9 601.8,155 602.1,154.8 602.5,155.3 602.8,155.7 603.2,155.6 603.5,155.5 603.9,155.4 604.2,155.3 604.6,156.8 604.9,159.1 605.3,159.7 605.6,158 606,156.6 606.3,157.3 606.7,157.8 607,158.1 607.4,158.2 607.7,157.7 608.1,156.7 608.4,155.7 608.8,154.9 609.1,154.1 609.5,153.5 609.8,152.9 610.2,153 610.5,153.3 610.9,153.1 611.2,151.9 611.6,151 611.9,150.8 612.3,150.6 612.6,150.7 613,151 613.3,150.9 613.7,150.6 614,150.4 614.4,150.6 614.7,150.7 615.1,150.2 615.4,149.6 615.8,150.9 616.1,152.9 616.5,153.7 616.8,152.6 617.2,151.6 617.5,152.1 617.9,152.6 618.2,153.7 618.6,154.8 618.9,154.9 619.3,154.1 619.6,153.8 620,154.7 620.3,155.8 620.7,154.7 621,153.7 621.4,154.1 621.7,154.9 622.1,155.1 622.4,154.3 622.8,153.7 623.1,154.2 623.5,154.7 623.8,153.5 624.2,152 624.5,151.2 624.9,150.8 625.2,150.8 625.6,151.5 625.9,152.2 626.3,151.9 626.6,151.5 627,150.3 627.3,148.7 627.7,148.2 628,149 628.4,149.6 628.7,149.2 629.1,148.8 629.4,149.7 629.8,150.9 630.1,150.4 630.5,148.6 630.8,147.6 631.2,148.4 631.5,149.4 631.9,149.3 632.2,149.2 632.6,148.8 632.9,148.3 633.3,148.6 633.6,149.9 634,151.3 634.3,152.2 634.7,153.1 635,152.3 635.4,151.1 635.7,151.1 636.1,152.1 636.4,152.9 636.8,153.1 637.1,153.1 637.5,152.9 637.8,152.7 638.2,152.4 638.5,152.1 638.9,151.6 639.2,150.9 639.6,150.3 639.9,150.3 640.3,150.2 640.6,149.8 641,149.3 641.3,148.9 641.7,148.7 642,148.3 642.4,147.4 642.7,146.5 643.1,146.3 643.4,146.2 643.8,146.4 644.1,146.8 644.5,146.9 644.8,146.3 645.2,145.9 645.5,147.4 645.9,148.8 646.2,148.5 646.6,147.8 646.9,147.3 647.3,146.9 647.6,146.7 648,147 648.3,147.4 648.7,147.5 649,147.6 649.4,147.8 649.7,148 650.1,147.5 650.4,146 650.8,144.9 651.1,145.6 651.5,146.2 651.8,146.1 652.2,145.7 652.5,145.4 652.9,145.5 653.2,145 653.6,142.9 653.9,141 654.3,139.9 654.6,138.8 655,139.3 655.3,140.8 655.7,141.2 656,140.1 656.4,139.4 656.7,141.3 657.1,143.2 657.4,143.1 657.8,142.6 658.1,142.5 658.5,143.1 658.8,143.9 659.2,145.5 659.5,147 659.9,147.1 660.2,147 660.6,147 660.9,147 661.3,146.1 661.6,144.3 662,142.5 662.3,142.3 662.7,142.1 663,142.9 663.4,143.9 663.7,142.7 664.1,139.8 664.4,138.4 664.8,140.2 665.1,142 665.5,142.1 665.8,142.1 666.2,142.6 666.5,143.2 666.9,143.5 667.2,143.3 667.6,143.3 667.9,144.2 668.3,145.2 668.6,145 669,144.6 669.3,144.8 669.7,145.6 670,146.7 670.4,148.2 670.7,149.4 671.1,146.7 671.4,144 671.8,143.4 672.1,143.7 672.5,143.4 672.8,142 673.2,140.7 673.5,139.6 673.9,138.7 674.2,138.9 674.6,139.3 674.9,140 675.3,140.8 675.6,141.3 676,140.9 676.3,140.8 676.7,142.1 677,143.4 677.4,144.1 677.7,144.4 678.1,144.3 678.4,143.8 678.8,143.5 679.1,144.5 679.5,145.5 679.8,145.8 680.2,146.1 680.5,146 680.9,145.5 681.2,145.6 681.6,146.7 681.9,147.6 682.3,146.9 682.6,146.2 683,145.6 683.3,145.1 683.7,145.3 684,146.6 684.4,148 684.7,147.8 685.1,147.6 685.4,148.4 685.8,149.4 686.1,150.5 686.5,152 686.8,153.1 687.2,153.1 687.5,153.1 687.9,152.4 688.2,151.4 688.6,152 688.9,153.2 689.3,153.8 689.6,153.6 690,153.7 690.3,153.6 690.7,153.5 691,153.5 691.4,153.6 691.7,154.2 692.1,155.2 692.4,155.2 692.8,152.8 693.1,150.4 693.5,151.5 693.8,152.6 694.2,153.3 694.5,153.8 694.9,153.7 695.2,152.9 695.6,152.4 695.9,153.1 696.3,153.8 696.6,154.3 697,154.7 697.3,154.8 697.7,154.7 698,154.6 698.4,155.1 698.7,155.5 699.1,155.9 699.4,156.3 699.8,156.4 700.1,156.3 700.5,156.4 700.8,156.8 701.2,157.1 701.5,157 701.9,156.9 702.2,157.2 702.6,157.6 702.9,158.1 703.3,158.5 703.6,158.7 704,158.5 704.3,158 704.7,157.1 705,156.1 705.4,156 705.7,156.3 706.1,156.3 706.4,156.2 706.8,156.3 707.1,155.6 707.5,155.1 707.8,155.5 708.2,156 708.5,156.6 708.9,157.4 709.2,158.1 709.6,158.7 709.9,159.3 710.3,159.4 710.6,159.4 711,160 711.3,160.9 711.7,161.1 712,160.1 712.4,159.4 712.7,160 713.1,160.6 713.4,160.4 713.8,160 714.1,160.2 714.5,160.7 714.8,161.2 715.2,161.4 715.5,161.7 715.9,161.7 716.2,161.7 716.6,161.6 716.9,161.6 717.3,161.6 717.6,161.8 718,162 718.3,162.2 718.7,162.3 719,162.3 719.4,162.3 719.7,162.2 720.1,162.1 720.4,162.2 720.8,162.1 721.1,162 721.5,161.7 721.8,161.4 722.2,162 722.5,163.2 722.9,163.3 723.2,162.1 723.6,161.2 723.9,161.9 724.3,162.5 724.6,162.8 725,162.9 725.3,163.2 725.7,163.5 726,163.7 726.4,163.5 726.7,163.4 727.1,163.4 727.4,163.3 727.8,163.3 728.1,163.4 728.5,163.4 728.8,163.5 729.2,163.5 729.5,163.8 729.9,164.1 730.2,164 730.6,163.9 730.9,163.7 731.3,163.4 731.6,163.2 732,163.3 732.3,163.3 732.7,163.9 733,164.6 733.4,164.7 733.7,164.7 734.1,164.8 734.4,165.1 734.8,165.3 735.1,165.2 735.5,165 735.8,165.1 736.2,165.3 736.5,165.1 736.9,164.6 737.2,164.4 737.6,164.8 737.9,165.2 738.3,165.4 738.6,165.6 739,165.9 739.3,166.1 739.7,166.2 740,166.2 740.4,166 740.7,165.6 741.1,165.1 741.4,165.3 741.8,165.5 742.1,165.6 742.5,165.6 742.8,165.4 743.2,164.8 743.5,164.3 743.9,164.8 744.2,165.5 744.6,165.5 744.9,165.2 745.3,165.2 745.6,165.6 746,166.1 746.3,166.2 746.7,166.2 747,166.7 747.4,167.2 747.7,167.7 748.1,168.2 748.4,168.6 748.8,168.7 749.1,168.8 749.5,169.3 749.8,169.8 750.2,169.9 750.5,169.8"/>
<text x="651.4" y="171" font-size="8.6" text-anchor="middle" fill="#fb7f14" font-family="'Liberation Sans', Arial, sans-serif"  stroke="#fb7f14" stroke-width="0.18">Midday</text>
<rect x="430.3" y="75.6" width="320.7" height="114" fill="none" stroke="#6a6a6a" stroke-width="0.9"/>
<path d="M430.3,75.6 V189.6 H751" fill="none" stroke="#3c3c3c" stroke-width="0.9"/>
<path d="M430.3,189.6 v2.8 M443.7,189.6 v1.6 M457,189.6 v2.8 M470.4,189.6 v1.6 M483.8,189.6 v2.8 M497.1,189.6 v1.6 M510.5,189.6 v2.8 M523.8,189.6 v1.6 M537.2,189.6 v2.8 M550.6,189.6 v1.6 M563.9,189.6 v2.8 M577.3,189.6 v1.6 M590.6,189.6 v2.8 M604,189.6 v1.6 M617.4,189.6 v2.8 M630.7,189.6 v1.6 M644.1,189.6 v2.8 M657.5,189.6 v1.6 M670.8,189.6 v2.8 M684.2,189.6 v1.6 M697.5,189.6 v2.8 M710.9,189.6 v1.6 M724.3,189.6 v2.8 M737.6,189.6 v1.6 M751,189.6 v2.8 M430.3,182.6 h-2.9 M430.3,175.9 h-1.6 M430.3,169.2 h-2.9 M430.3,162.5 h-1.6 M430.3,155.8 h-2.9 M430.3,149.1 h-1.6 M430.3,142.4 h-2.9 M430.3,135.7 h-1.6 M430.3,129 h-2.9 M430.3,122.3 h-1.6 M430.3,115.6 h-2.9 M430.3,108.9 h-1.6 M430.3,102.2 h-2.9 M430.3,95.5 h-1.6 M430.3,88.8 h-2.9 M430.3,82.1 h-1.6 M430.3,75.4 h-2.9" stroke="#3c3c3c" stroke-width="0.8" fill="none"/>
<text x="426.2" y="185.7" font-size="8.7" text-anchor="end" fill="#1a1a1a" font-family="'Liberation Sans', Arial, sans-serif"  stroke="#1a1a1a" stroke-width="0.18">10</text>
<text x="426.2" y="172.3" font-size="8.7" text-anchor="end" fill="#1a1a1a" font-family="'Liberation Sans', Arial, sans-serif"  stroke="#1a1a1a" stroke-width="0.18">15</text>
<text x="426.2" y="158.9" font-size="8.7" text-anchor="end" fill="#1a1a1a" font-family="'Liberation Sans', Arial, sans-serif"  stroke="#1a1a1a" stroke-width="0.18">20</text>
<text x="426.2" y="145.5" font-size="8.7" text-anchor="end" fill="#1a1a1a" font-family="'Liberation Sans', Arial, sans-serif"  stroke="#1a1a1a" stroke-width="0.18">25</text>
<text x="426.2" y="132.1" font-size="8.7" text-anchor="end" fill="#1a1a1a" font-family="'Liberation Sans', Arial, sans-serif"  stroke="#1a1a1a" stroke-width="0.18">30</text>
<text x="426.2" y="118.7" font-size="8.7" text-anchor="end" fill="#1a1a1a" font-family="'Liberation Sans', Arial, sans-serif"  stroke="#1a1a1a" stroke-width="0.18">35</text>
<text x="426.2" y="105.3" font-size="8.7" text-anchor="end" fill="#1a1a1a" font-family="'Liberation Sans', Arial, sans-serif"  stroke="#1a1a1a" stroke-width="0.18">40</text>
<text x="426.2" y="91.9" font-size="8.7" text-anchor="end" fill="#1a1a1a" font-family="'Liberation Sans', Arial, sans-serif"  stroke="#1a1a1a" stroke-width="0.18">45</text>
<text x="426.2" y="78.5" font-size="8.7" text-anchor="end" fill="#1a1a1a" font-family="'Liberation Sans', Arial, sans-serif"  stroke="#1a1a1a" stroke-width="0.18">50</text>
<text x="431.2" y="199.3" font-size="7.1" text-anchor="middle" fill="#1a1a1a" font-family="'Liberation Sans', Arial, sans-serif"  stroke="#1a1a1a" stroke-width="0.18">8 PM</text>
<text x="457.3" y="199.3" font-size="7.1" text-anchor="middle" fill="#1a1a1a" font-family="'Liberation Sans', Arial, sans-serif"  stroke="#1a1a1a" stroke-width="0.18">10 PM</text>
<text x="485.6" y="199.3" font-size="7.1" text-anchor="middle" fill="#1a1a1a" font-family="'Liberation Sans', Arial, sans-serif"  stroke="#1a1a1a" stroke-width="0.18">12 AM</text>
<text x="513.4" y="199.3" font-size="7.1" text-anchor="middle" fill="#1a1a1a" font-family="'Liberation Sans', Arial, sans-serif"  stroke="#1a1a1a" stroke-width="0.18">2 AM</text>
<text x="539.8" y="199.3" font-size="7.1" text-anchor="middle" fill="#1a1a1a" font-family="'Liberation Sans', Arial, sans-serif"  stroke="#1a1a1a" stroke-width="0.18">4 AM</text>
<text x="566.7" y="199.3" font-size="7.1" text-anchor="middle" fill="#1a1a1a" font-family="'Liberation Sans', Arial, sans-serif"  stroke="#1a1a1a" stroke-width="0.18">6 AM</text>
<text x="593.8" y="199.3" font-size="7.1" text-anchor="middle" fill="#1a1a1a" font-family="'Liberation Sans', Arial, sans-serif"  stroke="#1a1a1a" stroke-width="0.18">8 AM</text>
<text x="619.8" y="199.3" font-size="7.1" text-anchor="middle" fill="#1a1a1a" font-family="'Liberation Sans', Arial, sans-serif"  stroke="#1a1a1a" stroke-width="0.18">10 AM</text>
<text x="648.1" y="199.3" font-size="7.1" text-anchor="middle" fill="#1a1a1a" font-family="'Liberation Sans', Arial, sans-serif"  stroke="#1a1a1a" stroke-width="0.18">12 PM</text>
<text x="674.1" y="199.3" font-size="7.1" text-anchor="middle" fill="#1a1a1a" font-family="'Liberation Sans', Arial, sans-serif"  stroke="#1a1a1a" stroke-width="0.18">2 PM</text>
<text x="700.3" y="199.3" font-size="7.1" text-anchor="middle" fill="#1a1a1a" font-family="'Liberation Sans', Arial, sans-serif"  stroke="#1a1a1a" stroke-width="0.18">4 PM</text>
<text x="726.8" y="199.3" font-size="7.1" text-anchor="middle" fill="#1a1a1a" font-family="'Liberation Sans', Arial, sans-serif"  stroke="#1a1a1a" stroke-width="0.18">6 PM</text>
<text x="750.5" y="199.3" font-size="7.1" text-anchor="middle" fill="#1a1a1a" font-family="'Liberation Sans', Arial, sans-serif"  stroke="#1a1a1a" stroke-width="0.18">8 PM</text>
<text x="591.1" y="214" font-size="11.5" text-anchor="middle" fill="#1a1a1a" font-family="'Liberation Sans', Arial, sans-serif"  stroke="#1a1a1a" stroke-width="0.18">Time (h)</text>
<text transform="translate(404.9 127.6) rotate(-90)" font-size="11.6" text-anchor="middle" fill="#1a1a1a" stroke="#1a1a1a" stroke-width="0.18" font-family="'Liberation Sans', Arial, sans-serif">Temperature (<tspan font-size="7" dy="-3.9">o</tspan><tspan dy="3.9">C)</tspan></text>
<line x1="446.3" y1="88.1" x2="466.8" y2="88.1" stroke="#1a9af5" stroke-width="1.7"/>
<line x1="446.3" y1="99" x2="466.8" y2="99" stroke="#fb7f14" stroke-width="1.7"/>
<line x1="446.3" y1="109.9" x2="466.8" y2="109.9" stroke="#14d28c" stroke-width="1.7"/>
<line x1="446.3" y1="123.1" x2="466.8" y2="123.1" stroke="#ff3db4" stroke-width="1.7"/>
<line x1="446.3" y1="136.1" x2="466.8" y2="136.1" stroke="#0f63ad" stroke-width="1.7"/>
<text x="469" y="91.2" font-size="8.9" text-anchor="start" fill="#1a1a1a" font-family="'Liberation Sans', Arial, sans-serif"  stroke="#1a1a1a" stroke-width="0.18">Ambient temperature</text>
<text x="469" y="102.1" font-size="8.9" text-anchor="start" fill="#1a1a1a" font-family="'Liberation Sans', Arial, sans-serif"  stroke="#1a1a1a" stroke-width="0.18">PMMA temperature</text>
<text x="469" y="113" font-size="8.9" fill="#1a1a1a" stroke="#1a1a1a" stroke-width="0.18" font-family="'Liberation Sans', Arial, sans-serif">PMMA<tspan font-size="5.7" dx="2" dy="2.3">MPA</tspan><tspan dy="-2.3"> temperature</tspan></text>
<text x="469" y="126.2" font-size="8.9" fill="#1a1a1a" stroke="#1a1a1a" stroke-width="0.18" font-family="'Liberation Sans', Arial, sans-serif">PMMA<tspan font-size="5.7" dx="2" dy="2.3">NP</tspan><tspan dy="-2.3"> temperature</tspan></text>
<text x="469" y="139.2" font-size="8.9" fill="#1a1a1a" stroke="#1a1a1a" stroke-width="0.18" font-family="'Liberation Sans', Arial, sans-serif">PMMA<tspan font-size="5.7" dx="2" dy="2.3">HPA</tspan><tspan dy="-2.3"> temperature</tspan></text>
<text x="392.8" y="217.1" font-size="14.3" font-weight="bold" fill="#000" font-family="'Liberation Sans', Arial, sans-serif">e</text>
<rect x="630.7" y="226.2" width="40.2" height="113.4" fill="#ffffb4"/>
<polyline fill="none" stroke="#fb7f14" stroke-width="1.7" stroke-linejoin="round" stroke-linecap="round"  points="429.8,260.4 430.2,260.7 430.5,260.9 430.9,261.1 431.2,261.2 431.6,260.7 431.9,260.2 432.3,260.1 432.6,260.2 433,260.3 433.3,260.4 433.7,260.5 434,260.6 434.4,260.7 434.7,260.6 435.1,260.5 435.4,260.8 435.8,260.9 436.1,260.9 436.5,260.8 436.8,260.6 437.2,260.5 437.5,260.6 437.9,260.6 438.2,260.8 438.6,260.9 438.9,261 439.3,261.2 439.6,261.4 440,261.6 440.3,262.3 440.7,262.9 441,263.3 441.4,263.7 441.7,263.8 442.1,263.5 442.4,263 442.8,262.9 443.1,262.9 443.5,263.1 443.8,263.5 444.2,263.5 444.5,263.2 444.9,262.9 445.2,263 445.6,263.1 445.9,262.8 446.3,262.4 446.6,262.4 447,262.6 447.3,262.7 447.7,262.8 448,262.8 448.4,262.7 448.7,262.6 449.1,262.3 449.4,262 449.8,261.9 450.1,262.2 450.5,262.5 450.8,262.4 451.2,262.4 451.5,262.6 451.9,262.7 452.2,263 452.6,263.4 452.9,263.4 453.3,262.9 453.6,262.4 454,262.5 454.3,262.7 454.7,262.4 455,262 455.4,262 455.7,262.5 456.1,262.8 456.4,263.1 456.8,263.3 457.1,263.1 457.5,262.8 457.8,262.5 458.2,262.2 458.5,262.1 458.9,262.3 459.2,262.5 459.6,262.5 459.9,262.4 460.3,261.8 460.6,261.2 461,260.6 461.3,260.4 461.7,260.1 462,259.9 462.4,259.7 462.7,260.1 463.1,260.4 463.4,260.5 463.8,260.4 464.1,260.2 464.5,260 464.8,260 465.2,260.5 465.5,261 465.9,261.1 466.2,260.9 466.6,260.4 466.9,259.4 467.3,258.8 467.6,259.2 468,259.7 468.3,259.3 468.7,258.9 469,258.5 469.4,258.3 469.7,258.1 470.1,258 470.4,258 470.8,258.8 471.1,259.5 471.5,259.8 471.8,259.9 472.2,259.6 472.5,258.7 472.9,257.8 473.2,257.9 473.6,257.8 473.9,257.1 474.3,256.4 474.6,255.9 475,255.5 475.3,255.2 475.7,255 476,254.8 476.4,254.2 476.7,253.5 477.1,253.4 477.4,253.5 477.8,252.9 478.1,251.8 478.5,251 478.8,251.3 479.2,251.7 479.5,251.7 479.9,251.8 480.2,251.6 480.6,251.4 480.9,251.3 481.3,251.8 481.6,252.2 482,252.1 482.3,252.1 482.7,252.5 483,253 483.4,253.3 483.7,253.4 484.1,253.5 484.4,253.7 484.8,253.9 485.1,254.2 485.5,254.5 485.8,255.2 486.2,256.1 486.5,256.9 486.9,257.2 487.2,257.5 487.6,257.6 487.9,257.7 488.3,258 488.6,258.6 489,259 489.3,259.4 489.7,259.6 490,259.6 490.4,259.5 490.7,259.9 491.1,260.3 491.4,260.6 491.8,261 492.1,261.2 492.5,261.1 492.8,261.1 493.2,260.5 493.5,259.9 493.9,260.2 494.2,260.6 494.6,260.9 494.9,261 495.3,261.1 495.6,261.1 496,261 496.3,261.1 496.7,261.2 497,261.4 497.4,261.5 497.7,261.7 498.1,262.1 498.4,262.4 498.8,262.1 499.1,261.9 499.5,261.9 499.8,261.8 500.2,261.7 500.5,261.6 500.9,261.4 501.2,261.2 501.6,260.9 501.9,260.5 502.3,260.3 502.6,260 503,259.9 503.3,259.5 503.7,258.9 504,258.3 504.4,258.5 504.7,258.7 505.1,258.7 505.4,258.7 505.8,258.7 506.1,258.8 506.5,258.9 506.8,259.4 507.2,259.7 507.5,259.1 507.9,258.4 508.2,257.9 508.6,257.6 508.9,257.4 509.3,257.3 509.6,257.3 510,257.3 510.3,257.4 510.7,257.1 511,256.8 511.4,256.5 511.7,256.2 512.1,255.8 512.4,255.5 512.8,255.2 513.1,255.1 513.5,255.1 513.8,254.2 514.2,253 514.5,252.3 514.9,252.8 515.2,253.2 515.6,252.9 515.9,252.7 516.3,252.5 516.6,252.5 517,252.4 517.3,252.5 517.7,252.5 518,252 518.4,251.6 518.7,252 519.1,252.3 519.4,252.2 519.8,251.8 520.1,251.6 520.5,251.9 520.8,252 521.2,251.5 521.5,251.1 521.9,250.9 522.2,250.8 522.6,250.6 522.9,250.4 523.3,250.3 523.6,250.1 524,250 524.3,251 524.7,252 525,252.2 525.4,251.8 525.7,251.5 526.1,251.3 526.4,251.1 526.8,251.1 527.1,251.1 527.5,251.5 527.8,252.1 528.2,252.4 528.5,252.4 528.9,252.5 529.2,252.4 529.6,252.1 529.9,251.8 530.3,251.4 530.6,251.3 531,251.4 531.3,251.6 531.7,251.7 532,251.9 532.4,251.7 532.7,251.4 533.1,251.5 533.4,251.6 533.8,251.6 534.1,251.5 534.5,251.4 534.8,251.5 535.2,251.5 535.5,251.7 535.9,251.8 536.2,251.9 536.6,251.9 536.9,251.9 537.3,251.9 537.6,252 538,252.2 538.3,252.4 538.7,252.4 539,252.3 539.4,252.5 539.7,252.9 540.1,253.2 540.4,253.1 540.8,253 541.1,252.8 541.5,252.6 541.8,252.5 542.2,252.6 542.5,252.5 542.9,252.5 543.2,252.4 543.6,252.8 543.9,253.2 544.3,253.7 544.6,254.2 545,254 545.3,253.2 545.7,252.5 546,252.4 546.4,252.3 546.7,252.3 547.1,252.4 547.4,252.6 547.8,252.8 548.1,252.9 548.5,252.8 548.8,252.8 549.2,253.3 549.5,253.9 549.9,253.4 550.2,252.7 550.6,252.4 550.9,252.5 551.3,252.4 551.6,252 552,251.6 552.3,251.5 552.7,251.4 553,251.5 553.4,251.7 553.7,252 554.1,252.6 554.4,253.1 554.8,253.1 555.1,253 555.5,252.5 555.8,251.8 556.2,251.5 556.5,251.6 556.9,251.9 557.2,252.3 557.6,252.8 557.9,252.7 558.3,252.6 558.6,252.4 559,252.2 559.3,252.1 559.7,252.3 560,252.4 560.4,251.6 560.7,250.8 561.1,251.2 561.4,252 561.8,252.3 562.1,252.1 562.5,252 562.8,251.7 563.2,251.5 563.5,251.5 563.9,251.6 564.2,252.3 564.6,253.6 564.9,254.9 565.3,256 565.6,257 566,258.1 566.3,259.1 566.7,259.9 567,260.4 567.4,260.9 567.7,261.5 568.1,262.1 568.4,262.3 568.8,262.5 569.1,263.1 569.5,263.7 569.8,263.9 570.2,264.2 570.5,264.6 570.9,265.4 571.2,266.2 571.6,266.7 571.9,267.2 572.3,267.8 572.6,268.4 573,268.5 573.3,268.3 573.7,267.5 574,266.2 574.4,264.9 574.7,264.3 575.1,263.8 575.4,262.9 575.8,261.9 576.1,260.9 576.5,260.3 576.8,259.6 577.2,258.6 577.5,257.7 577.9,256.8 578.2,256.5 578.6,256.6 578.9,256.9 579.3,257.4 579.6,258.7 580,260.1 580.3,260.3 580.7,260.5 581,261.1 581.4,261.9 581.7,262.8 582.1,263.8 582.4,264.8 582.8,265.6 583.1,266.3 583.5,266.7 583.8,267 584.2,267.4 584.5,267.9 584.9,268.6 585.2,269.6 585.6,270.6 585.9,272 586.3,273.6 586.6,274.8 587,275.7 587.3,276.2 587.7,276 588,275.9 588.4,276.7 588.7,277.9 589.1,279.2 589.4,280.5 589.8,282.2 590.1,284.4 590.5,286.1 590.8,286.3 591.2,286.4 591.5,286.9 591.9,287.6 592.2,288.1 592.6,288.8 592.9,289.1 593.3,288.8 593.6,288.7 594,289.4 594.3,290.1 594.7,290 595,289.7 595.4,289.8 595.7,290.3 596.1,291.3 596.4,293.6 596.8,295.8 597.1,296.8 597.5,298.1 597.8,298.5 598.2,298.3 598.5,298.8 598.9,300.4 599.2,301.5 599.6,301.5 599.9,301.5 600.3,302 600.6,302.4 601,302 601.3,301 601.7,300.9 602,303.9 602.4,307.6 602.7,304.6 603.1,301.2 603.4,302.7 603.8,306.8 604.1,309 604.5,308.4 604.8,308.1 605.2,310.2 605.5,312.3 605.9,313.9 606.2,315.4 606.6,315.8 606.9,315.1 607.3,314.5 607.6,314.1 608,313.8 608.3,313.7 608.7,313.5 609,313.5 609.4,313.6 609.7,314 610.1,314.9 610.4,315.9 610.8,318.7 611.1,321.4 611.5,320 611.8,317.6 612.2,316.5 612.5,316.8 612.9,318 613.2,321.9 613.6,325.9 613.9,325.3 614.3,324.4 614.6,325.6 615,327.8 615.3,328.9 615.7,327.8 616,325.9 616.4,324.9 616.7,323.6 617.1,322.3 617.4,321 617.8,321.3 618.1,322.4 618.5,323.4 618.8,324.5 619.2,325.5 619.5,324.8 619.9,324 620.2,322.2 620.6,319.8 620.9,319.4 621.3,322.2 621.6,324.9 622,322.9 622.3,320.9 622.7,319.6 623,318.3 623.4,317.4 623.7,317.1 624.1,317.2 624.4,319.1 624.8,321.5 625.1,322.1 625.5,322.7 625.8,322.9 626.2,322.7 626.5,322.5 626.9,322.4 627.2,322.5 627.6,324.1 627.9,325 628.3,325.3 628.6,325.4 629,324.7 629.3,323.4 629.7,323.2 630,322.7 630.4,322.2 630.7,323.6 631.1,324.8 631.4,323.5 631.8,321.7 632.1,320.5 632.5,319.8 632.8,320 633.2,323.7 633.5,327.4 633.9,327.7 634.2,327.3 634.6,327.2 634.9,327.6 635.3,327.7 635.6,326.9 636,326.2 636.3,328.1 636.7,330.6 637,330 637.4,327.9 637.7,327.2 638.1,328.9 638.4,330.2 638.8,327.3 639.1,324.4 639.5,325.3 639.8,326.6 640.2,328 640.5,329.4 640.9,330.2 641.2,329.2 641.6,328.7 641.9,328.4 642.3,328.2 642.6,327 643,325.2 643.3,324.5 643.7,326.4 644,328.3 644.4,330 644.7,331.6 645.1,330.8 645.4,329.6 645.8,328.6 646.1,327.8 646.5,327.9 646.8,329.5 647.2,331 647.5,331.7 647.9,332.3 648.2,332.6 648.6,332.8 648.9,332.5 649.3,331.7 649.6,330.9 650,330.4 650.3,330.1 650.7,331.9 651,334.1 651.4,334.6 651.7,332.4 652.1,331.1 652.4,332.6 652.8,334 653.1,329.6 653.5,325.2 653.8,323.9 654.2,324.2 654.5,325.6 654.9,329 655.2,332.5 655.6,331 655.9,329.5 656.3,329 656.6,328.5 657,328.9 657.3,331 657.7,332.3 658,331.3 658.4,330.8 658.7,331.5 659.1,332.3 659.4,330.8 659.8,328.1 660.1,326.9 660.5,329 660.8,330.9 661.2,329.8 661.5,328.7 661.9,327 662.2,325 662.6,324.8 662.9,326.4 663.3,327.8 663.6,328.2 664,328.5 664.3,325.7 664.7,322.6 665,321.4 665.4,321.7 665.7,321.1 666.1,319.1 666.4,317.4 666.8,319.7 667.1,322.6 667.5,324.8 667.8,327 668.2,326.9 668.5,324 668.9,320.2 669.2,317.7 669.6,315.1 669.9,315.5 670.3,316.8 670.6,318 671,318.3 671.3,316.6 671.7,312.4 672,307.6 672.4,302.7 672.7,298.5 673.1,298.7 673.4,301.3 673.8,304.4 674.1,307.5 674.5,310.2 674.8,311.4 675.2,312.5 675.5,310.1 675.9,306.9 676.2,305.8 676.6,306.1 676.9,306.9 677.3,309.5 677.6,311.6 678,308.6 678.3,305.7 678.7,307.6 679,309.8 679.4,310 679.7,308.5 680.1,307.6 680.4,309 680.8,310.4 681.1,308.4 681.5,306.2 681.8,305.2 682.2,304.6 682.5,304.4 682.9,304.8 683.2,305 683.6,303.7 683.9,302.6 684.3,299.4 684.6,295.8 685,296.2 685.3,300.4 685.7,302.5 686,299.5 686.4,296.7 686.7,295.7 687.1,294.8 687.4,293.9 687.8,292.8 688.1,291.7 688.5,290.5 688.8,289.4 689.2,288.8 689.5,288.3 689.9,287.7 690.2,287 690.6,286.3 690.9,285.1 691.3,283.9 691.6,282.8 692,281.7 692.3,282.6 692.7,284.1 693,283.4 693.4,281.7 693.7,280.7 694.1,280.5 694.4,280.1 694.8,279.5 695.1,279.1 695.5,277.4 695.8,275.5 696.2,274.6 696.5,274.5 696.9,274.1 697.2,273.4 697.6,272.8 697.9,272.5 698.3,272.2 698.6,271.9 699,271.7 699.3,271.2 699.7,270.4 700,269.6 700.4,268.3 700.7,267.1 701.1,266.5 701.4,266.1 701.8,265.5 702.1,264.6 702.5,264.1 702.8,264.7 703.2,265.4 703.5,264.6 703.9,264.1 704.2,264.6 704.6,265.5 704.9,266.3 705.3,267 705.6,267.6 706,267.8 706.3,267.6 706.7,266.6 707,265.4 707.4,264.6 707.7,264 708.1,263.5 708.4,262.9 708.8,262.2 709.1,261.7 709.5,260.9 709.8,260.4 710.2,260.3 710.5,260 710.9,259.4 711.2,259 711.6,258.2 711.9,257.4 712.3,257.2 712.6,257.1 713,257.2 713.3,257.1 713.7,257 714,257.3 714.4,257.4 714.7,257.7 715.1,258.1 715.4,257.5 715.8,256.4 716.1,255.8 716.5,255.8 716.8,255.9 717.2,256.9 717.5,257.9 717.9,258.1 718.2,258.1 718.6,257.7 718.9,257.1 719.3,256.7 719.6,257.3 720,258 720.3,257.4 720.7,256.8 721,256.8 721.4,257.2 721.7,257.3 722.1,257.2 722.4,257.1 722.8,258 723.1,259 723.5,258.9 723.8,258.5 724.2,258.6 724.5,259.1 724.9,259.3 725.2,259.5 725.6,259.6 725.9,259.2 726.3,258.7 726.6,258.7 727,258.8 727.3,259 727.7,259.3 728,259.6 728.4,259.6 728.7,259.6 729.1,259.2 729.4,258.6 729.8,258.7 730.1,259.5 730.5,260 730.8,259.6 731.2,259.2 731.5,259.2 731.9,259.3 732.2,259.2 732.6,259.1 732.9,258.9 733.3,258.7 733.6,258.4 734,258.3 734.3,258.2 734.7,258.1 735,258.1 735.4,258.2 735.7,258.3 736.1,258.3 736.4,257.7 736.8,257 737.1,257.6 737.5,258.3 737.8,258.2 738.2,257.6 738.5,257.3 738.9,257.5 739.2,257.6 739.6,257.1 739.9,256.7 740.3,256.6 740.6,256.6 741,256.8 741.3,257 741.7,257.2 742,256.7 742.4,256.4 742.7,256.8 743.1,257.3 743.4,257.5 743.8,257.7 744.1,257.9 744.5,258.4 744.8,258.8 745.2,259.2 745.5,259.4 745.9,259.5 746.2,259.3 746.6,259.2 746.9,258.9 747.3,258.6 747.6,258.2 748,257.7 748.3,257.7 748.7,257.6 749,257.2 749.4,256.7 749.7,256.4 750.1,256.4 750.4,256.3 750.8,255.6 751.1,255.1"/>
<polyline fill="none" stroke="#14d28c" stroke-width="1.7" stroke-linejoin="round" stroke-linecap="round"  points="429.8,255.7 430.2,255.8 430.5,256.3 430.9,256.6 431.2,256.7 431.6,256.8 431.9,256.6 432.3,256.3 432.6,256.4 433,256.6 433.3,256.7 433.7,256.9 434,256.8 434.4,256.3 434.7,255.8 435.1,256.4 435.4,257 435.8,256.9 436.1,256.3 436.5,256.2 436.8,256.7 437.2,257.1 437.5,257.2 437.9,257.4 438.2,257.2 438.6,257.1 438.9,257.2 439.3,257.3 439.6,257.5 440,258 440.3,258.4 440.7,258.7 441,258.9 441.4,258.9 441.7,258.7 442.1,258.6 442.4,258.7 442.8,258.8 443.1,259 443.5,259.1 443.8,259.3 444.2,259.4 444.5,259.3 444.9,258.9 445.2,258.6 445.6,258.7 445.9,258.8 446.3,258.7 446.6,258.5 447,258.4 447.3,258.5 447.7,258.6 448,258.8 448.4,259 448.7,258.7 449.1,258.3 449.4,258.5 449.8,258.9 450.1,259.1 450.5,259.2 450.8,259.2 451.2,259.1 451.5,258.9 451.9,258.5 452.2,258.2 452.6,258.1 452.9,258.1 453.3,258.3 453.6,258.7 454,259 454.3,259 454.7,259 455,258.9 455.4,258.8 455.7,258.5 456.1,257.9 456.4,257.7 456.8,258.1 457.1,258.6 457.5,258.7 457.8,258.8 458.2,258.9 458.5,258.8 458.9,258.8 459.2,258.8 459.6,258.6 459.9,258.8 460.3,258.9 460.6,258.4 461,257.8 461.3,257.3 461.7,257 462,256.7 462.4,256.6 462.7,256.7 463.1,256.2 463.4,255.7 463.8,255.6 464.1,256 464.5,256.3 464.8,256.8 465.2,257.1 465.5,256.7 465.9,256.1 466.2,256.2 466.6,256.4 466.9,256.3 467.3,255.9 467.6,255.7 468,255.8 468.3,255.9 468.7,255.5 469,255.2 469.4,254.7 469.7,254.3 470.1,254.1 470.4,254.2 470.8,254.4 471.1,254.9 471.5,255.5 471.8,255.5 472.2,255.4 472.5,255.2 472.9,254.7 473.2,253.9 473.6,253.1 473.9,252.4 474.3,251.6 474.6,250.9 475,250.3 475.3,249.9 475.7,249.7 476,249.6 476.4,249.4 476.7,249 477.1,248.5 477.4,248.8 477.8,249.3 478.1,249.2 478.5,248.7 478.8,248.4 479.2,248.3 479.5,248.3 479.9,248 480.2,247.6 480.6,247.7 480.9,248.1 481.3,248.4 481.6,248.4 482,248.3 482.3,248.2 482.7,248.1 483,248.5 483.4,249 483.7,249.6 484.1,250 484.4,250.3 484.8,250.8 485.1,251.2 485.5,251 485.8,250.9 486.2,251.4 486.5,252.2 486.9,253 487.2,253.8 487.6,254.6 487.9,254.6 488.3,254.6 488.6,254.8 489,255.1 489.3,255.4 489.7,255.9 490,256.1 490.4,255.9 490.7,255.7 491.1,256 491.4,256.2 491.8,256.5 492.1,256.8 492.5,256.9 492.8,256.5 493.2,256.3 493.5,256.9 493.9,257.5 494.2,257.4 494.6,257 494.9,257 495.3,257.1 495.6,257.3 496,257.5 496.3,257.7 496.7,257.4 497,257 497.4,257.3 497.7,257.8 498.1,258.2 498.4,258.2 498.8,258.1 499.1,257.9 499.5,257.7 499.8,257.6 500.2,257.3 500.5,257.1 500.9,257.2 501.2,257.1 501.6,256.5 501.9,256 502.3,256.1 502.6,256.4 503,256.4 503.3,256.3 503.7,256 504,255.3 504.4,254.7 504.7,254.4 505.1,254.3 505.4,254.8 505.8,255.5 506.1,255.7 506.5,255.3 506.8,255 507.2,255.1 507.5,255.1 507.9,254.3 508.2,253.6 508.6,253.5 508.9,253.6 509.3,253.8 509.6,254 510,254 510.3,253.8 510.7,253.5 511,253.4 511.4,253.4 511.7,253.2 512.1,252.6 512.4,251.9 512.8,250.9 513.1,249.9 513.5,250.2 513.8,250.5 514.2,250.2 514.5,249.7 514.9,249.2 515.2,248.9 515.6,248.7 515.9,248.6 516.3,248.4 516.6,248.6 517,248.8 517.3,248.6 517.7,248.1 518,247.8 518.4,247.6 518.7,247.4 519.1,247.1 519.4,246.8 519.8,246.6 520.1,246.4 520.5,246.6 520.8,247.1 521.2,247.6 521.5,247.2 521.9,246.8 522.2,247 522.6,247.2 522.9,247.4 523.3,247.4 523.6,247.5 524,247.5 524.3,247.5 524.7,247.4 525,247.3 525.4,247.2 525.7,247.2 526.1,247.1 526.4,247.1 526.8,247 527.1,246.8 527.5,246.5 527.8,246.9 528.2,247.4 528.5,247.9 528.9,248.3 529.2,248.4 529.6,247.9 529.9,247.3 530.3,247.6 530.6,247.7 531,248.2 531.3,248.7 531.7,249.1 532,249.1 532.4,249.1 532.7,248.6 533.1,248.2 533.4,247.9 533.8,247.9 534.1,248.2 534.5,248.8 534.8,249.2 535.2,248.9 535.5,248.4 535.9,248 536.2,247.6 536.6,247.6 536.9,248 537.3,248.2 537.6,248.1 538,248.1 538.3,248.2 538.7,248.4 539,248.6 539.4,248.9 539.7,248.8 540.1,248.5 540.4,248.4 540.8,248.9 541.1,249.5 541.5,249.2 541.8,248.9 542.2,248.7 542.5,248.6 542.9,248.5 543.2,248.3 543.6,248.1 543.9,248.4 544.3,248.6 544.6,248.8 545,248.9 545.3,248.7 545.7,248.1 546,247.7 546.4,247.7 546.7,247.7 547.1,248 547.4,248.5 547.8,248.8 548.1,248.9 548.5,248.9 548.8,248.6 549.2,248.2 549.5,247.9 549.9,247.7 550.2,247.9 550.6,248.2 550.9,248.3 551.3,248.3 551.6,248.2 552,248.1 552.3,248.1 552.7,248.4 553,248.8 553.4,248.9 553.7,248.8 554.1,248.7 554.4,248.5 554.8,248.3 555.1,248.3 555.5,248.4 555.8,248.5 556.2,248.7 556.5,248.8 556.9,248.8 557.2,248.7 557.6,248.6 557.9,248.4 558.3,248.7 558.6,249 559,248.9 559.3,248.6 559.7,248.4 560,248 560.4,247.7 560.7,248.1 561.1,248.4 561.4,248.2 561.8,247.9 562.1,247.8 562.5,248.1 562.8,248.3 563.2,247.9 563.5,247.5 563.9,247.7 564.2,248.1 564.6,249 564.9,250.1 565.3,251 565.6,251.4 566,252 566.3,253.2 566.7,254.2 567,255 567.4,255.5 567.7,256.1 568.1,256.8 568.4,257.4 568.8,257.4 569.1,257.4 569.5,258.2 569.8,259 570.2,259.8 570.5,260.6 570.9,261.1 571.2,261.1 571.6,261.1 571.9,262.2 572.3,263.3 572.6,263.2 573,262.6 573.3,262.2 573.7,262.1 574,261.7 574.4,260.5 574.7,259.2 575.1,257.9 575.4,256.7 575.8,255.6 576.1,254.7 576.5,254.2 576.8,253.8 577.2,253.4 577.5,252.8 577.9,252 578.2,251.1 578.6,250.4 578.9,250.3 579.3,250.8 579.6,251.5 580,252.7 580.3,253.9 580.7,254.7 581,255.6 581.4,256.2 581.7,256.7 582.1,257.2 582.4,257.5 582.8,258 583.1,259.3 583.5,260.7 583.8,261.5 584.2,262.3 584.5,263.2 584.9,263.9 585.2,264.5 585.6,264.9 585.9,265.1 586.3,265.2 586.6,265.3 587,266.3 587.3,267.8 587.7,269.6 588,271.6 588.4,273.2 588.7,272.3 589.1,271.2 589.4,271.2 589.8,271.8 590.1,273.2 590.5,275.4 590.8,277.2 591.2,278 591.5,278.7 591.9,278 592.2,277.1 592.6,277.4 592.9,278.3 593.3,279.4 593.6,280.3 594,281.1 594.3,280.4 594.7,279.8 595,281.4 595.4,283.6 595.7,285.4 596.1,286.7 596.4,287.9 596.8,289.4 597.1,290.8 597.5,292.6 597.8,294.2 598.2,295.5 598.5,296.4 598.9,296.1 599.2,293.9 599.6,292 599.9,293.2 600.3,294.5 600.6,296.7 601,299.1 601.3,300 601.7,298.9 602,298 602.4,299.2 602.7,300.3 603.1,300.1 603.4,300.9 603.8,301.1 604.1,300.7 604.5,301.5 604.8,304.2 605.2,305.9 605.5,308 605.9,310 606.2,309.1 606.6,307.5 606.9,307.8 607.3,309.4 607.6,310.2 608,308.7 608.3,307.2 608.7,308.6 609,310.1 609.4,310.4 609.7,310.2 610.1,310.2 610.4,310.6 610.8,311.1 611.1,311.7 611.5,312.4 611.8,314 612.2,315.6 612.5,314.7 612.9,311.7 613.2,310.2 613.6,313.4 613.9,316.6 614.3,317.1 614.6,317.4 615,319.1 615.3,321.7 615.7,322.1 616,318.9 616.4,316.2 616.7,319.2 617.1,321.7 617.4,320.5 617.8,318.5 618.1,317.4 618.5,317.2 618.8,315.9 619.2,311.9 619.5,307.9 619.9,305.1 620.2,302.4 620.6,303.5 620.9,306.6 621.3,307.8 621.6,306 622,304.6 622.3,305.2 622.7,306 623,308.5 623.4,311.5 623.7,311.8 624.1,309.5 624.4,308.4 624.8,310.8 625.1,313.2 625.5,315.9 625.8,318.2 626.2,316.3 626.5,312.5 626.9,310 627.2,310.6 627.6,311.9 627.9,315.6 628.3,319.4 628.6,317.9 629,314.3 629.3,312.8 629.7,313.2 630,312.9 630.4,310.2 630.7,308.1 631.1,309 631.4,310.2 631.8,312.4 632.1,315.2 632.5,317 632.8,318.2 633.2,319.3 633.5,319.6 633.9,319.9 634.2,316.3 634.6,312 634.9,312.1 635.3,315.9 635.6,318.8 636,318.1 636.3,317.2 636.7,317.4 637,317.6 637.4,316.2 637.7,314.2 638.1,314.5 638.4,318.4 638.8,322.3 639.1,325.1 639.5,327.5 639.8,325.3 640.2,322.1 640.5,320.1 640.9,319.5 641.2,318.5 641.6,315.7 641.9,313 642.3,316.3 642.6,320.5 643,321.8 643.3,321.7 643.7,322 644,322.7 644.4,323.6 644.7,327.1 645.1,330.6 645.4,329.9 645.8,327.8 646.1,324.9 646.5,322.1 646.8,320.3 647.2,322 647.5,324.7 647.9,325 648.2,325.3 648.6,325.1 648.9,324.7 649.3,325.1 649.6,326.9 650,328.4 650.3,326.9 650.7,325.2 651,326.9 651.4,329.4 651.7,330.3 652.1,329.8 652.4,329.3 652.8,328.5 653.1,327.7 653.5,327.3 653.8,326.8 654.2,327.2 654.5,327.4 654.9,328 655.2,329.1 655.6,329.9 655.9,327 656.3,323.5 656.6,323.6 657,324.6 657.3,323.2 657.7,320.4 658,319.2 658.4,318 658.7,316.9 659.1,320.1 659.4,322.8 659.8,322.4 660.1,321.1 660.5,319.6 660.8,318.1 661.2,316.9 661.5,316.2 661.9,315.6 662.2,313.1 662.6,310.3 662.9,310.6 663.3,313.4 663.6,314.9 664,312.8 664.3,310.5 664.7,307.7 665,304.8 665.4,304.3 665.7,305 666.1,307.1 666.4,310.8 666.8,314.2 667.1,313.6 667.5,313 667.8,311.8 668.2,310.9 668.5,308.9 668.9,306.2 669.2,304.6 669.6,306.7 669.9,308.4 670.3,307.5 670.6,306.5 671,305.2 671.3,303.6 671.7,301.2 672,297.8 672.4,294.6 672.7,292.7 673.1,291.7 673.4,294.7 673.8,299.1 674.1,301.1 674.5,300.9 674.8,301.2 675.2,301.3 675.5,300.9 675.9,300.4 676.2,299.4 676.6,300.2 676.9,302 677.3,302.5 677.6,301.1 678,299.7 678.3,298.4 678.7,297.1 679,297.1 679.4,297.3 679.7,295.6 680.1,292.2 680.4,289.8 680.8,289.8 681.1,289.6 681.5,288.3 681.8,287.4 682.2,288.2 682.5,289.7 682.9,290.3 683.2,289.6 683.6,288.7 683.9,286.3 684.3,283.9 684.6,286.2 685,289.4 685.3,291 685.7,291 686,290.5 686.4,288.3 686.7,285.6 687.1,283.2 687.4,280.9 687.8,280.2 688.1,280.2 688.5,280.7 688.8,281.3 689.2,281.9 689.5,282 689.9,282 690.2,280.4 690.6,278.7 690.9,277.9 691.3,277.9 691.6,277.7 692,277.4 692.3,276.9 692.7,275 693,273.2 693.4,273.9 693.7,275.6 694.1,275.9 694.4,274.3 694.8,272.7 695.1,270.9 695.5,269 695.8,269.2 696.2,269.7 696.5,269.2 696.9,268 697.2,267 697.6,266.4 697.9,265.8 698.3,265.6 698.6,265.5 699,264.8 699.3,264 699.7,263.3 700,262.8 700.4,262.3 700.7,261.9 701.1,261.6 701.4,261.2 701.8,260.7 702.1,260.1 702.5,259.5 702.8,258.9 703.2,258.1 703.5,257.8 703.9,258 704.2,258.5 704.6,259.3 704.9,260.2 705.3,260.7 705.6,260.6 706,260.1 706.3,260.7 706.7,260.8 707,260.1 707.4,259.1 707.7,258.6 708.1,258.5 708.4,258.4 708.8,258.5 709.1,258.5 709.5,257.7 709.8,256.9 710.2,256.6 710.5,256.6 710.9,256.2 711.2,255.2 711.6,254.3 711.9,253.9 712.3,253.7 712.6,253.9 713,254.2 713.3,254.4 713.7,254.5 714,254.4 714.4,254.2 714.7,254 715.1,253.4 715.4,253 715.8,252.9 716.1,252.9 716.5,252.9 716.8,252.8 717.2,252.7 717.5,253.4 717.9,254.1 718.2,253.4 718.6,252.3 718.9,252.5 719.3,253.8 719.6,254.7 720,254.4 720.3,254.2 720.7,254.2 721,254.2 721.4,253.9 721.7,253.5 722.1,253.2 722.4,253.3 722.8,253.5 723.1,253.6 723.5,253.8 723.8,253.8 724.2,253.7 724.5,253.7 724.9,253.7 725.2,253.7 725.6,253.9 725.9,254 726.3,254.2 726.6,254.4 727,254.7 727.3,255.2 727.7,255.3 728,254.9 728.4,254.5 728.7,254.6 729.1,254.6 729.4,255.1 729.8,255.6 730.1,255.8 730.5,255.7 730.8,255.6 731.2,255.4 731.5,255.2 731.9,255.3 732.2,255.5 732.6,255.4 732.9,255.3 733.3,255.2 733.6,255.2 734,255.1 734.3,254.4 734.7,253.6 735,253.5 735.4,253.6 735.7,253.6 736.1,253.4 736.4,253.3 736.8,253.4 737.1,253.5 737.5,253.3 737.8,253.3 738.2,253.5 738.5,253.9 738.9,253.9 739.2,253.3 739.6,252.7 739.9,252.6 740.3,252.6 740.6,252.5 741,252.4 741.3,252.4 741.7,252.5 742,252.8 742.4,253.3 742.7,253.8 743.1,253.7 743.4,253.6 743.8,253.8 744.1,254 744.5,254.3 744.8,254.7 745.2,255 745.5,255 745.9,254.8 746.2,254.6 746.6,254.4 746.9,254.1 747.3,253.9 747.6,253.6 748,253.1 748.3,252.8 748.7,252.7 749,252.7 749.4,252.6 749.7,252.3 750.1,251.9 750.4,251.2 750.8,250.6 751.1,250.4"/>
<polyline fill="none" stroke="#ff3db4" stroke-width="1.7" stroke-linejoin="round" stroke-linecap="round"  points="429.8,249 430.2,249.2 430.5,249.5 430.9,250 431.2,250.4 431.6,250.4 431.9,250.2 432.3,250.3 432.6,250.4 433,250.5 433.3,250.5 433.7,250.5 434,250.5 434.4,250.5 434.7,250.4 435.1,250.3 435.4,250.2 435.8,250.1 436.1,250 436.5,250.1 436.8,250.2 437.2,250.2 437.5,250.1 437.9,250.2 438.2,250.5 438.6,250.6 438.9,250.4 439.3,250.3 439.6,250.9 440,251.5 440.3,252 440.7,252.6 441,252.7 441.4,252.5 441.7,252.5 442.1,252.7 442.4,253 442.8,252.6 443.1,252.2 443.5,252.3 443.8,252.4 444.2,252.4 444.5,252.4 444.9,252.3 445.2,252.3 445.6,252.4 445.9,252.3 446.3,252.1 446.6,252.1 447,252.2 447.3,252.3 447.7,252.5 448,252.7 448.4,252.3 448.7,251.8 449.1,251.7 449.4,251.6 449.8,251.7 450.1,252 450.5,252.2 450.8,252.1 451.2,252 451.5,252.1 451.9,252.2 452.2,252.2 452.6,252.1 452.9,252 453.3,252 453.6,252 454,252.3 454.3,252.6 454.7,252.8 455,252.9 455.4,252.8 455.7,252.3 456.1,252 456.4,252.2 456.8,252.4 457.1,252.4 457.5,252.3 457.8,252.5 458.2,252.8 458.5,253 458.9,253 459.2,252.9 459.6,252.5 459.9,251.9 460.3,251.4 460.6,251 461,250.7 461.3,250.6 461.7,250.3 462,249.7 462.4,249.1 462.7,249.1 463.1,249.3 463.4,249.3 463.8,249.1 464.1,249 464.5,249.1 464.8,249.2 465.2,249.4 465.5,249.7 465.9,249.9 466.2,250 466.6,249.7 466.9,248.9 467.3,248.2 467.6,248.3 468,248.4 468.3,248.1 468.7,247.8 469,247.7 469.4,247.9 469.7,248.1 470.1,248.1 470.4,248.1 470.8,247.9 471.1,247.8 471.5,248 471.8,248.2 472.2,248.5 472.5,248.6 472.9,248.5 473.2,248 473.6,247.4 473.9,246.9 474.3,246.5 474.6,245.8 475,245 475.3,244.4 475.7,244.1 476,243.9 476.4,243.4 476.7,242.9 477.1,242.7 477.4,242.6 477.8,242.3 478.1,241.7 478.5,241.2 478.8,241.2 479.2,241.3 479.5,241.5 479.9,241.7 480.2,241.7 480.6,241.5 480.9,241.5 481.3,242 481.6,242.5 482,242.1 482.3,241.8 482.7,241.9 483,242.4 483.4,242.9 483.7,243.2 484.1,243.6 484.4,243.6 484.8,243.7 485.1,244 485.5,244.4 485.8,244.7 486.2,244.8 486.5,245.1 486.9,245.9 487.2,246.6 487.6,247.1 487.9,247.6 488.3,247.9 488.6,248.1 489,248.3 489.3,248.4 489.7,248.5 490,249 490.4,249.4 490.7,249.4 491.1,249.3 491.4,249.3 491.8,249.5 492.1,249.7 492.5,249.7 492.8,249.8 493.2,249.8 493.5,249.8 493.9,249.8 494.2,249.9 494.6,250.2 494.9,250.8 495.3,251.4 495.6,251.3 496,251.1 496.3,250.8 496.7,250.3 497,250.2 497.4,250.3 497.7,250.5 498.1,250.7 498.4,251 498.8,251.5 499.1,251.9 499.5,251.8 499.8,251.4 500.2,251.3 500.5,251.7 500.9,251.9 501.2,251.6 501.6,251.2 501.9,250.8 502.3,250.4 502.6,250 503,249.6 503.3,249.3 503.7,249.1 504,248.9 504.4,248.7 504.7,248.7 505.1,248.7 505.4,248.8 505.8,249 506.1,249.3 506.5,249.5 506.8,249.3 507.2,248.9 507.5,248.1 507.9,247.3 508.2,246.7 508.6,246.4 508.9,246.2 509.3,246.5 509.6,246.8 510,246.6 510.3,246.4 510.7,246.4 511,246.5 511.4,246.6 511.7,246.6 512.1,246.4 512.4,246.1 512.8,245.8 513.1,245.6 513.5,245.5 513.8,245.2 514.2,244.9 514.5,244.4 514.9,244 515.2,243.6 515.6,243.3 515.9,243 516.3,242.5 516.6,242 517,241.8 517.3,241.8 517.7,241.8 518,241.8 518.4,241.9 518.7,241.6 519.1,241.3 519.4,241.3 519.8,241.5 520.1,241.7 520.5,242 520.8,242.2 521.2,241.9 521.5,241.7 521.9,241.3 522.2,241 522.6,240.8 522.9,240.8 523.3,240.7 523.6,240.5 524,240.4 524.3,240.8 524.7,241.2 525,241.2 525.4,240.9 525.7,240.6 526.1,240.7 526.4,240.8 526.8,241.1 527.1,241.3 527.5,241.5 527.8,241.7 528.2,241.7 528.5,241.4 528.9,241.1 529.2,240.9 529.6,240.6 529.9,241.4 530.3,242.3 530.6,242.3 531,241.5 531.3,241 531.7,241.2 532,241.5 532.4,242.1 532.7,242.7 533.1,242.6 533.4,242.1 533.8,241.9 534.1,242 534.5,242.1 534.8,242.3 535.2,242.5 535.5,242.3 535.9,241.9 536.2,241.8 536.6,241.9 536.9,241.9 537.3,241.6 537.6,241.5 538,241.9 538.3,242.3 538.7,242.2 539,241.9 539.4,241.7 539.7,241.4 540.1,241.3 540.4,241.7 540.8,242.1 541.1,241.9 541.5,241.6 541.8,241.4 542.2,241.5 542.5,241.7 542.9,242.2 543.2,242.8 543.6,242.5 543.9,242.2 544.3,242.2 544.6,242.3 545,242.4 545.3,242.4 545.7,242.5 546,242.2 546.4,241.9 546.7,242 547.1,242 547.4,242.1 547.8,242.2 548.1,242.2 548.5,241.9 548.8,241.5 549.2,241.8 549.5,242 549.9,242.3 550.2,242.5 550.6,242.6 550.9,242.5 551.3,242.3 551.6,242.1 552,241.8 552.3,241.6 552.7,241.4 553,241.4 553.4,241.5 553.7,241.7 554.1,242.2 554.4,242.7 554.8,242.3 555.1,242 555.5,242.1 555.8,242.5 556.2,242.6 556.5,242.5 556.9,242.3 557.2,242 557.6,241.8 557.9,241.5 558.3,241.3 558.6,241 559,240.7 559.3,240.6 559.7,240.6 560,240.7 560.4,241.8 560.7,242.9 561.1,242.9 561.4,242.4 561.8,241.8 562.1,241.3 562.5,240.8 562.8,240.7 563.2,240.8 563.5,241.1 563.9,241.6 564.2,242.3 564.6,243.1 564.9,243.9 565.3,244.2 565.6,244.5 566,245.1 566.3,245.8 566.7,246.9 567,248.2 567.4,248.7 567.7,248.2 568.1,247.9 568.4,249.4 568.8,250.9 569.1,251.5 569.5,252 569.8,251.9 570.2,251.3 570.5,251 570.9,251.5 571.2,251.9 571.6,252.5 571.9,253.1 572.3,253.3 572.6,253.2 573,253 573.3,252.9 573.7,252.5 574,251.8 574.4,251.2 574.7,250.5 575.1,249.8 575.4,249 575.8,248 576.1,247.1 576.5,246.7 576.8,246.2 577.2,245.1 577.5,243.9 577.9,243.3 578.2,242.9 578.6,242.1 578.9,240.8 579.3,240 579.6,240.1 580,240.4 580.3,240.7 580.7,241.1 581,241.6 581.4,242.2 581.7,242.7 582.1,243 582.4,243.3 582.8,243.5 583.1,243.7 583.5,243.9 583.8,244.1 584.2,244.4 584.5,245 584.9,245.5 585.2,246.1 585.6,246.7 585.9,247.6 586.3,248.6 586.6,249.2 587,249.1 587.3,249.6 587.7,251.6 588,253.6 588.4,253 588.7,252.3 589.1,252 589.4,251.8 589.8,252.2 590.1,253.3 590.5,254.3 590.8,254.7 591.2,255 591.5,256 591.9,257.6 592.2,259.7 592.6,262.3 592.9,264.2 593.3,264.2 593.6,263.5 594,263 594.3,262.5 594.7,264.3 595,267.2 595.4,268 595.7,265.8 596.1,263.8 596.4,264 596.8,264.6 597.1,265 597.5,265.2 597.8,265.6 598.2,266 598.5,266.7 598.9,269.1 599.2,271.5 599.6,267.7 599.9,263.7 600.3,264.4 600.6,266.9 601,268.5 601.3,268.8 601.7,269 602,268.1 602.4,267.2 602.7,267.5 603.1,267.9 603.4,268.1 603.8,267.7 604.1,267.8 604.5,269.3 604.8,270.8 605.2,267.8 605.5,265.3 605.9,265.2 606.2,266.2 606.6,266.8 606.9,267.1 607.3,267.3 607.6,265.5 608,263.6 608.3,264.8 608.7,265.9 609,266.7 609.4,267.7 609.7,268.6 610.1,269.3 610.4,270.7 610.8,265.7 611.1,260.7 611.5,261.9 611.8,265.6 612.2,267.4 612.5,266.7 612.9,266.5 613.2,269 613.6,271.5 613.9,270.3 614.3,268.5 614.6,266.9 615,265.3 615.3,263.9 615.7,263.8 616,263.5 616.4,266.6 616.7,269.7 617.1,270.6 617.4,270.3 617.8,269.9 618.1,269.2 618.5,268.7 618.8,269.2 619.2,269.7 619.5,270.3 619.9,270.9 620.2,270.7 620.6,270 620.9,270.1 621.3,272 621.6,274 622,273.9 622.3,273.6 622.7,273.4 623,273.3 623.4,271.3 623.7,266.8 624.1,263.8 624.4,267 624.8,270.3 625.1,269.4 625.5,267.7 625.8,268.6 626.2,271.6 626.5,274 626.9,274.6 627.2,275.1 627.6,274.2 627.9,273.2 628.3,273.3 628.6,273.8 629,273.5 629.3,271.9 629.7,269.7 630,263.8 630.4,257.8 630.7,260.7 631.1,265.6 631.4,267.9 631.8,268.2 632.1,269.1 632.5,270.6 632.8,272 633.2,271.5 633.5,271 633.9,270.7 634.2,270.4 634.6,270.3 634.9,270.4 635.3,270.4 635.6,269.1 636,267.6 636.3,268.2 636.7,269.2 637,268.7 637.4,267.1 637.7,266.8 638.1,268.8 638.4,270.8 638.8,268.6 639.1,266.4 639.5,268.1 639.8,271.4 640.2,272.1 640.5,269.5 640.9,267.1 641.2,266.8 641.6,266.6 641.9,266.7 642.3,266.8 642.6,267.2 643,267.6 643.3,267.6 643.7,266.8 644,266 644.4,268 644.7,270.2 645.1,270.8 645.4,270.7 645.8,270.8 646.1,271 646.5,270.9 646.8,269.2 647.2,267.5 647.5,266.8 647.9,266.3 648.2,266.2 648.6,266.5 648.9,266.6 649.3,266.1 649.6,265.9 650,270.4 650.3,274.8 650.7,273.3 651,269.3 651.4,267.2 651.7,268.1 652.1,268.8 652.4,268.3 652.8,267.8 653.1,269.1 653.5,270.6 653.8,270.8 654.2,270 654.5,269.4 654.9,269.8 655.2,270.2 655.6,268.4 655.9,266.7 656.3,266.1 656.6,266.2 657,267.2 657.3,269.5 657.7,271.7 658,272.9 658.4,273.8 658.7,273.5 659.1,273 659.4,272.3 659.8,270.9 660.1,270.3 660.5,272.5 660.8,274.8 661.2,271.4 661.5,269.2 661.9,269.7 662.2,271.3 662.6,271.3 662.9,269.3 663.3,267.9 663.6,269.7 664,271.6 664.3,269.7 664.7,267 665,266.5 665.4,268 665.7,268.8 666.1,267.8 666.4,266.3 666.8,265.3 667.1,264.3 667.5,264.2 667.8,264.5 668.2,264.9 668.5,265.1 668.9,265.6 669.2,268.3 669.6,271 669.9,269 670.3,266 670.6,265 671,265.4 671.3,266.2 671.7,268.1 672,270 672.4,268.1 672.7,266.2 673.1,264.5 673.4,262.9 673.8,262.9 674.1,264.7 674.5,266.2 674.8,266.7 675.2,267.4 675.5,265.6 675.9,263.4 676.2,262.2 676.6,261.4 676.9,261.3 677.3,263.9 677.6,267 678,265.6 678.3,264.3 678.7,265.4 679,267.4 679.4,267.7 679.7,265.5 680.1,263.3 680.4,261.6 680.8,260 681.1,260 681.5,260.3 681.8,262.1 682.2,264.9 682.5,266.7 682.9,266 683.2,265.3 683.6,264.8 683.9,264.3 684.3,264.4 684.6,264.6 685,265.1 685.3,265.9 685.7,266.4 686,265.7 686.4,265.1 686.7,264.6 687.1,264.5 687.4,263.1 687.8,260.9 688.1,259.6 688.5,260.9 688.8,261.8 689.2,262.4 689.5,263 689.9,262.2 690.2,260.7 690.6,259.6 690.9,259 691.3,258.5 691.6,258.9 692,259.3 692.3,257.8 692.7,255.9 693,256.4 693.4,258.7 693.7,259.9 694.1,258.4 694.4,256.9 694.8,255.6 695.1,254.4 695.5,254.4 695.8,255.1 696.2,254.8 696.5,253.5 696.9,252.5 697.2,252.9 697.6,253.3 697.9,253.1 698.3,252.7 698.6,252.4 699,252.1 699.3,252.1 699.7,252.9 700,253.6 700.4,252.6 700.7,251.1 701.1,250.9 701.4,251 701.8,250.6 702.1,249.6 702.5,249 702.8,249.1 703.2,249.2 703.5,249.7 703.9,250.4 704.2,250.9 704.6,251.3 704.9,251.8 705.3,252.5 705.6,253.2 706,253.3 706.3,253.1 706.7,252.5 707,252 707.4,251.6 707.7,251.4 708.1,251.2 708.4,250.9 708.8,250.5 709.1,249.9 709.5,249.2 709.8,248.6 710.2,248.2 710.5,247.9 710.9,247.5 711.2,247.1 711.6,247.8 711.9,248.5 712.3,248.5 712.6,248.2 713,247.8 713.3,247.6 713.7,247.4 714,247.9 714.4,248.5 714.7,248.5 715.1,248.4 715.4,248.4 715.8,248.4 716.1,248.3 716.5,248.2 716.8,248 717.2,248.5 717.5,248.9 717.9,248.9 718.2,248.6 718.6,248.5 718.9,248.5 719.3,248.5 719.6,248.8 720,249.2 720.3,248.8 720.7,248.3 721,248.2 721.4,248.4 721.7,248.5 722.1,248.5 722.4,248.5 722.8,248.1 723.1,247.7 723.5,248 723.8,248.6 724.2,248.9 724.5,248.6 724.9,248.4 725.2,248.4 725.6,248.4 725.9,248.9 726.3,249.5 726.6,249.6 727,249.3 727.3,249.2 727.7,249.5 728,249.7 728.4,249.4 728.7,249.2 729.1,249.1 729.4,249.2 729.8,249.2 730.1,249.2 730.5,249.2 730.8,249.4 731.2,249.6 731.5,249.6 731.9,249.5 732.2,249.4 732.6,249.4 732.9,249.1 733.3,248.9 733.6,248.8 734,248.6 734.3,248.5 734.7,248.5 735,248.4 735.4,248.4 735.7,248.4 736.1,248.4 736.4,248.5 736.8,248.6 737.1,248.5 737.5,248.3 737.8,248 738.2,247.5 738.5,247.3 738.9,247.9 739.2,248.5 739.6,248.5 739.9,248.5 740.3,248.4 740.6,248.3 741,248.1 741.3,247.9 741.7,247.8 742,247.8 742.4,247.9 742.7,248.1 743.1,248.5 743.4,248.6 743.8,248.5 744.1,248.6 744.5,249.1 744.8,249.5 745.2,249.7 745.5,249.8 745.9,249.5 746.2,249.1 746.6,248.8 746.9,248.4 747.3,248.1 747.6,247.9 748,247.6 748.3,247.6 748.7,247.6 749,247.3 749.4,246.7 749.7,246.3 750.1,246 750.4,245.7 750.8,245.6 751.1,245.5"/>
<polyline fill="none" stroke="#0f63ad" stroke-width="1.7" stroke-linejoin="round" stroke-linecap="round"  points="429.8,245 430.2,245 430.5,245 430.9,245 431.2,245 431.6,245.1 431.9,245.3 432.3,245.5 432.6,245.2 433,245 433.3,245.1 433.7,245.2 434,245.4 434.4,245.5 434.7,245.6 435.1,245.7 435.4,245.8 435.8,246 436.1,246.2 436.5,246.1 436.8,245.9 437.2,245.8 437.5,245.9 437.9,246.1 438.2,246.1 438.6,246.1 438.9,246.2 439.3,246.3 439.6,246.6 440,247.1 440.3,247.4 440.7,247.4 441,247.4 441.4,247.9 441.7,248.3 442.1,248.4 442.4,248.3 442.8,248.1 443.1,248 443.5,248 443.8,248.6 444.2,249.2 444.5,248.6 444.9,247.8 445.2,247.8 445.6,248.1 445.9,248.2 446.3,248 446.6,247.8 447,247.8 447.3,247.7 447.7,247.5 448,247.2 448.4,247.1 448.7,247.1 449.1,247.1 449.4,247.1 449.8,247 450.1,247.2 450.5,247.5 450.8,247.4 451.2,247.3 451.5,247.4 451.9,247.7 452.2,248.1 452.6,247.9 452.9,247.7 453.3,247.3 453.6,246.9 454,246.8 454.3,247 454.7,247.2 455,247.2 455.4,247.2 455.7,247.1 456.1,247 456.4,247.2 456.8,247.6 457.1,247.9 457.5,248 457.8,248.1 458.2,248 458.5,248 458.9,247.9 459.2,247.7 459.6,247.4 459.9,247.1 460.3,246.8 460.6,246.6 461,246.4 461.3,246.1 461.7,245.8 462,245.4 462.4,245 462.7,244.8 463.1,244.7 463.4,244.8 463.8,244.8 464.1,244.9 464.5,245 464.8,245.2 465.2,245.3 465.5,245.3 465.9,245.2 466.2,245.1 466.6,244.9 466.9,244.7 467.3,244.6 467.6,244.5 468,244.3 468.3,244.2 468.7,243.9 469,243.7 469.4,243.5 469.7,243.5 470.1,243.1 470.4,242.8 470.8,242.8 471.1,243.3 471.5,243.6 471.8,243.8 472.2,244.1 472.5,244.1 472.9,243.8 473.2,243.4 473.6,242.7 473.9,242 474.3,241 474.6,240.1 475,239.1 475.3,238.3 475.7,238.3 476,238.6 476.4,238.4 476.7,237.8 477.1,237.3 477.4,237.3 477.8,237.3 478.1,237.1 478.5,237 478.8,236.8 479.2,236.7 479.5,236.6 479.9,236.5 480.2,236.4 480.6,236.8 480.9,237.3 481.3,237.5 481.6,237.7 482,237.6 482.3,237.3 482.7,237.2 483,238 483.4,239 483.7,239 484.1,239 484.4,239 484.8,239.1 485.1,239.2 485.5,239.7 485.8,240.1 486.2,240.6 486.5,241.1 486.9,241.5 487.2,241.8 487.6,242.2 487.9,242.7 488.3,243.2 488.6,243.4 489,243.7 489.3,244 489.7,244.1 490,244.4 490.4,244.8 490.7,245 491.1,244.9 491.4,244.9 491.8,245 492.1,245.2 492.5,245.2 492.8,245.1 493.2,245.3 493.5,245.6 493.9,245.7 494.2,245.6 494.6,245.5 494.9,245.7 495.3,246 495.6,246 496,245.6 496.3,245.7 496.7,246.7 497,247.4 497.4,246.9 497.7,246.4 498.1,246.3 498.4,246.4 498.8,246.5 499.1,246.7 499.5,246.9 499.8,246.5 500.2,246.1 500.5,246.1 500.9,246 501.2,245.8 501.6,245.4 501.9,245.1 502.3,244.8 502.6,244.5 503,244 503.3,243.6 503.7,243.6 504,243.7 504.4,243.7 504.7,243.6 505.1,243.6 505.4,243.7 505.8,243.7 506.1,244 506.5,244.3 506.8,244 507.2,243.4 507.5,243 507.9,243.2 508.2,243.2 508.6,242.2 508.9,241.3 509.3,241.4 509.6,241.8 510,241.8 510.3,241.6 510.7,241.4 511,241 511.4,240.6 511.7,240.6 512.1,240.4 512.4,240.5 512.8,240.7 513.1,240.4 513.5,239.6 513.8,238.7 514.2,238.5 514.5,238.2 514.9,238.1 515.2,238.1 515.6,238 515.9,237.7 516.3,237.3 516.6,236.8 517,236.2 517.3,236.3 517.7,236.7 518,236.6 518.4,236.2 518.7,236.1 519.1,236.4 519.4,236.4 519.8,236.3 520.1,236.2 520.5,236.4 520.8,236.6 521.2,236.5 521.5,235.9 521.9,235.6 522.2,235.6 522.6,235.7 522.9,235.6 523.3,235.5 523.6,235.5 524,235.5 524.3,235.7 524.7,236.4 525,237 525.4,236.2 525.7,235.5 526.1,235.3 526.4,235.2 526.8,235.7 527.1,236.7 527.5,237.3 527.8,237 528.2,236.6 528.5,236.8 528.9,237.1 529.2,237.3 529.6,237.4 529.9,237.4 530.3,237.2 530.6,237 531,237.2 531.3,237.3 531.7,237.5 532,237.7 532.4,237.5 532.7,236.8 533.1,236.5 533.4,236.7 533.8,236.9 534.1,237.2 534.5,237.4 534.8,237.6 535.2,237.7 535.5,237.7 535.9,237.5 536.2,237.3 536.6,237.4 536.9,237.5 537.3,237.5 537.6,237.4 538,237.3 538.3,237.2 538.7,237 539,236.4 539.4,235.7 539.7,236.1 540.1,236.5 540.4,236.6 540.8,236.6 541.1,236.6 541.5,236.8 541.8,237.1 542.2,237.4 542.5,237.6 542.9,237.9 543.2,238.1 543.6,238.2 543.9,238.4 544.3,238.5 544.6,238.3 545,238.1 545.3,238.4 545.7,238.7 546,238.1 546.4,237.1 546.7,236.9 547.1,237.8 547.4,238.6 547.8,238.2 548.1,237.8 548.5,238 548.8,238.3 549.2,238.3 549.5,238 549.9,237.8 550.2,238 550.6,238.1 550.9,238.2 551.3,238.2 551.6,238.2 552,238 552.3,237.9 552.7,237.9 553,237.9 553.4,237.6 553.7,237.5 554.1,237.5 554.4,237.6 554.8,237.9 555.1,238.1 555.5,238.1 555.8,237.7 556.2,237.3 556.5,237 556.9,237 557.2,237.1 557.6,237.2 557.9,237.3 558.3,237.3 558.6,237.3 559,237.1 559.3,236.9 559.7,237 560,237.2 560.4,237.2 560.7,237 561.1,237 561.4,237.5 561.8,238 562.1,237.9 562.5,237.8 562.8,237.1 563.2,236 563.5,235.5 563.9,236.2 564.2,237.1 564.6,237.6 564.9,238.4 565.3,239.6 565.6,240.9 566,242.2 566.3,243.2 566.7,244 567,244.3 567.4,244.5 567.7,245.3 568.1,246.1 568.4,246.5 568.8,246.5 569.1,246.6 569.5,247 569.8,247.3 570.2,248.2 570.5,249.1 570.9,249 571.2,248.7 571.6,248.4 571.9,248.4 572.3,248.6 572.6,249.2 573,249.5 573.3,248.9 573.7,248 574,247 574.4,246 574.7,245 575.1,244.1 575.4,243.2 575.8,241.9 576.1,240.5 576.5,239.8 576.8,239.3 577.2,238.4 577.5,237.3 577.9,236.4 578.2,236 578.6,235.7 578.9,234.4 579.3,233.4 579.6,233.3 580,233.7 580.3,234 580.7,234.1 581,234.1 581.4,234.3 581.7,234.6 582.1,235.4 582.4,236.6 582.8,237.2 583.1,237.3 583.5,237.4 583.8,237.3 584.2,236.9 584.5,237.7 584.9,238.5 585.2,238.6 585.6,238.4 585.9,238.7 586.3,239.9 586.6,241.1 587,241.7 587.3,242.1 587.7,242.4 588,242.6 588.4,242.9 588.7,243.3 589.1,243.5 589.4,243.2 589.8,243.1 590.1,244.2 590.5,245.4 590.8,246.4 591.2,247 591.5,247.5 591.9,247.6 592.2,247.5 592.6,248.8 592.9,250.1 593.3,250.4 593.6,250.5 594,250.6 594.3,250.6 594.7,250.1 595,248.2 595.4,246.3 595.7,246.8 596.1,247.3 596.4,247.9 596.8,248.6 597.1,248.7 597.5,247.6 597.8,246.7 598.2,248.5 598.5,250.3 598.9,249.7 599.2,248.8 599.6,248.9 599.9,249.7 600.3,250.2 600.6,249.8 601,249 601.3,249.1 601.7,249.2 602,248.9 602.4,248.2 602.7,248.4 603.1,249.5 603.4,250.4 603.8,250.3 604.1,250.1 604.5,250.9 604.8,251.8 605.2,252.5 605.5,253 605.9,252.9 606.2,251.3 606.6,249.8 606.9,249.6 607.3,249.6 607.6,248.7 608,247.5 608.3,247.2 608.7,248.5 609,249.6 609.4,248.4 609.7,246.8 610.1,246.7 610.4,247 610.8,246.7 611.1,246.1 611.5,245.7 611.8,244.7 612.2,243.6 612.5,245.2 612.9,247.2 613.2,249 613.6,250.6 613.9,251.6 614.3,251.6 614.6,251.3 615,251 615.3,250.8 615.7,251.3 616,252.1 616.4,251.3 616.7,249.1 617.1,247.6 617.4,248.2 617.8,248.9 618.1,249.5 618.5,249.9 618.8,249.6 619.2,249 619.5,248.5 619.9,248.4 620.2,248.2 620.6,247.1 620.9,246 621.3,245 621.6,244.3 622,244.9 622.3,246.6 622.7,247.7 623,246.1 623.4,244.1 623.7,245 624.1,246.1 624.4,245.9 624.8,245.4 625.1,245.8 625.5,247.8 625.8,249.5 626.2,248 626.5,246.9 626.9,248 627.2,249.7 627.6,250.5 627.9,250.5 628.3,249.2 628.6,246.8 629,244.3 629.3,245.4 629.7,246.9 630,246.7 630.4,245.3 630.7,244.2 631.1,243.5 631.4,242.8 631.8,243 632.1,243.3 632.5,243.4 632.8,243.5 633.2,244.7 633.5,247 633.9,248.5 634.2,247.7 634.6,246.9 634.9,248 635.3,249.4 635.6,249.6 636,249.1 636.3,249.6 636.7,251.1 637,252.2 637.4,251.2 637.7,250.2 638.1,249.8 638.4,249.8 638.8,250.1 639.1,250.6 639.5,250.9 639.8,250.1 640.2,249.7 640.5,248.7 640.9,247.7 641.2,247.3 641.6,247.1 641.9,248.3 642.3,252.3 642.6,255.8 643,254.3 643.3,252.7 643.7,251.7 644,250.9 644.4,249.5 644.7,247.5 645.1,246 645.4,245.8 645.8,245.6 646.1,246.3 646.5,247.1 646.8,247.8 647.2,248.4 647.5,249 647.9,249.5 648.2,249.9 648.6,248.3 648.9,246.6 649.3,247.8 649.6,249.6 650,250.5 650.3,250.6 650.7,250.1 651,247.5 651.4,244.9 651.7,245.2 652.1,246.1 652.4,247 652.8,248.1 653.1,248.4 653.5,247.7 653.8,247.2 654.2,248.8 654.5,250.3 654.9,250.5 655.2,250 655.6,249 655.9,247.9 656.3,246.9 656.6,246.2 657,245.8 657.3,247.4 657.7,249.1 658,249 658.4,248.1 658.7,247.4 659.1,247.1 659.4,246.9 659.8,247.7 660.1,248.5 660.5,248.8 660.8,248.9 661.2,248.9 661.5,248.6 661.9,248.7 662.2,249.8 662.6,250.9 662.9,249 663.3,246.8 663.6,246.8 664,248.7 664.3,249.6 664.7,249.2 665,248.8 665.4,249.4 665.7,249.7 666.1,248.9 666.4,247.8 666.8,248 667.1,249.1 667.5,249.3 667.8,247.4 668.2,245.4 668.5,244.6 668.9,244 669.2,244.5 669.6,245.6 669.9,246.4 670.3,246.6 670.6,247.3 671,249.5 671.3,251.8 671.7,250.6 672,248.7 672.4,247.6 672.7,247.5 673.1,247.8 673.4,249 673.8,250.2 674.1,250.9 674.5,251.7 674.8,251.1 675.2,249.8 675.5,248.6 675.9,247.7 676.2,246.7 676.6,246 676.9,245.3 677.3,244.5 677.6,244.1 678,244.8 678.3,246.4 678.7,247.4 679,246.7 679.4,245.9 679.7,246.4 680.1,246.9 680.4,247.2 680.8,247.4 681.1,247.4 681.5,247.6 681.8,247.8 682.2,247.3 682.5,246.8 682.9,247.3 683.2,248.2 683.6,248.5 683.9,248.3 684.3,248.3 684.6,248.5 685,248.6 685.3,249.1 685.7,249.7 686,249.6 686.4,249.3 686.7,249.2 687.1,249.2 687.4,249 687.8,247.5 688.1,245.9 688.5,245.3 688.8,244.9 689.2,244.4 689.5,244 689.9,243.6 690.2,243.4 690.6,243.3 690.9,244.5 691.3,246.1 691.6,247.3 692,248.1 692.3,248.4 692.7,247.8 693,247.1 693.4,248 693.7,248.8 694.1,246.6 694.4,243.8 694.8,243.4 695.1,244.9 695.5,246.1 695.8,245.6 696.2,245.2 696.5,245.8 696.9,246.4 697.2,246.2 697.6,245.5 697.9,245 698.3,244.6 698.6,244.2 699,243.6 699.3,243 699.7,243.2 700,243.5 700.4,243.4 700.7,242.9 701.1,242.6 701.4,242.6 701.8,242.6 702.1,244.3 702.5,246 702.8,245.9 703.2,244.9 703.5,244.7 703.9,245.4 704.2,246 704.6,246 704.9,246.1 705.3,247 705.6,247.9 706,248.1 706.3,247.6 706.7,246.9 707,246.7 707.4,246.4 707.7,245.8 708.1,245.1 708.4,244.6 708.8,244 709.1,243.5 709.5,243.1 709.8,242.8 710.2,242.8 710.5,243 710.9,243.1 711.2,243.2 711.6,243.2 711.9,242.9 712.3,242.7 712.6,242.6 713,242.5 713.3,242.5 713.7,242.4 714,242.3 714.4,242.2 714.7,242.2 715.1,242.2 715.4,242.3 715.8,242.8 716.1,243.3 716.5,243.5 716.8,243.6 717.2,243.5 717.5,243.1 717.9,242.9 718.2,243.1 718.6,243.4 718.9,243.4 719.3,243.4 719.6,243.4 720,243.2 720.3,243.2 720.7,243.3 721,243.4 721.4,243.5 721.7,243.7 722.1,243.7 722.4,243.6 722.8,243.6 723.1,243.7 723.5,243.8 723.8,243.9 724.2,244 724.5,243.8 724.9,243.7 725.2,243.9 725.6,244.3 725.9,244.5 726.3,244.3 726.6,244.1 727,243.9 727.3,243.8 727.7,244.1 728,244.5 728.4,244.6 728.7,244.4 729.1,244.3 729.4,244.5 729.8,244.6 730.1,244.4 730.5,244.2 730.8,243.9 731.2,243.6 731.5,243.5 731.9,244 732.2,244.4 732.6,244.1 732.9,243.9 733.3,244.1 733.6,244.5 734,244.5 734.3,244.2 734.7,244 735,244 735.4,244 735.7,243.5 736.1,243.1 736.4,243 736.8,243.1 737.1,243.1 737.5,242.7 737.8,242.3 738.2,242.3 738.5,242.2 738.9,242.3 739.2,242.3 739.6,242.2 739.9,241.9 740.3,241.7 740.6,241.7 741,241.8 741.3,241.6 741.7,241.4 742,241.5 742.4,241.8 742.7,242.1 743.1,242.4 743.4,242.7 743.8,243.1 744.1,243.4 744.5,243.5 744.8,243.5 745.2,243.7 745.5,244 745.9,244.1 746.2,243.7 746.6,243.2 746.9,243.1 747.3,242.8 747.6,242.6 748,242.3 748.3,242.1 748.7,241.9 749,241.7 749.4,241.4 749.7,241 750.1,240.5 750.4,240.1 750.8,239.7 751.1,239.6"/>
<text x="651.4" y="297.8" font-size="8.6" text-anchor="middle" fill="#fb7f14" font-family="'Liberation Sans', Arial, sans-serif"  stroke="#fb7f14" stroke-width="0.18">Midday</text>
<rect x="429.5" y="226.2" width="321.9" height="113.4" fill="none" stroke="#6a6a6a" stroke-width="0.9"/>
<path d="M429.5,226.2 V339.6 H751.4" fill="none" stroke="#3c3c3c" stroke-width="0.9"/>
<path d="M429.5,339.6 v2.8 M442.9,339.6 v1.6 M456.3,339.6 v2.8 M469.7,339.6 v1.6 M483.1,339.6 v2.8 M496.6,339.6 v1.6 M510,339.6 v2.8 M523.4,339.6 v1.6 M536.8,339.6 v2.8 M550.2,339.6 v1.6 M563.6,339.6 v2.8 M577,339.6 v1.6 M590.5,339.6 v2.8 M603.9,339.6 v1.6 M617.3,339.6 v2.8 M630.7,339.6 v1.6 M644.1,339.6 v2.8 M657.5,339.6 v1.6 M670.9,339.6 v2.8 M684.3,339.6 v1.6 M697.8,339.6 v2.8 M711.2,339.6 v1.6 M724.6,339.6 v2.8 M738,339.6 v1.6 M751.4,339.6 v2.8 M429.5,340.4 h-2.9 M429.5,331.6 h-1.6 M429.5,322.8 h-2.9 M429.5,313.9 h-1.6 M429.5,305.1 h-2.9 M429.5,296.3 h-1.6 M429.5,287.4 h-2.9 M429.5,278.6 h-1.6 M429.5,269.8 h-2.9 M429.5,261 h-1.6 M429.5,252.2 h-2.9 M429.5,243.3 h-1.6 M429.5,234.5 h-2.9" stroke="#3c3c3c" stroke-width="0.8" fill="none"/>
<text x="424.3" y="343.4" font-size="8.5" text-anchor="end" fill="#1a1a1a" font-family="'Liberation Sans', Arial, sans-serif"  stroke="#1a1a1a" stroke-width="0.18">-20</text>
<text x="424.3" y="325.8" font-size="8.5" text-anchor="end" fill="#1a1a1a" font-family="'Liberation Sans', Arial, sans-serif"  stroke="#1a1a1a" stroke-width="0.18">-15</text>
<text x="424.3" y="308.1" font-size="8.5" text-anchor="end" fill="#1a1a1a" font-family="'Liberation Sans', Arial, sans-serif"  stroke="#1a1a1a" stroke-width="0.18">-10</text>
<text x="424.3" y="290.4" font-size="8.5" text-anchor="end" fill="#1a1a1a" font-family="'Liberation Sans', Arial, sans-serif"  stroke="#1a1a1a" stroke-width="0.18">-5</text>
<text x="424.3" y="272.8" font-size="8.5" text-anchor="end" fill="#1a1a1a" font-family="'Liberation Sans', Arial, sans-serif"  stroke="#1a1a1a" stroke-width="0.18">0</text>
<text x="424.3" y="255.2" font-size="8.5" text-anchor="end" fill="#1a1a1a" font-family="'Liberation Sans', Arial, sans-serif"  stroke="#1a1a1a" stroke-width="0.18">5</text>
<text x="424.3" y="237.5" font-size="8.5" text-anchor="end" fill="#1a1a1a" font-family="'Liberation Sans', Arial, sans-serif"  stroke="#1a1a1a" stroke-width="0.18">10</text>
<text x="431" y="351" font-size="7.1" text-anchor="middle" fill="#1a1a1a" font-family="'Liberation Sans', Arial, sans-serif"  stroke="#1a1a1a" stroke-width="0.18">8 PM</text>
<text x="457.3" y="351" font-size="7.1" text-anchor="middle" fill="#1a1a1a" font-family="'Liberation Sans', Arial, sans-serif"  stroke="#1a1a1a" stroke-width="0.18">10 PM</text>
<text x="485.3" y="351" font-size="7.1" text-anchor="middle" fill="#1a1a1a" font-family="'Liberation Sans', Arial, sans-serif"  stroke="#1a1a1a" stroke-width="0.18">12 AM</text>
<text x="513.2" y="351" font-size="7.1" text-anchor="middle" fill="#1a1a1a" font-family="'Liberation Sans', Arial, sans-serif"  stroke="#1a1a1a" stroke-width="0.18">2 AM</text>
<text x="539.5" y="351" font-size="7.1" text-anchor="middle" fill="#1a1a1a" font-family="'Liberation Sans', Arial, sans-serif"  stroke="#1a1a1a" stroke-width="0.18">4 AM</text>
<text x="566.4" y="351" font-size="7.1" text-anchor="middle" fill="#1a1a1a" font-family="'Liberation Sans', Arial, sans-serif"  stroke="#1a1a1a" stroke-width="0.18">6 AM</text>
<text x="593.8" y="351" font-size="7.1" text-anchor="middle" fill="#1a1a1a" font-family="'Liberation Sans', Arial, sans-serif"  stroke="#1a1a1a" stroke-width="0.18">8 AM</text>
<text x="619.8" y="351" font-size="7.1" text-anchor="middle" fill="#1a1a1a" font-family="'Liberation Sans', Arial, sans-serif"  stroke="#1a1a1a" stroke-width="0.18">10 AM</text>
<text x="648.1" y="351" font-size="7.1" text-anchor="middle" fill="#1a1a1a" font-family="'Liberation Sans', Arial, sans-serif"  stroke="#1a1a1a" stroke-width="0.18">12 PM</text>
<text x="674.1" y="351" font-size="7.1" text-anchor="middle" fill="#1a1a1a" font-family="'Liberation Sans', Arial, sans-serif"  stroke="#1a1a1a" stroke-width="0.18">2 PM</text>
<text x="700.3" y="351" font-size="7.1" text-anchor="middle" fill="#1a1a1a" font-family="'Liberation Sans', Arial, sans-serif"  stroke="#1a1a1a" stroke-width="0.18">4 PM</text>
<text x="726.8" y="351" font-size="7.1" text-anchor="middle" fill="#1a1a1a" font-family="'Liberation Sans', Arial, sans-serif"  stroke="#1a1a1a" stroke-width="0.18">6 PM</text>
<text x="750.5" y="351" font-size="7.1" text-anchor="middle" fill="#1a1a1a" font-family="'Liberation Sans', Arial, sans-serif"  stroke="#1a1a1a" stroke-width="0.18">8 PM</text>
<text x="591.1" y="366.3" font-size="11.5" text-anchor="middle" fill="#1a1a1a" font-family="'Liberation Sans', Arial, sans-serif"  stroke="#1a1a1a" stroke-width="0.18">Time (h)</text>
<text transform="translate(404.5 282.2) rotate(-90)" font-size="9.65" text-anchor="middle" fill="#1a1a1a" stroke="#1a1a1a" stroke-width="0.18" font-family="'Liberation Sans', Arial, sans-serif">Temperature difference (<tspan font-size="5.8" dy="-3.2">o</tspan><tspan dy="3.2">C)</tspan></text>
<line x1="454.9" y1="286.3" x2="475.2" y2="286.3" stroke="#fb7f14" stroke-width="1.7"/>
<line x1="454.9" y1="297.5" x2="475.2" y2="297.5" stroke="#14d28c" stroke-width="1.7"/>
<line x1="454.9" y1="310.2" x2="475.2" y2="310.2" stroke="#ff3db4" stroke-width="1.7"/>
<line x1="454.9" y1="323.6" x2="475.2" y2="323.6" stroke="#0f63ad" stroke-width="1.7"/>
<text x="478" y="289.4" font-size="8.6" text-anchor="start" fill="#1a1a1a" font-family="'Liberation Sans', Arial, sans-serif"  stroke="#1a1a1a" stroke-width="0.18">PMMA</text>
<text x="478" y="300.5" font-size="8.6" fill="#1a1a1a" stroke="#1a1a1a" stroke-width="0.18" font-family="'Liberation Sans', Arial, sans-serif">PMMA<tspan font-size="5.7" dx="2.2" dy="2.4">MPA</tspan></text>
<text x="478" y="313.3" font-size="8.6" fill="#1a1a1a" stroke="#1a1a1a" stroke-width="0.18" font-family="'Liberation Sans', Arial, sans-serif">PMMA<tspan font-size="5.7" dx="2.2" dy="2.4">NP</tspan></text>
<text x="478" y="326.6" font-size="8.6" fill="#1a1a1a" stroke="#1a1a1a" stroke-width="0.18" font-family="'Liberation Sans', Arial, sans-serif">PMMA<tspan font-size="5.7" dx="2.2" dy="2.4">HPA</tspan></text>
</svg>
</body></html>
